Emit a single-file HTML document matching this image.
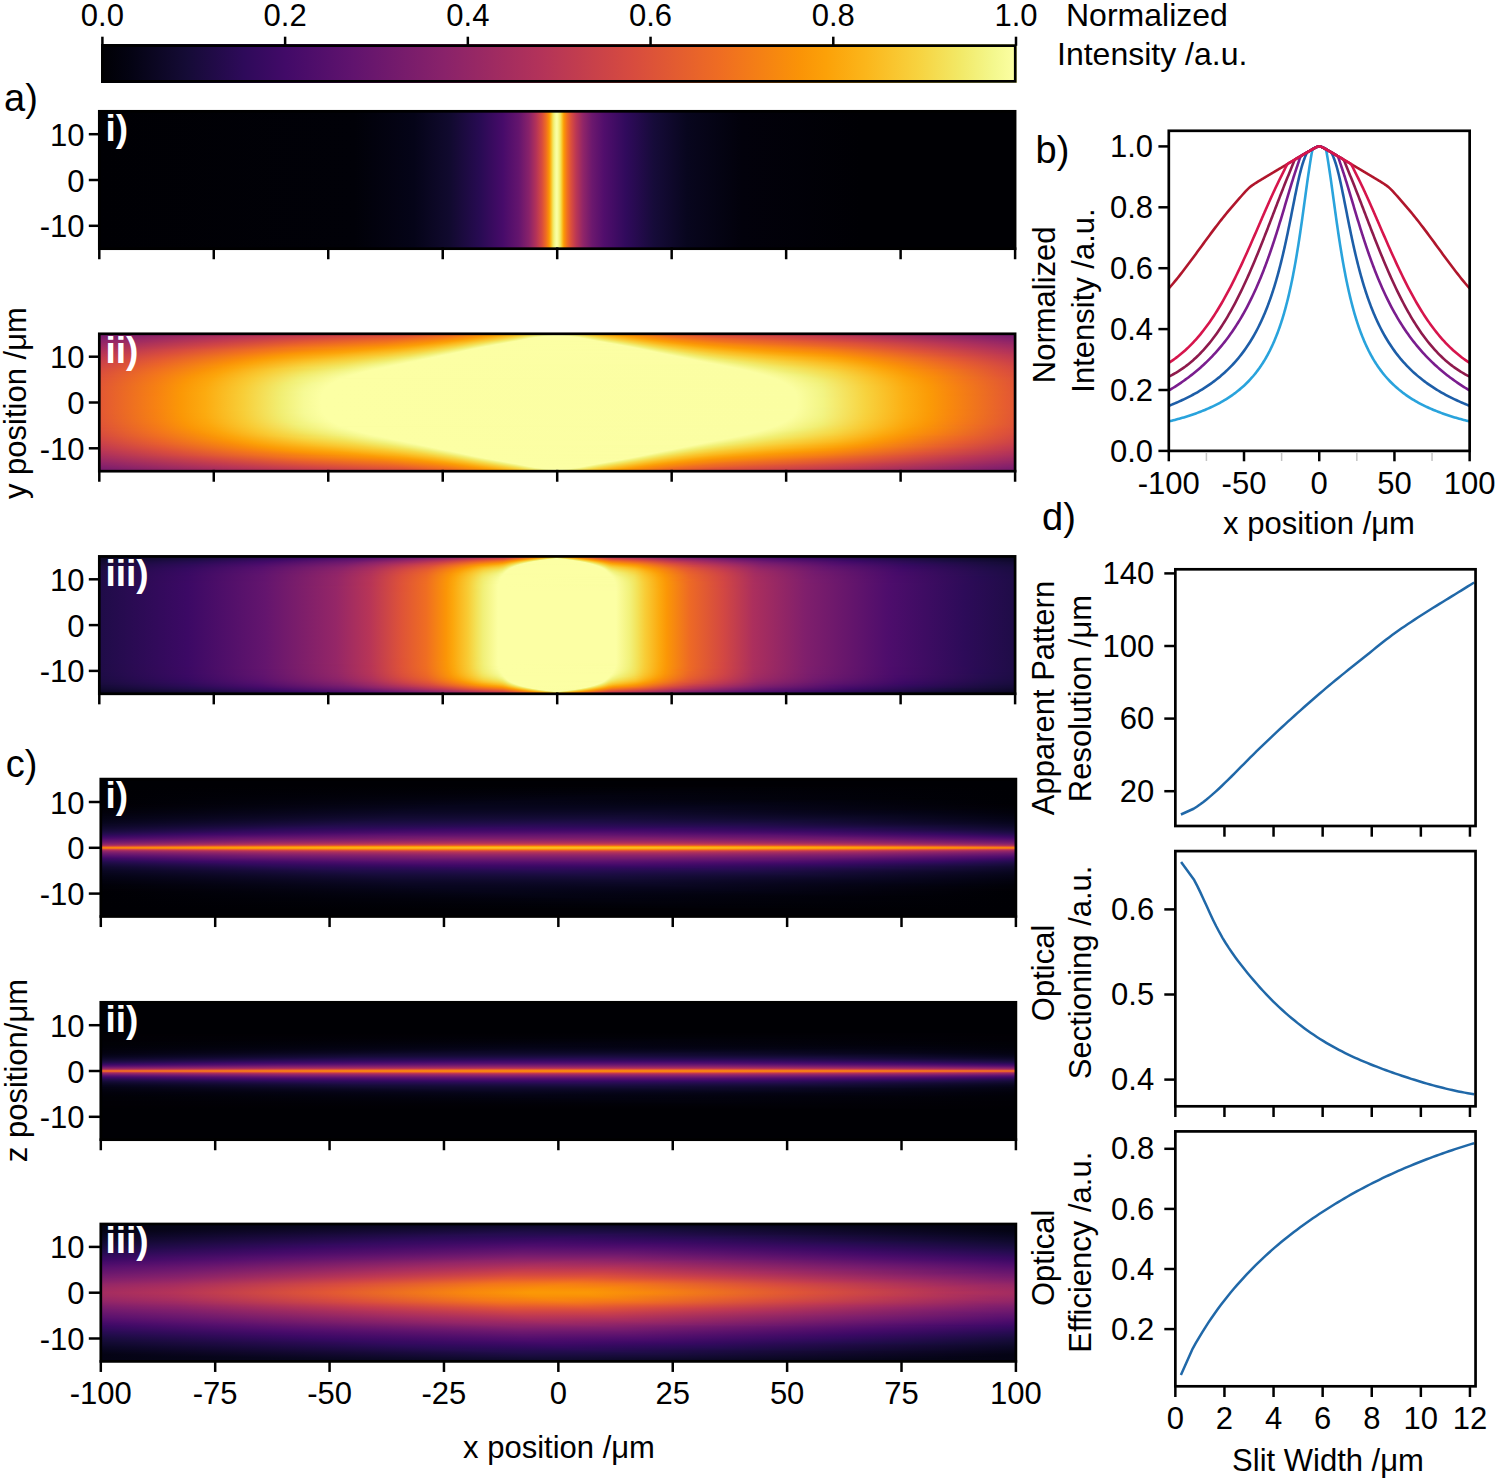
<!DOCTYPE html>
<html><head><meta charset="utf-8"><title>Figure</title><style>html,body{margin:0;padding:0;background:#fff;}body{width:1500px;height:1482px;position:relative;overflow:hidden;font-family:"Liberation Sans",sans-serif;}.hm{position:absolute;}</style></head><body>
<div class="hm" style="left:101px;top:44px;width:916px;height:39px;background:linear-gradient(90deg,#000004 0px,#040313 30px,#150b36 86px,#2e0a5a 143px,#420a68 185px,#60136e 251px,#89226a 343px,#b2325a 437px,#d74b3f 531px,#ef6d22 620px,#fa9307 698px,#fca108 725px,#fbb61b 765px,#f7d340 818px,#f2e967 859px,#f4f88e 893px,#fcffa4 915px)"></div>
<div class="hm" style="left:99px;top:111px;width:917px;height:138px;background:linear-gradient(90deg,#000004 0px,#010108 255px,#050418 315px,#110a2f 351px,#280b53 381px,#470b6a 404px,#65156e 420px,#89226a 430px,#b33259 437px,#d84c3e 443px,#ef6c22 447px,#fa9207 450px,#fca50a 451px,#fbbb20 452px,#f3e55e 454px,#f1f079 455px,#f4f88e 456px,#f9fd9e 457px,#fbfea2 458px,#f6fa95 459px,#f2ea6a 461px,#f5da4b 462px,#fac42b 463px,#fcad12 464px,#fb9806 465px,#f1701f 468px,#db4f3c 472px,#bb3754 477px,#912568 484px,#6c186e 493px,#510e6c 505px,#300a5c 527px,#160b39 555px,#08061e 588px,#02010b 643px,#000004 764px,#000004 916px)"></div>
<div class="hm" style="left:99px;top:333px;width:917px;height:1px;background:linear-gradient(90deg,#70196e 0px,#a72d60 148px,#bd3853 225px,#d64a40 316px,#ea6429 360px,#fa9307 402px,#fca50a 414px,#fbbd22 426px,#f4dd4f 443px,#f1ee71 458px,#f7d33f 479px,#fcad11 497px,#fb9b06 508px,#f78410 525px,#e65e2e 563px,#d24644 612px,#a92e5e 760px,#711a6e 910px,#6f196e 916px)"></div>
<div class="hm" style="left:99px;top:334px;width:917px;height:1px;background:linear-gradient(90deg,#731a6e 0px,#ab2f5e 144px,#c23b50 221px,#da4e3c 312px,#ed6925 357px,#fb9706 397px,#fca90e 409px,#fac127 422px,#f2e863 441px,#f5f890 457px,#f3f687 462px,#f4de52 480px,#fbbb20 496px,#fca208 511px,#fa8f08 524px,#eb6628 562px,#d84c3e 609px,#bf3952 710px,#85216b 869px,#731a6e 916px)"></div>
<div class="hm" style="left:99px;top:335px;width:917px;height:1px;background:linear-gradient(90deg,#771c6d 0px,#ae305c 140px,#c73e4c 218px,#de5338 309px,#f06e21 354px,#fb9706 389px,#fca80d 401px,#fac52c 418px,#f4e055 430px,#f4f78b 444px,#fcffa4 454px,#fbfea2 463px,#f2f17b 476px,#f7d13c 492px,#fbb91e 504px,#fca108 519px,#f98e09 533px,#ed6a25 567px,#dc503a 613px,#c43c4f 713px,#8a236a 867px,#771c6d 916px)"></div>
<div class="hm" style="left:99px;top:336px;width:917px;height:1px;background:linear-gradient(90deg,#7b1d6d 0px,#b2325a 136px,#cc4249 216px,#e25734 306px,#f2731d 350px,#fb9806 382px,#fca90d 394px,#f9c830 413px,#f5dd4f 423px,#f3f587 435px,#fcffa4 444px,#fcffa4 472px,#f3f484 481px,#f6d948 494px,#fac128 506px,#fca50a 524px,#fa9307 537px,#f06f20 570px,#e05536 615px,#ca404a 710px,#942667 855px,#7b1d6d 916px)"></div>
<div class="hm" style="left:99px;top:337px;width:917px;height:1px;background:linear-gradient(90deg,#7f1f6c 0px,#b63458 132px,#d14545 214px,#e65c2f 303px,#f47919 347px,#fb9806 375px,#fcab0f 388px,#f9cb34 408px,#f3e258 420px,#f4f78b 430px,#fcffa4 436px,#fcfea3 480px,#f1ee72 490px,#f5db4b 499px,#fbbe24 515px,#fca309 533px,#fa9108 546px,#f0701f 579px,#e25833 624px,#c23b50 751px,#8b2369 885px,#7f1e6c 916px)"></div>
<div class="hm" style="left:99px;top:338px;width:917px;height:1px;background:linear-gradient(90deg,#83206b 0px,#b93656 129px,#d54941 212px,#e9612b 299px,#f57c16 342px,#fb9a06 369px,#fcac11 382px,#f8cc36 402px,#f3e45c 415px,#f3f586 424px,#fcffa4 430px,#fcffa4 485px,#f1ee73 495px,#f5db4c 505px,#fac026 521px,#fca108 541px,#fa8f09 555px,#ef6d22 594px,#e15635 650px,#c73e4c 751px,#902468 884px,#83206c 916px)"></div>
<div class="hm" style="left:99px;top:339px;width:917px;height:1px;background:linear-gradient(90deg,#87216b 0px,#bd3853 126px,#d94d3d 210px,#ec6627 296px,#f68112 338px,#fb9a06 362px,#fcac11 375px,#f8cf3a 397px,#f2e864 411px,#f5f891 421px,#fcffa4 425px,#fcffa4 490px,#f1ef76 500px,#f5da4b 512px,#fbbc22 530px,#fca108 548px,#fa8f09 563px,#ef6d21 605px,#df5337 678px,#cb4149 754px,#932667 887px,#86216b 916px)"></div>
<div class="hm" style="left:99px;top:340px;width:917px;height:1px;background:linear-gradient(90deg,#8b236a 0px,#c13a51 123px,#dd5239 208px,#ee6c23 293px,#f8870e 335px,#fb9c06 356px,#fcaf13 370px,#f7d23e 392px,#f2ea69 406px,#f7fa96 417px,#fcfea4 420px,#fcffa4 495px,#f1ef76 506px,#f5d949 519px,#fbb91e 539px,#fca008 556px,#f98d0a 574px,#f06f20 615px,#df5437 697px,#ca404a 768px,#8f2468 904px,#8a226a 916px)"></div>
<div class="hm" style="left:99px;top:341px;width:917px;height:1px;background:linear-gradient(90deg,#8e2469 0px,#c43c4e 121px,#e15734 207px,#f1721e 291px,#f98d0a 333px,#fca008 352px,#fbb71c 369px,#f6d847 389px,#f1ef75 403px,#fbfea1 414px,#fcffa4 417px,#fbfea3 501px,#f1ef76 512px,#f6d948 526px,#fbb81d 546px,#fca108 563px,#fa8e09 581px,#f1721e 623px,#e25734 706px,#c73e4c 788px,#902468 912px,#8e2469 916px)"></div>
<div class="hm" style="left:99px;top:342px;width:917px;height:1px;background:linear-gradient(90deg,#922568 0px,#c83f4b 120px,#e55b30 205px,#f3771a 288px,#fa9307 330px,#fca40a 347px,#fbbd22 366px,#f5dc4d 385px,#f2f381 400px,#fcfea4 409px,#fcffa4 506px,#f1f076 518px,#f6d746 533px,#fbb91e 552px,#fca209 570px,#fa9008 589px,#f2741c 633px,#db4f3b 747px,#b0315b 853px,#922568 916px)"></div>
<div class="hm" style="left:99px;top:343px;width:917px;height:1px;background:linear-gradient(90deg,#962766 0px,#cc4248 119px,#e8602c 204px,#f57d15 286px,#fb9906 328px,#fcaa0f 345px,#fac52c 365px,#f4e156 382px,#f4f78c 397px,#fcffa4 404px,#fcfea4 512px,#f1f076 524px,#f6d746 539px,#fbbb20 557px,#fca209 578px,#fa9008 598px,#f2741d 651px,#de5338 749px,#b73557 847px,#952666 916px)"></div>
<div class="hm" style="left:99px;top:344px;width:917px;height:1px;background:linear-gradient(90deg,#992865 0px,#ce4347 114px,#eb6528 201px,#f78311 284px,#fb9c06 322px,#fcaf13 341px,#f9ca32 362px,#f3e45c 378px,#f5f88f 392px,#fcffa4 398px,#fbfea2 518px,#f1ef76 530px,#f6d746 545px,#fbbc22 563px,#fca309 586px,#fa9008 608px,#f0701f 677px,#e05536 755px,#ba3655 850px,#992865 916px)"></div>
<div class="hm" style="left:99px;top:345px;width:917px;height:1px;background:linear-gradient(90deg,#9d2964 0px,#d04545 110px,#ed6925 198px,#f8890c 282px,#fb9e07 315px,#fcb216 336px,#f8cd37 358px,#f3e55e 373px,#f5f991 387px,#fcffa4 393px,#fcffa4 523px,#f1ef75 536px,#f6d948 550px,#fac026 567px,#fca50b 592px,#fa9407 614px,#f1721e 690px,#e15635 762px,#b83557 861px,#9d2964 916px)"></div>
<div class="hm" style="left:99px;top:346px;width:917px;height:1px;background:linear-gradient(90deg,#a02b62 0px,#d34743 107px,#f06e21 196px,#fa8f09 280px,#fca208 310px,#fbb91e 335px,#f7d542 357px,#f2ea6a 371px,#f7fa97 383px,#fcffa4 387px,#fbfea3 529px,#f1ef76 541px,#f5da4a 555px,#fac228 573px,#fca70c 599px,#fb9606 623px,#f2741c 700px,#e05536 774px,#ba3655 864px,#a02a63 916px)"></div>
<div class="hm" style="left:99px;top:347px;width:917px;height:1px;background:linear-gradient(90deg,#a42c61 0px,#d64a40 105px,#f2731d 194px,#fb9606 280px,#fca70c 307px,#fac026 334px,#f5db4b 355px,#f1ee72 368px,#fafd9f 380px,#fcffa4 383px,#fcfea3 534px,#f1f077 546px,#f5db4c 560px,#fac127 581px,#fca70c 608px,#fb9606 635px,#f2751b 716px,#db4f3c 798px,#ba3655 871px,#a32c61 916px)"></div>
<div class="hm" style="left:99px;top:348px;width:917px;height:1px;background:linear-gradient(90deg,#a72d5f 0px,#d64a40 96px,#f3771a 190px,#fb9906 273px,#fcaa0e 301px,#fac32a 329px,#f5dc4e 350px,#f1ee73 363px,#fafd9f 375px,#fcffa4 378px,#fcfea4 539px,#f1f078 551px,#f4de51 564px,#fac42b 585px,#fcac10 612px,#fb9a06 640px,#f57d15 709px,#e25734 787px,#c13a51 865px,#a72d60 916px)"></div>
<div class="hm" style="left:99px;top:349px;width:917px;height:1px;background:linear-gradient(90deg,#aa2f5e 0px,#d64a40 86px,#f07020 167px,#f98d0a 234px,#fca008 274px,#fbb61a 307px,#f8cf3a 333px,#f2e762 352px,#f5f890 366px,#fcffa4 372px,#fbfea3 544px,#f1ef75 557px,#f4dd4f 571px,#fac42b 593px,#fcac10 622px,#fb9a06 654px,#f57d15 724px,#dc503a 811px,#b93556 887px,#aa2f5e 916px)"></div>
<div class="hm" style="left:99px;top:350px;width:917px;height:1px;background:linear-gradient(90deg,#ad305c 0px,#d64a40 79px,#f06f21 156px,#f98d0a 217px,#fca008 261px,#fbb71b 299px,#f8ce38 325px,#f3e45d 344px,#f4f78d 360px,#fcffa4 367px,#fbfea2 549px,#f1f077 562px,#f5db4c 579px,#fac229 602px,#fcaa0f 636px,#fb9906 669px,#f68013 729px,#dc503a 821px,#b1325b 909px,#ad305c 916px)"></div>
<div class="hm" style="left:99px;top:351px;width:917px;height:1px;background:linear-gradient(90deg,#b1315b 0px,#d74b3f 75px,#f1711f 152px,#fa9008 211px,#fca309 254px,#fbbc22 297px,#f7d340 323px,#f2e967 342px,#f7fa97 358px,#fcffa4 363px,#fcffa4 553px,#f1f079 567px,#f5db4d 585px,#fac42c 608px,#fcab10 646px,#fb9906 681px,#f8850f 729px,#e05536 817px,#b53458 906px,#b0315b 916px)"></div>
<div class="hm" style="left:99px;top:352px;width:917px;height:1px;background:linear-gradient(90deg,#b33359 0px,#d94d3d 73px,#f2751b 151px,#fa9307 203px,#fca40a 245px,#fac026 292px,#f6d543 318px,#f2ea69 337px,#f7fa97 353px,#fcffa4 358px,#fcfea4 558px,#f1f078 573px,#f5dc4e 591px,#f9c72e 614px,#fcab10 657px,#fb9a06 694px,#f8880d 734px,#e05536 824px,#b93656 905px,#b33359 916px)"></div>
<div class="hm" style="left:99px;top:353px;width:917px;height:1px;background:linear-gradient(90deg,#b63457 0px,#da4e3c 70px,#f47819 149px,#fb9506 196px,#fca70c 238px,#fac42a 288px,#f5d949 315px,#f1ec6e 333px,#f8fb9a 349px,#fcffa4 354px,#fbfea3 563px,#f1f077 579px,#f5dd4f 597px,#f9c830 621px,#fcab10 669px,#fb9a06 708px,#f8880d 742px,#e25834 826px,#bc3754 904px,#b63458 916px)"></div>
<div class="hm" style="left:99px;top:354px;width:917px;height:1px;background:linear-gradient(90deg,#b93656 0px,#dc503a 68px,#f57d15 149px,#fb9706 189px,#fcaa0f 232px,#fac62d 282px,#f5db4c 310px,#f1ee72 329px,#fafda0 346px,#fcffa4 350px,#fcfea3 568px,#f1ef76 585px,#f5dc4e 604px,#f9c72f 632px,#fcab0f 682px,#fb9706 726px,#f57c16 768px,#d94d3d 853px,#b93656 916px)"></div>
<div class="hm" style="left:99px;top:355px;width:917px;height:1px;background:linear-gradient(90deg,#bc3754 0px,#de5238 67px,#f78112 149px,#fb9906 184px,#fcb115 234px,#f8cd37 284px,#f3e157 310px,#f2f381 329px,#fcffa4 343px,#fcfea3 573px,#f1f077 590px,#f4de52 609px,#f9c932 638px,#fcad11 689px,#fb9706 734px,#f57c16 775px,#db4f3b 854px,#bb3754 916px)"></div>
<div class="hm" style="left:99px;top:356px;width:917px;height:1px;background:linear-gradient(90deg,#be3952 0px,#df5437 65px,#f8850f 148px,#fb9a06 178px,#fbb91e 239px,#f6d542 286px,#f2e763 310px,#f6f993 331px,#fcffa4 339px,#fbfea3 578px,#f1f077 596px,#f4df52 616px,#f9c830 650px,#fcae12 700px,#fb9706 741px,#f57c16 781px,#dd513a 856px,#be3853 916px)"></div>
<div class="hm" style="left:99px;top:357px;width:917px;height:1px;background:linear-gradient(90deg,#c13a51 0px,#e15635 64px,#f8880d 146px,#fb9c06 174px,#fbb61b 223px,#f7d13c 271px,#f3e55e 300px,#f3f688 321px,#fcffa4 334px,#fbfea3 583px,#f1f076 602px,#f4de52 624px,#fac52c 664px,#fca40a 730px,#fa9207 756px,#e9622b 831px,#c93f4b 900px,#c03a51 916px)"></div>
<div class="hm" style="left:99px;top:358px;width:917px;height:1px;background:linear-gradient(90deg,#c33b4f 0px,#e35833 63px,#f8890c 142px,#fb9d06 169px,#fbb81d 216px,#f7d13d 263px,#f2e661 295px,#f4f78d 318px,#fcffa4 329px,#fbfea2 588px,#f1f076 608px,#f4de52 632px,#fac52c 674px,#fca309 738px,#fa9008 764px,#e8602d 840px,#c9404b 903px,#c33b4f 916px)"></div>
<div class="hm" style="left:99px;top:359px;width:917px;height:1px;background:linear-gradient(90deg,#c53d4e 0px,#e45a31 62px,#f98a0b 138px,#fb9e07 164px,#fbbc21 213px,#f7d441 259px,#f2e967 292px,#f6fa94 316px,#fcffa4 324px,#fbfea2 593px,#f1f077 614px,#f4de51 641px,#fac52c 683px,#fca70c 738px,#fb9506 763px,#ea6429 838px,#cd4248 901px,#c53d4e 916px)"></div>
<div class="hm" style="left:99px;top:360px;width:917px;height:1px;background:linear-gradient(90deg,#c73e4c 0px,#e65d2f 62px,#f98d09 137px,#fca008 162px,#fac026 212px,#f6d746 256px,#f1ed6f 290px,#f8fc9b 314px,#fcffa4 320px,#fcfea4 597px,#f1f17a 619px,#f4de50 649px,#fac62d 691px,#fcab10 739px,#fb9806 764px,#f57e15 800px,#e25734 862px,#c73e4c 916px)"></div>
<div class="hm" style="left:99px;top:361px;width:917px;height:1px;background:linear-gradient(90deg,#c9404b 0px,#e75f2e 61px,#f98e09 133px,#fca108 157px,#fac32a 209px,#f5da49 252px,#f1ef75 287px,#fafda1 312px,#fcffa4 318px,#fcfea4 602px,#f1f079 626px,#f5dc4d 660px,#fac52d 702px,#fca80d 749px,#fb9606 772px,#e9612b 850px,#cc4248 910px,#c93f4b 916px)"></div>
<div class="hm" style="left:99px;top:362px;width:917px;height:1px;background:linear-gradient(90deg,#cb4149 0px,#e8602c 60px,#fa8f08 130px,#fca209 154px,#f9c72f 208px,#f5dc4e 249px,#f2f27c 285px,#fcffa4 310px,#fcfea3 607px,#f1f078 633px,#f5db4c 669px,#fbb61a 736px,#fb9d06 768px,#f8890c 794px,#e75e2e 859px,#cb4149 916px)"></div>
<div class="hm" style="left:99px;top:363px;width:917px;height:1px;background:linear-gradient(90deg,#cd4248 0px,#ea632a 60px,#fa9207 129px,#fca40a 152px,#f9cb34 207px,#f4df54 247px,#f3f586 285px,#fcffa4 305px,#fcfea4 612px,#f1f077 640px,#f5dc4d 675px,#fbba1f 736px,#fb9e07 771px,#f98b0b 796px,#e85f2d 860px,#cd4248 916px)"></div>
<div class="hm" style="left:99px;top:364px;width:917px;height:1px;background:linear-gradient(90deg,#cf4446 0px,#ea6429 59px,#fa9407 127px,#fca50b 149px,#f8cf39 206px,#f3e259 245px,#f4f88e 284px,#fcffa4 300px,#fbfea2 618px,#f1ef75 648px,#f5db4c 683px,#fbbd23 736px,#fc9f07 774px,#f98c0a 798px,#e9622b 860px,#ce4347 916px)"></div>
<div class="hm" style="left:99px;top:365px;width:917px;height:1px;background:linear-gradient(90deg,#d04545 0px,#ec6627 59px,#fb9606 126px,#fca80d 148px,#f7d23f 206px,#f2e65f 244px,#f5f992 281px,#fcffa4 295px,#fbfea2 623px,#f1ef75 654px,#f5dc4e 689px,#fac127 736px,#fca108 776px,#f98e09 800px,#ea632a 861px,#d04545 916px)"></div>
<div class="hm" style="left:99px;top:366px;width:917px;height:1px;background:linear-gradient(90deg,#d24644 0px,#ed6825 59px,#fb9606 122px,#fca80d 144px,#f6d643 205px,#f2e864 242px,#f6fa94 277px,#fcffa4 291px,#fbfea2 628px,#f1ef75 660px,#f5dd4f 695px,#fac32a 738px,#fca108 779px,#fa8f09 802px,#eb6429 862px,#d24644 916px)"></div>
<div class="hm" style="left:99px;top:367px;width:917px;height:1px;background:linear-gradient(90deg,#d34743 0px,#ed6a24 58px,#fa9407 117px,#fca60c 139px,#f6d948 204px,#f2eb6a 241px,#f7fb99 275px,#fcffa4 286px,#fbfea3 633px,#f1ef75 666px,#f4de51 700px,#fac42b 741px,#fca208 782px,#fa8f08 805px,#eb6528 864px,#d34743 916px)"></div>
<div class="hm" style="left:99px;top:368px;width:917px;height:1px;background:linear-gradient(90deg,#d54941 0px,#ee6c23 58px,#fa9407 113px,#fca60b 135px,#f8d03b 186px,#f1ee71 241px,#fafd9f 275px,#fcffa4 282px,#fbfea2 638px,#f1ef74 672px,#f4de52 706px,#fbbf25 751px,#fca008 787px,#f98d09 811px,#ea632a 869px,#d44842 916px)"></div>
<div class="hm" style="left:99px;top:369px;width:917px;height:1px;background:linear-gradient(90deg,#d64a40 0px,#ef6e21 58px,#fa9307 109px,#fca50b 131px,#f8cd37 178px,#f2e55f 218px,#f5f88f 258px,#fcffa4 276px,#fbfea2 643px,#f1ef75 677px,#f7d13d 732px,#fca70c 782px,#fb9606 803px,#f2741c 849px,#db4f3b 905px,#d54a41 916px)"></div>
<div class="hm" style="left:99px;top:370px;width:917px;height:1px;background:linear-gradient(90deg,#d74b3f 0px,#f06f20 58px,#fa9307 106px,#fca50b 128px,#f8cc35 173px,#f2e55f 212px,#f3f689 249px,#fcffa4 271px,#fbfea3 647px,#f1f076 681px,#f7d441 732px,#fcaa0e 782px,#fb9806 803px,#f67e14 839px,#df5337 899px,#d74b3f 916px)"></div>
<div class="hm" style="left:99px;top:371px;width:917px;height:1px;background:linear-gradient(90deg,#d84c3e 0px,#f1711f 58px,#fa9307 103px,#fca50a 125px,#f9ca33 168px,#f2e761 209px,#f4f88e 248px,#fcffa4 267px,#fbfea3 651px,#f1ef76 686px,#f6d745 732px,#fcac11 782px,#fb9a06 804px,#f78211 836px,#e05536 898px,#d84c3e 916px)"></div>
<div class="hm" style="left:99px;top:372px;width:917px;height:1px;background:linear-gradient(90deg,#d94d3d 0px,#f1731d 58px,#fa9407 101px,#fca50b 123px,#f9ca33 165px,#f2e865 207px,#f6f993 248px,#fcffa4 263px,#fbfea3 655px,#f1ef76 691px,#f6d948 733px,#fcae13 782px,#fb9b06 805px,#f7850f 835px,#e15635 898px,#d94d3e 916px)"></div>
<div class="hm" style="left:99px;top:373px;width:917px;height:1px;background:linear-gradient(90deg,#da4e3c 0px,#f2731d 57px,#fa9307 98px,#fca50a 120px,#f9c931 161px,#f2e967 205px,#f6fa96 246px,#fcffa4 260px,#fbfea3 659px,#f1ef76 696px,#f5da4a 734px,#fcb015 782px,#fb9c06 806px,#f8870d 834px,#e25734 898px,#da4e3d 916px)"></div>
<div class="hm" style="left:99px;top:374px;width:917px;height:1px;background:linear-gradient(90deg,#db4f3c 0px,#f2751c 57px,#fa9407 96px,#fca50a 118px,#f9c932 159px,#f2eb6b 204px,#f7fb98 244px,#fcffa4 256px,#fbfea2 663px,#f1f077 700px,#f5da4a 737px,#fcb115 784px,#fb9c06 808px,#f8880d 835px,#e35833 898px,#da4e3c 916px)"></div>
<div class="hm" style="left:99px;top:375px;width:917px;height:1px;background:linear-gradient(90deg,#dc503b 0px,#f3761b 57px,#fa9407 94px,#fca60b 117px,#f9ca33 158px,#f1ec6e 203px,#f8fc9b 243px,#fcffa4 253px,#fbfea3 666px,#f1f077 704px,#f5d949 740px,#fcb115 786px,#fb9c06 810px,#f8880d 837px,#e35932 898px,#db4f3b 916px)"></div>
<div class="hm" style="left:99px;top:376px;width:917px;height:1px;background:linear-gradient(90deg,#dc503a 0px,#f3771a 57px,#fb9506 93px,#fca60c 116px,#f9cb34 157px,#f1ed71 202px,#f9fd9e 242px,#fcffa4 251px,#fbfea3 669px,#f1f078 707px,#f6d847 744px,#fcb014 789px,#fb9c06 812px,#f8890c 838px,#e45a31 898px,#dc503a 916px)"></div>
<div class="hm" style="left:99px;top:377px;width:917px;height:1px;background:linear-gradient(90deg,#dd5139 0px,#f47819 57px,#fa9507 91px,#fca60b 114px,#f9cb34 155px,#f1ef74 201px,#fafda0 241px,#fcffa4 250px,#fbfea3 672px,#f1f078 711px,#f7d33f 752px,#fcad11 794px,#fb9b06 816px,#f8870e 842px,#e45a32 900px,#dd513a 916px)"></div>
<div class="hm" style="left:99px;top:378px;width:917px;height:1px;background:linear-gradient(90deg,#de5239 0px,#f47918 57px,#fb9506 90px,#fca70c 113px,#f9cb34 153px,#f1ef76 200px,#fbfea2 240px,#fbfea3 675px,#f1ef75 716px,#f9c82f 766px,#fca50a 805px,#fa9207 829px,#e8602d 892px,#dd5239 916px)"></div>
<div class="hm" style="left:99px;top:379px;width:917px;height:1px;background:linear-gradient(90deg,#de5238 0px,#f47a17 57px,#fb9606 89px,#fca70c 112px,#f9cb34 152px,#f1f078 199px,#fcffa4 241px,#fbfea2 678px,#f1ee73 720px,#f9c931 766px,#fca60b 805px,#fa9407 828px,#f06f20 872px,#de5238 916px)"></div>
<div class="hm" style="left:99px;top:380px;width:917px;height:1px;background:linear-gradient(90deg,#df5338 0px,#f57b16 57px,#fb9606 88px,#fca80c 111px,#f8cc35 151px,#f2f17a 198px,#fcffa4 239px,#fbfea3 680px,#f1ee72 723px,#f9ca33 766px,#fca70c 805px,#fb9506 828px,#f47819 862px,#de5338 916px)"></div>
<div class="hm" style="left:99px;top:381px;width:917px;height:1px;background:linear-gradient(90deg,#df5437 0px,#f57c16 57px,#fb9606 87px,#fca80d 110px,#f8cc35 150px,#f2f27c 198px,#fcffa4 237px,#fbfea3 682px,#f1ef74 723px,#f9cb35 766px,#fca80d 805px,#fb9606 828px,#f57d16 858px,#df5437 915px,#df5337 916px)"></div>
<div class="hm" style="left:99px;top:382px;width:917px;height:1px;background:linear-gradient(90deg,#df5437 0px,#f57d15 57px,#fb9606 86px,#fca80d 109px,#f9cb34 148px,#f1ee71 189px,#f6f993 216px,#fcffa4 235px,#fbfea3 684px,#f1f077 723px,#f8cc36 766px,#fca80d 806px,#fb9606 829px,#f57d15 858px,#e05436 915px,#df5437 916px)"></div>
<div class="hm" style="left:99px;top:383px;width:917px;height:1px;background:linear-gradient(90deg,#e05536 0px,#f57e15 57px,#fb9606 85px,#fca80d 108px,#f9cb34 147px,#f1ed70 187px,#f5f991 212px,#fcffa4 233px,#fbfea3 686px,#f2f17b 722px,#f8cd37 766px,#fca90e 806px,#fb9706 829px,#f68013 856px,#e15635 912px,#e05437 916px)"></div>
<div class="hm" style="left:99px;top:384px;width:917px;height:1px;background:linear-gradient(90deg,#e05536 0px,#f67e14 57px,#fb9706 85px,#fca90d 108px,#f8cc35 147px,#f1ee72 187px,#f6f993 212px,#fcffa4 232px,#fbfea2 688px,#f2f27d 722px,#f8ce39 766px,#fcaa0e 806px,#fb9806 829px,#f78112 855px,#e25734 911px,#e05536 916px)"></div>
<div class="hm" style="left:99px;top:385px;width:917px;height:1px;background:linear-gradient(90deg,#e05536 0px,#f67f14 57px,#fb9706 84px,#fca80d 107px,#f8cc35 146px,#f1ed71 185px,#f5f992 209px,#fcffa4 230px,#fbfea3 689px,#f2f27e 722px,#f8cf3a 766px,#fcaa0f 806px,#fb9906 829px,#f78311 854px,#e35833 910px,#e05536 916px)"></div>
<div class="hm" style="left:99px;top:386px;width:917px;height:1px;background:linear-gradient(90deg,#e15635 0px,#f67f13 57px,#fb9706 84px,#fca90e 107px,#f8cd36 146px,#f1ee72 185px,#f6f993 209px,#fcffa4 229px,#fbfea2 691px,#f2f27e 723px,#f8d03b 766px,#fcab10 806px,#fb9906 829px,#f78410 853px,#e45932 909px,#e05536 916px)"></div>
<div class="hm" style="left:99px;top:387px;width:917px;height:1px;background:linear-gradient(90deg,#e15635 0px,#f68013 57px,#fb9706 83px,#fca90e 106px,#f9cb34 144px,#f1ed70 183px,#f5f993 207px,#fcffa4 228px,#fbfea3 692px,#f2f380 723px,#f8d03b 766px,#fcac10 806px,#fb9906 830px,#f78410 854px,#e35932 910px,#e15635 916px)"></div>
<div class="hm" style="left:99px;top:388px;width:917px;height:1px;background:linear-gradient(90deg,#e15635 0px,#f68013 57px,#fb9706 83px,#fca90e 106px,#f8cc35 144px,#f1ed71 183px,#f5f993 206px,#fcffa4 227px,#fbfea3 693px,#f2f381 723px,#f8d03b 767px,#fcac11 806px,#fb9906 830px,#f78410 854px,#e35932 910px,#e15635 916px)"></div>
<div class="hm" style="left:99px;top:389px;width:917px;height:1px;background:linear-gradient(90deg,#e15635 0px,#f68013 57px,#fb9806 83px,#fcaa0e 106px,#f8cc36 144px,#f1ee72 183px,#f6f994 206px,#fcffa4 226px,#fbfea3 694px,#f2f482 723px,#f8d03b 767px,#fcac11 806px,#fb9a06 830px,#f8850f 853px,#e45a31 909px,#e15635 916px)"></div>
<div class="hm" style="left:99px;top:390px;width:917px;height:1px;background:linear-gradient(90deg,#e15734 0px,#f68112 57px,#fb9706 82px,#fca90e 105px,#f8cc35 143px,#f1ed6f 181px,#f6f993 205px,#fcffa4 225px,#fbfea2 695px,#f2f483 723px,#f7d13c 767px,#fcad11 806px,#fb9a06 830px,#f8860f 853px,#e45a31 909px,#e15635 916px)"></div>
<div class="hm" style="left:99px;top:391px;width:917px;height:1px;background:linear-gradient(90deg,#e25734 0px,#f68112 57px,#fb9706 82px,#fca90e 105px,#f8cc35 143px,#f1ed70 181px,#f6f993 204px,#fcffa4 225px,#fbfea2 696px,#f2f482 724px,#f7d13c 767px,#fcad12 806px,#fb9a06 830px,#f8860e 853px,#e45b31 909px,#e15635 916px)"></div>
<div class="hm" style="left:99px;top:392px;width:917px;height:1px;background:linear-gradient(90deg,#e25734 0px,#f68112 57px,#fb9806 82px,#fcab0f 106px,#f8cd37 144px,#f1ee73 182px,#f6fa95 205px,#fcffa4 224px,#fbfea3 696px,#f3f484 723px,#f7d441 764px,#fcaf13 804px,#fb9b06 829px,#f8880d 851px,#e65d2f 906px,#e15635 916px)"></div>
<div class="hm" style="left:99px;top:393px;width:917px;height:1px;background:linear-gradient(90deg,#e25734 0px,#f78112 57px,#fb9806 82px,#fcab0f 106px,#f8cd37 144px,#f1ee73 182px,#f6fa95 205px,#fcffa4 224px,#fbfea2 697px,#f2f483 724px,#f7d23d 767px,#fcae12 806px,#fb9b06 830px,#f8860e 853px,#e45b31 909px,#e15734 916px)"></div>
<div class="hm" style="left:99px;top:394px;width:917px;height:1px;background:linear-gradient(90deg,#e25734 0px,#f78112 57px,#fb9806 82px,#fcab0f 106px,#f8ce38 144px,#f1ee73 182px,#f6fa95 205px,#fcffa4 223px,#fbfea3 697px,#f2f484 724px,#f7d23d 767px,#fcae12 806px,#fb9b06 830px,#f8870d 852px,#e55c30 907px,#e15734 916px)"></div>
<div class="hm" style="left:99px;top:395px;width:917px;height:1px;background:linear-gradient(90deg,#e25734 0px,#f78112 57px,#fb9806 82px,#fcab10 106px,#f8ce38 144px,#f1ee74 182px,#f6fa96 205px,#fcffa4 223px,#fbfea3 697px,#f2f484 724px,#f7d33f 766px,#fcaf13 805px,#fb9b06 830px,#f8870d 852px,#e55c30 907px,#e25734 916px)"></div>
<div class="hm" style="left:99px;top:396px;width:917px;height:1px;background:linear-gradient(90deg,#e25734 0px,#f78212 57px,#fb9806 82px,#fcab10 106px,#f8ce38 144px,#f1ef74 182px,#f6fa96 205px,#fcffa4 223px,#fbfea2 698px,#f2f484 724px,#f7d33f 766px,#fcaf13 805px,#fb9b06 830px,#f8880d 852px,#e65c30 907px,#e25734 916px)"></div>
<div class="hm" style="left:99px;top:397px;width:917px;height:1px;background:linear-gradient(90deg,#e25734 0px,#f78212 57px,#fb9806 82px,#fcab10 106px,#f8ce38 144px,#f1ef74 182px,#f7fa96 205px,#fcffa4 223px,#fbfea2 698px,#f3f484 724px,#f7d441 765px,#fcaf13 805px,#fb9b06 830px,#f8880d 852px,#e65c30 907px,#e25734 916px)"></div>
<div class="hm" style="left:99px;top:398px;width:917px;height:2px;background:linear-gradient(90deg,#e25734 0px,#f78212 57px,#fb9806 82px,#fcab10 106px,#f8ce38 144px,#f1ef74 182px,#f7fa96 205px,#fcffa4 223px,#fbfea2 698px,#f3f584 724px,#f7d441 765px,#fcaf13 805px,#fb9b06 830px,#f8880d 852px,#e65c30 907px,#e25734 916px)"></div>
<div class="hm" style="left:99px;top:400px;width:917px;height:5px;background:linear-gradient(90deg,#e25734 0px,#f78212 57px,#fb9806 82px,#fcab10 106px,#f8ce38 144px,#f1ef74 182px,#f7fa96 205px,#fcffa4 222px,#fbfea2 698px,#f3f584 724px,#f7d441 765px,#fcaf13 805px,#fb9b06 830px,#f8880d 852px,#e65c30 907px,#e25734 916px)"></div>
<div class="hm" style="left:99px;top:405px;width:917px;height:2px;background:linear-gradient(90deg,#e25734 0px,#f78212 57px,#fb9806 82px,#fcab10 106px,#f8ce38 144px,#f1ef74 182px,#f7fa96 205px,#fcffa4 223px,#fbfea2 698px,#f3f584 724px,#f7d441 765px,#fcaf13 805px,#fb9b06 830px,#f8880d 852px,#e65c30 907px,#e25734 916px)"></div>
<div class="hm" style="left:99px;top:407px;width:917px;height:1px;background:linear-gradient(90deg,#e25734 0px,#f78212 57px,#fb9806 82px,#fcab10 106px,#f8ce38 144px,#f1ef74 182px,#f7fa96 205px,#fcffa4 223px,#fbfea2 698px,#f3f484 724px,#f7d441 765px,#fcaf13 805px,#fb9b06 830px,#f8880d 852px,#e65c30 907px,#e25734 916px)"></div>
<div class="hm" style="left:99px;top:408px;width:917px;height:1px;background:linear-gradient(90deg,#e25734 0px,#f78212 57px,#fb9806 82px,#fcab10 106px,#f8ce38 144px,#f1ef74 182px,#f6fa96 205px,#fcffa4 223px,#fbfea2 698px,#f2f484 724px,#f7d33f 766px,#fcaf13 805px,#fb9b06 830px,#f8880d 852px,#e65c30 907px,#e25734 916px)"></div>
<div class="hm" style="left:99px;top:409px;width:917px;height:1px;background:linear-gradient(90deg,#e25734 0px,#f78112 57px,#fb9806 82px,#fcab10 106px,#f8ce38 144px,#f1ee74 182px,#f6fa96 205px,#fcffa4 223px,#fbfea3 697px,#f2f484 724px,#f7d33f 766px,#fcaf13 805px,#fb9b06 830px,#f8870d 852px,#e55c30 907px,#e25734 916px)"></div>
<div class="hm" style="left:99px;top:410px;width:917px;height:1px;background:linear-gradient(90deg,#e25734 0px,#f78112 57px,#fb9806 82px,#fcab0f 106px,#f8ce38 144px,#f1ee73 182px,#f6fa95 205px,#fcffa4 223px,#fbfea3 697px,#f2f484 724px,#f7d23d 767px,#fcae12 806px,#fb9b06 830px,#f8870d 852px,#e55c30 907px,#e15734 916px)"></div>
<div class="hm" style="left:99px;top:411px;width:917px;height:1px;background:linear-gradient(90deg,#e25734 0px,#f78112 57px,#fb9806 82px,#fcab0f 106px,#f8cd37 144px,#f1ee73 182px,#f6fa95 205px,#fcffa4 224px,#fbfea2 697px,#f2f483 724px,#f7d23d 767px,#fcae12 806px,#fb9b06 830px,#f8860e 853px,#e45b31 909px,#e15734 916px)"></div>
<div class="hm" style="left:99px;top:412px;width:917px;height:1px;background:linear-gradient(90deg,#e25734 0px,#f68112 57px,#fb9806 82px,#fcab0f 106px,#f8cd37 144px,#f1ee73 182px,#f6fa95 205px,#fcffa4 224px,#fbfea3 696px,#f3f484 723px,#f7d441 764px,#fcaf13 804px,#fb9b06 829px,#f8880d 851px,#e65d2f 906px,#e15635 916px)"></div>
<div class="hm" style="left:99px;top:413px;width:917px;height:1px;background:linear-gradient(90deg,#e25734 0px,#f68112 57px,#fb9706 82px,#fca90e 105px,#f8cc35 143px,#f1ed70 181px,#f6f993 204px,#fcffa4 225px,#fbfea2 696px,#f2f482 724px,#f7d13c 767px,#fcad12 806px,#fb9a06 830px,#f8860e 853px,#e45b31 909px,#e15635 916px)"></div>
<div class="hm" style="left:99px;top:414px;width:917px;height:1px;background:linear-gradient(90deg,#e15734 0px,#f68112 57px,#fb9706 82px,#fca90e 105px,#f8cc35 143px,#f1ed6f 181px,#f6f993 205px,#fcffa4 225px,#fbfea2 695px,#f2f483 723px,#f7d13c 767px,#fcad11 806px,#fb9a06 830px,#f8860f 853px,#e45a31 909px,#e15635 916px)"></div>
<div class="hm" style="left:99px;top:415px;width:917px;height:1px;background:linear-gradient(90deg,#e15635 0px,#f68013 57px,#fb9806 83px,#fcaa0e 106px,#f8cc36 144px,#f1ee72 183px,#f6f994 206px,#fcffa4 226px,#fbfea3 694px,#f2f482 723px,#f8d03b 767px,#fcac11 806px,#fb9a06 830px,#f8850f 853px,#e45a31 909px,#e15635 916px)"></div>
<div class="hm" style="left:99px;top:416px;width:917px;height:1px;background:linear-gradient(90deg,#e15635 0px,#f68013 57px,#fb9706 83px,#fca90e 106px,#f8cc35 144px,#f1ed71 183px,#f5f993 206px,#fcffa4 227px,#fbfea3 693px,#f2f381 723px,#f8d03b 767px,#fcac11 806px,#fb9906 830px,#f78410 854px,#e35932 910px,#e15635 916px)"></div>
<div class="hm" style="left:99px;top:417px;width:917px;height:1px;background:linear-gradient(90deg,#e15635 0px,#f68013 57px,#fb9706 83px,#fca90e 106px,#f9cb34 144px,#f1ed70 183px,#f5f993 207px,#fcffa4 228px,#fbfea3 692px,#f2f380 723px,#f8d03b 766px,#fcac10 806px,#fb9906 830px,#f78410 854px,#e35932 910px,#e15635 916px)"></div>
<div class="hm" style="left:99px;top:418px;width:917px;height:1px;background:linear-gradient(90deg,#e15635 0px,#f67f13 57px,#fb9706 84px,#fca90e 107px,#f8cd36 146px,#f1ee72 185px,#f6f993 209px,#fcffa4 229px,#fbfea2 691px,#f2f27e 723px,#f8d03b 766px,#fcab10 806px,#fb9906 829px,#f78410 853px,#e45932 909px,#e05536 916px)"></div>
<div class="hm" style="left:99px;top:419px;width:917px;height:1px;background:linear-gradient(90deg,#e05536 0px,#f67f14 57px,#fb9706 84px,#fca80d 107px,#f8cc35 146px,#f1ed71 185px,#f5f992 209px,#fcffa4 230px,#fbfea3 689px,#f2f27e 722px,#f8cf3a 766px,#fcaa0f 806px,#fb9906 829px,#f78311 854px,#e35833 910px,#e05536 916px)"></div>
<div class="hm" style="left:99px;top:420px;width:917px;height:1px;background:linear-gradient(90deg,#e05536 0px,#f67e14 57px,#fb9706 85px,#fca90d 108px,#f8cc35 147px,#f1ee72 187px,#f6f993 212px,#fcffa4 232px,#fbfea2 688px,#f2f27d 722px,#f8ce39 766px,#fcaa0e 806px,#fb9806 829px,#f78112 855px,#e25734 911px,#e05536 916px)"></div>
<div class="hm" style="left:99px;top:421px;width:917px;height:1px;background:linear-gradient(90deg,#e05536 0px,#f57e15 57px,#fb9606 85px,#fca80d 108px,#f9cb34 147px,#f1ed70 187px,#f5f991 212px,#fcffa4 233px,#fbfea3 686px,#f2f17b 722px,#f8cd37 766px,#fca90e 806px,#fb9706 829px,#f68013 856px,#e15635 912px,#e05437 916px)"></div>
<div class="hm" style="left:99px;top:422px;width:917px;height:1px;background:linear-gradient(90deg,#df5437 0px,#f57d15 57px,#fb9606 86px,#fca80d 109px,#f9cb34 148px,#f1ee71 189px,#f6f993 216px,#fcffa4 235px,#fbfea3 684px,#f1f077 723px,#f8cc36 766px,#fca80d 806px,#fb9606 829px,#f57d15 858px,#e05436 915px,#df5437 916px)"></div>
<div class="hm" style="left:99px;top:423px;width:917px;height:1px;background:linear-gradient(90deg,#df5437 0px,#f57c16 57px,#fb9606 87px,#fca80d 110px,#f8cc35 150px,#f2f27c 198px,#fcffa4 237px,#fbfea3 682px,#f1ef74 723px,#f9cb35 766px,#fca80d 805px,#fb9606 828px,#f57d16 858px,#df5437 915px,#df5337 916px)"></div>
<div class="hm" style="left:99px;top:424px;width:917px;height:1px;background:linear-gradient(90deg,#df5338 0px,#f57b16 57px,#fb9606 88px,#fca80c 111px,#f8cc35 151px,#f2f17a 198px,#fcffa4 239px,#fbfea3 680px,#f1ee72 723px,#f9ca33 766px,#fca70c 805px,#fb9506 828px,#f47819 862px,#de5338 916px)"></div>
<div class="hm" style="left:99px;top:425px;width:917px;height:1px;background:linear-gradient(90deg,#de5238 0px,#f47a17 57px,#fb9606 89px,#fca70c 112px,#f9cb34 152px,#f1f078 199px,#fcffa4 241px,#fbfea2 678px,#f1ee73 720px,#f9c931 766px,#fca60b 805px,#fa9407 828px,#f06f20 872px,#de5238 916px)"></div>
<div class="hm" style="left:99px;top:426px;width:917px;height:1px;background:linear-gradient(90deg,#de5239 0px,#f47918 57px,#fb9506 90px,#fca70c 113px,#f9cb34 153px,#f1ef76 200px,#fbfea2 240px,#fbfea3 675px,#f1ef75 716px,#f9c82f 766px,#fca50a 805px,#fa9207 829px,#e8602d 892px,#dd5239 916px)"></div>
<div class="hm" style="left:99px;top:427px;width:917px;height:1px;background:linear-gradient(90deg,#dd5139 0px,#f47819 57px,#fa9507 91px,#fca60b 114px,#f9cb34 155px,#f1ef74 201px,#fafda0 241px,#fcffa4 250px,#fbfea3 672px,#f1f078 711px,#f7d33f 752px,#fcad11 794px,#fb9b06 816px,#f8870e 842px,#e45a32 900px,#dd513a 916px)"></div>
<div class="hm" style="left:99px;top:428px;width:917px;height:1px;background:linear-gradient(90deg,#dc503a 0px,#f3771a 57px,#fb9506 93px,#fca60c 116px,#f9cb34 157px,#f1ed71 202px,#f9fd9e 242px,#fcffa4 251px,#fbfea3 669px,#f1f078 707px,#f6d847 744px,#fcb014 789px,#fb9c06 812px,#f8890c 838px,#e45a31 898px,#dc503a 916px)"></div>
<div class="hm" style="left:99px;top:429px;width:917px;height:1px;background:linear-gradient(90deg,#dc503b 0px,#f3761b 57px,#fa9407 94px,#fca60b 117px,#f9ca33 158px,#f1ec6e 203px,#f8fc9b 243px,#fcffa4 253px,#fbfea3 666px,#f1f077 704px,#f5d949 740px,#fcb115 786px,#fb9c06 810px,#f8880d 837px,#e35932 898px,#db4f3b 916px)"></div>
<div class="hm" style="left:99px;top:430px;width:917px;height:1px;background:linear-gradient(90deg,#db4f3c 0px,#f2751c 57px,#fa9407 96px,#fca50a 118px,#f9c932 159px,#f2eb6b 204px,#f7fb98 244px,#fcffa4 256px,#fbfea2 663px,#f1f077 700px,#f5da4a 737px,#fcb115 784px,#fb9c06 808px,#f8880d 835px,#e35833 898px,#da4e3c 916px)"></div>
<div class="hm" style="left:99px;top:431px;width:917px;height:1px;background:linear-gradient(90deg,#da4e3c 0px,#f2731d 57px,#fa9307 98px,#fca50a 120px,#f9c931 161px,#f2e967 205px,#f6fa96 246px,#fcffa4 260px,#fbfea3 659px,#f1ef76 696px,#f5da4a 734px,#fcb015 782px,#fb9c06 806px,#f8870d 834px,#e25734 898px,#da4e3d 916px)"></div>
<div class="hm" style="left:99px;top:432px;width:917px;height:1px;background:linear-gradient(90deg,#d94d3d 0px,#f1731d 58px,#fa9407 101px,#fca50b 123px,#f9ca33 165px,#f2e865 207px,#f6f993 248px,#fcffa4 263px,#fbfea3 655px,#f1ef76 691px,#f6d948 733px,#fcae13 782px,#fb9b06 805px,#f7850f 835px,#e15635 898px,#d94d3e 916px)"></div>
<div class="hm" style="left:99px;top:433px;width:917px;height:1px;background:linear-gradient(90deg,#d84c3e 0px,#f1711f 58px,#fa9307 103px,#fca50a 125px,#f9ca33 168px,#f2e761 209px,#f4f88e 248px,#fcffa4 267px,#fbfea3 651px,#f1ef76 686px,#f6d745 732px,#fcac11 782px,#fb9a06 804px,#f78211 836px,#e05536 898px,#d84c3e 916px)"></div>
<div class="hm" style="left:99px;top:434px;width:917px;height:1px;background:linear-gradient(90deg,#d74b3f 0px,#f06f20 58px,#fa9307 106px,#fca50b 128px,#f8cc35 173px,#f2e55f 212px,#f3f689 249px,#fcffa4 271px,#fbfea3 647px,#f1f076 681px,#f7d441 732px,#fcaa0e 782px,#fb9806 803px,#f67e14 839px,#df5337 899px,#d74b3f 916px)"></div>
<div class="hm" style="left:99px;top:435px;width:917px;height:1px;background:linear-gradient(90deg,#d64a40 0px,#ef6e21 58px,#fa9307 109px,#fca50b 131px,#f8cd37 178px,#f2e55f 218px,#f5f88f 258px,#fcffa4 276px,#fbfea2 643px,#f1ef75 677px,#f7d13d 732px,#fca70c 782px,#fb9606 803px,#f2741c 849px,#db4f3b 905px,#d54a41 916px)"></div>
<div class="hm" style="left:99px;top:436px;width:917px;height:1px;background:linear-gradient(90deg,#d54941 0px,#ee6c23 58px,#fa9407 113px,#fca60b 135px,#f8d03b 186px,#f1ee71 241px,#fafd9f 275px,#fcffa4 282px,#fbfea2 638px,#f1ef74 672px,#f4de52 706px,#fbbf25 751px,#fca008 787px,#f98d09 811px,#ea632a 869px,#d44842 916px)"></div>
<div class="hm" style="left:99px;top:437px;width:917px;height:1px;background:linear-gradient(90deg,#d34743 0px,#ed6a24 58px,#fa9407 117px,#fca60c 139px,#f6d948 204px,#f2eb6a 241px,#f7fb99 275px,#fcffa4 286px,#fbfea3 633px,#f1ef75 666px,#f4de51 700px,#fac42b 741px,#fca208 782px,#fa8f08 805px,#eb6528 864px,#d34743 916px)"></div>
<div class="hm" style="left:99px;top:438px;width:917px;height:1px;background:linear-gradient(90deg,#d24644 0px,#ed6825 59px,#fb9606 122px,#fca80d 144px,#f6d643 205px,#f2e864 242px,#f6fa94 277px,#fcffa4 291px,#fbfea2 628px,#f1ef75 660px,#f5dd4f 695px,#fac32a 738px,#fca108 779px,#fa8f09 802px,#eb6429 862px,#d24644 916px)"></div>
<div class="hm" style="left:99px;top:439px;width:917px;height:1px;background:linear-gradient(90deg,#d04545 0px,#ec6627 59px,#fb9606 126px,#fca80d 148px,#f7d23f 206px,#f2e65f 244px,#f5f992 281px,#fcffa4 295px,#fbfea2 623px,#f1ef75 654px,#f5dc4e 689px,#fac127 736px,#fca108 776px,#f98e09 800px,#ea632a 861px,#d04545 916px)"></div>
<div class="hm" style="left:99px;top:440px;width:917px;height:1px;background:linear-gradient(90deg,#cf4446 0px,#ea6429 59px,#fa9407 127px,#fca50b 149px,#f8cf39 206px,#f3e259 245px,#f4f88e 284px,#fcffa4 300px,#fbfea2 618px,#f1ef75 648px,#f5db4c 683px,#fbbd23 736px,#fc9f07 774px,#f98c0a 798px,#e9622b 860px,#ce4347 916px)"></div>
<div class="hm" style="left:99px;top:441px;width:917px;height:1px;background:linear-gradient(90deg,#cd4248 0px,#ea632a 60px,#fa9207 129px,#fca40a 152px,#f9cb34 207px,#f4df54 247px,#f3f586 285px,#fcffa4 305px,#fcfea4 612px,#f1f077 640px,#f5dc4d 675px,#fbba1f 736px,#fb9e07 771px,#f98b0b 796px,#e85f2d 860px,#cd4248 916px)"></div>
<div class="hm" style="left:99px;top:442px;width:917px;height:1px;background:linear-gradient(90deg,#cb4149 0px,#e8602c 60px,#fa8f08 130px,#fca209 154px,#f9c72f 208px,#f5dc4e 249px,#f2f27c 285px,#fcffa4 310px,#fcfea3 607px,#f1f078 633px,#f5db4c 669px,#fbb61a 736px,#fb9d06 768px,#f8890c 794px,#e75e2e 859px,#cb4149 916px)"></div>
<div class="hm" style="left:99px;top:443px;width:917px;height:1px;background:linear-gradient(90deg,#c9404b 0px,#e75f2e 61px,#f98e09 133px,#fca108 157px,#fac32a 209px,#f5da49 252px,#f1ef75 287px,#fafda1 312px,#fcffa4 318px,#fcfea4 602px,#f1f079 626px,#f5dc4d 660px,#fac52d 702px,#fca80d 749px,#fb9606 772px,#e9612b 850px,#cc4248 910px,#c93f4b 916px)"></div>
<div class="hm" style="left:99px;top:444px;width:917px;height:1px;background:linear-gradient(90deg,#c73e4c 0px,#e65d2f 62px,#f98d09 137px,#fca008 162px,#fac026 212px,#f6d746 256px,#f1ed6f 290px,#f8fc9b 314px,#fcffa4 320px,#fcfea4 597px,#f1f17a 619px,#f4de50 649px,#fac62d 691px,#fcab10 739px,#fb9806 764px,#f57e15 800px,#e25734 862px,#c73e4c 916px)"></div>
<div class="hm" style="left:99px;top:445px;width:917px;height:1px;background:linear-gradient(90deg,#c53d4e 0px,#e45a31 62px,#f98a0b 138px,#fb9e07 164px,#fbbc21 213px,#f7d441 259px,#f2e967 292px,#f6fa94 316px,#fcffa4 324px,#fbfea2 593px,#f1f077 614px,#f4de51 641px,#fac52c 683px,#fca70c 738px,#fb9506 763px,#ea6429 838px,#cd4248 901px,#c53d4e 916px)"></div>
<div class="hm" style="left:99px;top:446px;width:917px;height:1px;background:linear-gradient(90deg,#c33b4f 0px,#e35833 63px,#f8890c 142px,#fb9d06 169px,#fbb81d 216px,#f7d13d 263px,#f2e661 295px,#f4f78d 318px,#fcffa4 329px,#fbfea2 588px,#f1f076 608px,#f4de52 632px,#fac52c 674px,#fca309 738px,#fa9008 764px,#e8602d 840px,#c9404b 903px,#c33b4f 916px)"></div>
<div class="hm" style="left:99px;top:447px;width:917px;height:1px;background:linear-gradient(90deg,#c13a51 0px,#e15635 64px,#f8880d 146px,#fb9c06 174px,#fbb61b 223px,#f7d13c 271px,#f3e55e 300px,#f3f688 321px,#fcffa4 334px,#fbfea3 583px,#f1f076 602px,#f4de52 624px,#fac52c 664px,#fca40a 730px,#fa9207 756px,#e9622b 831px,#c93f4b 900px,#c03a51 916px)"></div>
<div class="hm" style="left:99px;top:448px;width:917px;height:1px;background:linear-gradient(90deg,#be3952 0px,#df5437 65px,#f8850f 148px,#fb9a06 178px,#fbb91e 239px,#f6d542 286px,#f2e763 310px,#f6f993 331px,#fcffa4 339px,#fbfea3 578px,#f1f077 596px,#f4df52 616px,#f9c830 650px,#fcae12 700px,#fb9706 741px,#f57c16 781px,#dd513a 856px,#be3853 916px)"></div>
<div class="hm" style="left:99px;top:449px;width:917px;height:1px;background:linear-gradient(90deg,#bc3754 0px,#de5238 67px,#f78112 149px,#fb9906 184px,#fcb115 234px,#f8cd37 284px,#f3e157 310px,#f2f381 329px,#fcffa4 343px,#fcfea3 573px,#f1f077 590px,#f4de52 609px,#f9c932 638px,#fcad11 689px,#fb9706 734px,#f57c16 775px,#db4f3b 854px,#bb3754 916px)"></div>
<div class="hm" style="left:99px;top:450px;width:917px;height:1px;background:linear-gradient(90deg,#b93656 0px,#dc503a 68px,#f57d15 149px,#fb9706 189px,#fcaa0f 232px,#fac62d 282px,#f5db4c 310px,#f1ee72 329px,#fafda0 346px,#fcffa4 350px,#fcfea3 568px,#f1ef76 585px,#f5dc4e 604px,#f9c72f 632px,#fcab0f 682px,#fb9706 726px,#f57c16 768px,#d94d3d 853px,#b93656 916px)"></div>
<div class="hm" style="left:99px;top:451px;width:917px;height:1px;background:linear-gradient(90deg,#b63457 0px,#da4e3c 70px,#f47819 149px,#fb9506 196px,#fca70c 238px,#fac42a 288px,#f5d949 315px,#f1ec6e 333px,#f8fb9a 349px,#fcffa4 354px,#fbfea3 563px,#f1f077 579px,#f5dd4f 597px,#f9c830 621px,#fcab10 669px,#fb9a06 708px,#f8880d 742px,#e25834 826px,#bc3754 904px,#b63458 916px)"></div>
<div class="hm" style="left:99px;top:452px;width:917px;height:1px;background:linear-gradient(90deg,#b33359 0px,#d94d3d 73px,#f2751b 151px,#fa9307 203px,#fca40a 245px,#fac026 292px,#f6d543 318px,#f2ea69 337px,#f7fa97 353px,#fcffa4 358px,#fcfea4 558px,#f1f078 573px,#f5dc4e 591px,#f9c72e 614px,#fcab10 657px,#fb9a06 694px,#f8880d 734px,#e05536 824px,#b93656 905px,#b33359 916px)"></div>
<div class="hm" style="left:99px;top:453px;width:917px;height:1px;background:linear-gradient(90deg,#b1315b 0px,#d74b3f 75px,#f1711f 152px,#fa9008 211px,#fca309 254px,#fbbc22 297px,#f7d340 323px,#f2e967 342px,#f7fa97 358px,#fcffa4 363px,#fcffa4 553px,#f1f079 567px,#f5db4d 585px,#fac42c 608px,#fcab10 646px,#fb9906 681px,#f8850f 729px,#e05536 817px,#b53458 906px,#b0315b 916px)"></div>
<div class="hm" style="left:99px;top:454px;width:917px;height:1px;background:linear-gradient(90deg,#ad305c 0px,#d64a40 79px,#f06f21 156px,#f98d0a 217px,#fca008 261px,#fbb71b 299px,#f8ce38 325px,#f3e45d 344px,#f4f78d 360px,#fcffa4 367px,#fbfea2 549px,#f1f077 562px,#f5db4c 579px,#fac229 602px,#fcaa0f 636px,#fb9906 669px,#f68013 729px,#dc503a 821px,#b1325b 909px,#ad305c 916px)"></div>
<div class="hm" style="left:99px;top:455px;width:917px;height:1px;background:linear-gradient(90deg,#aa2f5e 0px,#d64a40 86px,#f07020 167px,#f98d0a 234px,#fca008 274px,#fbb61a 307px,#f8cf3a 333px,#f2e762 352px,#f5f890 366px,#fcffa4 372px,#fbfea3 544px,#f1ef75 557px,#f4dd4f 571px,#fac42b 593px,#fcac10 622px,#fb9a06 654px,#f57d15 724px,#dc503a 811px,#b93556 887px,#aa2f5e 916px)"></div>
<div class="hm" style="left:99px;top:456px;width:917px;height:1px;background:linear-gradient(90deg,#a72d5f 0px,#d64a40 96px,#f3771a 190px,#fb9906 273px,#fcaa0e 301px,#fac32a 329px,#f5dc4e 350px,#f1ee73 363px,#fafd9f 375px,#fcffa4 378px,#fcfea4 539px,#f1f078 551px,#f4de51 564px,#fac42b 585px,#fcac10 612px,#fb9a06 640px,#f57d15 709px,#e25734 787px,#c13a51 865px,#a72d60 916px)"></div>
<div class="hm" style="left:99px;top:457px;width:917px;height:1px;background:linear-gradient(90deg,#a42c61 0px,#d64a40 105px,#f2731d 194px,#fb9606 280px,#fca70c 307px,#fac026 334px,#f5db4b 355px,#f1ee72 368px,#fafd9f 380px,#fcffa4 383px,#fcfea3 534px,#f1f077 546px,#f5db4c 560px,#fac127 581px,#fca70c 608px,#fb9606 635px,#f2751b 716px,#db4f3c 798px,#ba3655 871px,#a32c61 916px)"></div>
<div class="hm" style="left:99px;top:458px;width:917px;height:1px;background:linear-gradient(90deg,#a02b62 0px,#d34743 107px,#f06e21 196px,#fa8f09 280px,#fca208 310px,#fbb91e 335px,#f7d542 357px,#f2ea6a 371px,#f7fa97 383px,#fcffa4 387px,#fbfea3 529px,#f1ef76 541px,#f5da4a 555px,#fac228 573px,#fca70c 599px,#fb9606 623px,#f2741c 700px,#e05536 774px,#ba3655 864px,#a02a63 916px)"></div>
<div class="hm" style="left:99px;top:459px;width:917px;height:1px;background:linear-gradient(90deg,#9d2964 0px,#d04545 110px,#ed6925 198px,#f8890c 282px,#fb9e07 315px,#fcb216 336px,#f8cd37 358px,#f3e55e 373px,#f5f991 387px,#fcffa4 393px,#fcffa4 523px,#f1ef75 536px,#f6d948 550px,#fac026 567px,#fca50b 592px,#fa9407 614px,#f1721e 690px,#e15635 762px,#b83557 861px,#9d2964 916px)"></div>
<div class="hm" style="left:99px;top:460px;width:917px;height:1px;background:linear-gradient(90deg,#992865 0px,#ce4347 114px,#eb6528 201px,#f78311 284px,#fb9c06 322px,#fcaf13 341px,#f9ca32 362px,#f3e45c 378px,#f5f88f 392px,#fcffa4 398px,#fbfea2 518px,#f1ef76 530px,#f6d746 545px,#fbbc22 563px,#fca309 586px,#fa9008 608px,#f0701f 677px,#e05536 755px,#ba3655 850px,#992865 916px)"></div>
<div class="hm" style="left:99px;top:461px;width:917px;height:1px;background:linear-gradient(90deg,#962766 0px,#cc4248 119px,#e8602c 204px,#f57d15 286px,#fb9906 328px,#fcaa0f 345px,#fac52c 365px,#f4e156 382px,#f4f78c 397px,#fcffa4 404px,#fcfea4 512px,#f1f076 524px,#f6d746 539px,#fbbb20 557px,#fca209 578px,#fa9008 598px,#f2741d 651px,#de5338 749px,#b73557 847px,#952666 916px)"></div>
<div class="hm" style="left:99px;top:462px;width:917px;height:1px;background:linear-gradient(90deg,#922568 0px,#c83f4b 120px,#e55b30 205px,#f3771a 288px,#fa9307 330px,#fca40a 347px,#fbbd22 366px,#f5dc4d 385px,#f2f381 400px,#fcfea4 409px,#fcffa4 506px,#f1f076 518px,#f6d746 533px,#fbb91e 552px,#fca209 570px,#fa9008 589px,#f2741c 633px,#db4f3b 747px,#b0315b 853px,#922568 916px)"></div>
<div class="hm" style="left:99px;top:463px;width:917px;height:1px;background:linear-gradient(90deg,#8e2469 0px,#c43c4e 121px,#e15734 207px,#f1721e 291px,#f98d0a 333px,#fca008 352px,#fbb71c 369px,#f6d847 389px,#f1ef75 403px,#fbfea1 414px,#fcffa4 417px,#fbfea3 501px,#f1ef76 512px,#f6d948 526px,#fbb81d 546px,#fca108 563px,#fa8e09 581px,#f1721e 623px,#e25734 706px,#c73e4c 788px,#902468 912px,#8e2469 916px)"></div>
<div class="hm" style="left:99px;top:464px;width:917px;height:1px;background:linear-gradient(90deg,#8b236a 0px,#c13a51 123px,#dd5239 208px,#ee6c23 293px,#f8870e 335px,#fb9c06 356px,#fcaf13 370px,#f7d23e 392px,#f2ea69 406px,#f7fa96 417px,#fcfea4 420px,#fcffa4 495px,#f1ef76 506px,#f5d949 519px,#fbb91e 539px,#fca008 556px,#f98d0a 574px,#f06f20 615px,#df5437 697px,#ca404a 768px,#8f2468 904px,#8a226a 916px)"></div>
<div class="hm" style="left:99px;top:465px;width:917px;height:1px;background:linear-gradient(90deg,#87216b 0px,#bd3853 126px,#d94d3d 210px,#ec6627 296px,#f68112 338px,#fb9a06 362px,#fcac11 375px,#f8cf3a 397px,#f2e864 411px,#f5f891 421px,#fcffa4 425px,#fcffa4 490px,#f1ef76 500px,#f5da4b 512px,#fbbc22 530px,#fca108 548px,#fa8f09 563px,#ef6d21 605px,#df5337 678px,#cb4149 754px,#932667 887px,#86216b 916px)"></div>
<div class="hm" style="left:99px;top:466px;width:917px;height:1px;background:linear-gradient(90deg,#83206b 0px,#b93656 129px,#d54941 212px,#e9612b 299px,#f57c16 342px,#fb9a06 369px,#fcac11 382px,#f8cc36 402px,#f3e45c 415px,#f3f586 424px,#fcffa4 430px,#fcffa4 485px,#f1ee73 495px,#f5db4c 505px,#fac026 521px,#fca108 541px,#fa8f09 555px,#ef6d22 594px,#e15635 650px,#c73e4c 751px,#902468 884px,#83206c 916px)"></div>
<div class="hm" style="left:99px;top:467px;width:917px;height:1px;background:linear-gradient(90deg,#7f1f6c 0px,#b63458 132px,#d14545 214px,#e65c2f 303px,#f47919 347px,#fb9806 375px,#fcab0f 388px,#f9cb34 408px,#f3e258 420px,#f4f78b 430px,#fcffa4 436px,#fcfea3 480px,#f1ee72 490px,#f5db4b 499px,#fbbe24 515px,#fca309 533px,#fa9108 546px,#f0701f 579px,#e25833 624px,#c23b50 751px,#8b2369 885px,#7f1e6c 916px)"></div>
<div class="hm" style="left:99px;top:468px;width:917px;height:1px;background:linear-gradient(90deg,#7b1d6d 0px,#b2325a 136px,#cc4249 216px,#e25734 306px,#f2731d 350px,#fb9806 382px,#fca90d 394px,#f9c830 413px,#f5dd4f 423px,#f3f587 435px,#fcffa4 444px,#fcffa4 472px,#f3f484 481px,#f6d948 494px,#fac128 506px,#fca50a 524px,#fa9307 537px,#f06f20 570px,#e05536 615px,#ca404a 710px,#942667 855px,#7b1d6d 916px)"></div>
<div class="hm" style="left:99px;top:469px;width:917px;height:1px;background:linear-gradient(90deg,#771c6d 0px,#ae305c 140px,#c73e4c 218px,#de5338 309px,#f06e21 354px,#fb9706 389px,#fca80d 401px,#fac52c 418px,#f4e055 430px,#f4f78b 444px,#fcffa4 454px,#fbfea2 463px,#f2f17b 476px,#f7d13c 492px,#fbb91e 504px,#fca108 519px,#f98e09 533px,#ed6a25 567px,#dc503a 613px,#c43c4f 713px,#8a236a 867px,#771c6d 916px)"></div>
<div class="hm" style="left:99px;top:470px;width:917px;height:1px;background:linear-gradient(90deg,#731a6e 0px,#ab2f5e 144px,#c23b50 221px,#da4e3c 312px,#ed6925 357px,#fb9706 397px,#fca90e 409px,#fac127 422px,#f2e863 441px,#f5f890 457px,#f3f687 462px,#f4de52 480px,#fbbb20 496px,#fca208 511px,#fa8f08 524px,#eb6628 562px,#d84c3e 609px,#bf3952 710px,#85216b 869px,#731a6e 916px)"></div>
<div class="hm" style="left:99px;top:471px;width:917px;height:1px;background:linear-gradient(90deg,#70196e 0px,#a72d60 148px,#bd3853 225px,#d64a40 316px,#ea6429 360px,#fa9307 402px,#fca50a 414px,#fbbd22 426px,#f4dd4f 443px,#f1ee71 458px,#f7d33f 479px,#fcad11 497px,#fb9b06 508px,#f78410 525px,#e65e2e 563px,#d24644 612px,#a92e5e 760px,#711a6e 910px,#6f196e 916px)"></div>
<div class="hm" style="left:99px;top:556px;width:917px;height:1px;background:linear-gradient(90deg,#08061e 0px,#130b34 111px,#2f0a5b 220px,#4a0c6b 277px,#731a6e 343px,#992865 389px,#a62d60 406px,#d04545 426px,#ee6a24 442px,#fa9307 454px,#fca108 458px,#f98d09 463px,#e55b30 479px,#c23b50 496px,#a12b62 513px,#8d2369 543px,#61146e 598px,#3d0965 660px,#1d0c44 759px,#0c0827 860px,#08061e 916px)"></div>
<div class="hm" style="left:99px;top:557px;width:917px;height:1px;background:linear-gradient(90deg,#0a0722 0px,#170b3a 105px,#360961 213px,#530f6d 273px,#821f6c 340px,#af315b 388px,#bc3754 405px,#dd5139 421px,#f57c16 436px,#fb9606 443px,#fca60c 447px,#fac62d 454px,#f7d441 457px,#f6d643 458px,#fcb51a 465px,#fca007 470px,#fa9008 474px,#e55c30 490px,#c73e4c 505px,#b73457 515px,#a42c61 541px,#731a6e 593px,#540f6d 642px,#360961 703px,#160b3a 811px,#0a0722 916px)"></div>
<div class="hm" style="left:99px;top:558px;width:917px;height:1px;background:linear-gradient(90deg,#0c0826 0px,#1a0c3f 100px,#3d0965 207px,#5c126e 270px,#7d1e6c 315px,#9d2964 350px,#c33b4f 387px,#d14545 405px,#ec6826 420px,#fb9606 433px,#fca60c 437px,#f9c62e 444px,#f3e35b 450px,#f5f88f 455px,#fcfea3 457px,#fcffa4 458px,#f3f689 461px,#f5dc4d 467px,#fbbf24 473px,#fca40a 479px,#fa9307 483px,#e8602c 498px,#ce4347 512px,#b73557 541px,#87216b 587px,#5d126e 644px,#3e0966 705px,#1d0c45 801px,#0d0829 896px,#0c0826 916px)"></div>
<div class="hm" style="left:99px;top:559px;width:917px;height:1px;background:linear-gradient(90deg,#0e0829 0px,#1d0c45 98px,#3e0965 190px,#63146e 265px,#8a226a 313px,#a82e5f 345px,#d44842 386px,#e15635 405px,#f68013 419px,#fb9706 425px,#fca80d 429px,#f9c931 436px,#f3e157 441px,#f4f78c 446px,#fbfea1 448px,#fcffa4 451px,#fcffa4 467px,#f2f17a 471px,#f5da49 476px,#fbb81d 483px,#fca108 488px,#fa9108 492px,#e9612b 506px,#dd5139 514px,#ca404a 540px,#992865 584px,#68166e 644px,#4a0c6b 697px,#2b0b57 774px,#140b36 862px,#0e0829 916px)"></div>
<div class="hm" style="left:99px;top:560px;width:917px;height:1px;background:linear-gradient(90deg,#10092d 0px,#210c4a 97px,#3f0a66 178px,#69176e 261px,#962766 312px,#b33359 342px,#dc503a 378px,#ec6726 404px,#fa9307 417px,#fca40a 421px,#fac52c 428px,#f3e35a 434px,#f3f585 438px,#fcffa4 441px,#fcffa4 474px,#f6fa94 476px,#f2ea68 480px,#f7d13d 485px,#fcaf13 492px,#fb9d07 496px,#f8890c 501px,#ec6627 512px,#d94d3d 540px,#ab2f5d 580px,#922568 610px,#63146e 664px,#3a0964 749px,#1b0c41 844px,#0f092d 916px)"></div>
<div class="hm" style="left:99px;top:561px;width:917px;height:1px;background:linear-gradient(90deg,#110a31 0px,#260c50 99px,#430a68 172px,#6f196e 257px,#a22b62 312px,#c03a51 342px,#e65c2f 376px,#f57b17 404px,#fb9806 412px,#fca90e 416px,#f9ca33 423px,#f3e45c 428px,#f3f688 432px,#f9fd9e 434px,#fcffa4 435px,#fcffa4 480px,#fbfea2 481px,#f1ef76 485px,#f6d745 490px,#fbb91e 496px,#fca209 501px,#fa9207 505px,#f47a18 512px,#e55b30 540px,#be3953 575px,#a22b62 604px,#811f6c 639px,#65156e 674px,#3c0965 759px,#1d0c44 849px,#110a30 916px)"></div>
<div class="hm" style="left:99px;top:562px;width:917px;height:1px;background:linear-gradient(90deg,#130b34 0px,#280b53 95px,#450a69 166px,#731a6e 252px,#922568 284px,#af315b 316px,#d04545 346px,#ef6d22 377px,#f98c0a 403px,#fb9d07 408px,#fcb418 413px,#f7d03c 419px,#f2ea68 424px,#f6fa96 428px,#fafda1 429px,#fcffa4 431px,#fcffa4 486px,#f1f078 490px,#f6d846 495px,#fbba1f 501px,#fc9f07 507px,#f98b0b 513px,#ee6c23 539px,#cd4248 572px,#ae305c 602px,#902568 633px,#721a6e 665px,#440a69 752px,#260c51 826px,#130b34 916px)"></div>
<div class="hm" style="left:99px;top:563px;width:917px;height:1px;background:linear-gradient(90deg,#150b36 0px,#2a0b56 93px,#480b6a 163px,#771c6d 249px,#942667 279px,#b43359 310px,#d04545 338px,#f06f20 370px,#f8890c 386px,#fc9e07 403px,#fcac11 407px,#f7d33f 415px,#f1ec6d 420px,#f8fc9b 424px,#fcffa4 425px,#fcffa4 490px,#fafd9f 491px,#f1ee71 495px,#f6d542 500px,#fcb317 507px,#fca209 511px,#fa9108 522px,#f57c16 538px,#da4e3d 569px,#bc3754 596px,#9d2964 629px,#7b1d6d 662px,#4d0c6c 742px,#2f0a5a 811px,#170c3b 898px,#150b36 916px)"></div>
<div class="hm" style="left:99px;top:564px;width:917px;height:1px;background:linear-gradient(90deg,#160b39 0px,#2d0b58 91px,#4b0c6b 161px,#7b1d6d 246px,#982766 276px,#bb3755 308px,#d44842 335px,#f07020 363px,#fb9506 383px,#fca60b 398px,#fbb61a 405px,#f8cd37 410px,#f2e660 415px,#f4f78d 419px,#fbfea3 421px,#fcffa4 494px,#f2f17a 498px,#f5d949 503px,#fbbb21 509px,#fcac10 514px,#fb9c06 526px,#f98d0a 537px,#e35932 567px,#c63e4d 593px,#a62d60 628px,#821f6c 661px,#540f6d 736px,#330a5f 807px,#1a0c40 892px,#160b39 916px)"></div>
<div class="hm" style="left:99px;top:565px;width:917px;height:1px;background:linear-gradient(90deg,#170c3b 0px,#2f0a5a 90px,#4e0d6c 160px,#7f1e6c 244px,#9c2964 275px,#c13a51 307px,#d94d3e 333px,#f2741d 359px,#fb9606 377px,#fca80d 388px,#fbbc21 402px,#f9c932 406px,#f3e259 411px,#f2f484 415px,#fcffa4 418px,#fcffa4 497px,#f6f994 499px,#f2e967 503px,#f8d03b 508px,#fabf25 512px,#fcad12 523px,#fb9a06 537px,#f57d15 551px,#dc513a 579px,#c53d4e 603px,#a92e5f 631px,#86216b 662px,#58106e 736px,#360960 808px,#1b0c42 893px,#170c3b 916px)"></div>
<div class="hm" style="left:99px;top:566px;width:917px;height:1px;background:linear-gradient(90deg,#190c3d 0px,#300a5c 89px,#510e6c 160px,#82206c 243px,#a02b62 274px,#c63d4d 306px,#dc503a 331px,#f3751b 355px,#fb9606 372px,#fca70c 379px,#f9c72f 401px,#f7d23f 405px,#f2e660 409px,#f4f78d 413px,#fbfea2 415px,#fcffa4 432px,#fcffa4 500px,#f2f17b 504px,#f4de50 508px,#f8cd36 512px,#fbbd22 521px,#fca50b 537px,#fb9506 544px,#ea6429 570px,#d24644 594px,#b53358 626px,#8c2369 660px,#5f136e 729px,#390963 805px,#1d0c45 890px,#180c3d 916px)"></div>
<div class="hm" style="left:99px;top:567px;width:917px;height:1px;background:linear-gradient(90deg,#1a0c3f 0px,#320a5d 88px,#540f6d 160px,#86216b 242px,#a52c60 274px,#ca404a 305px,#df5437 330px,#f57b17 354px,#fb9706 368px,#fca70c 375px,#fbbc21 385px,#f7d13c 400px,#f5da4b 404px,#f2e762 407px,#f5f890 411px,#fcffa4 413px,#fcffa4 502px,#fafd9f 503px,#f1ee72 507px,#f4e054 510px,#f7d340 514px,#fbbf25 528px,#fcad11 538px,#fb9c06 545px,#f8880d 555px,#e45a32 581px,#d04446 603px,#b63458 629px,#902468 661px,#61146e 730px,#3b0964 806px,#1e0c47 891px,#1a0c3f 916px)"></div>
<div class="hm" style="left:99px;top:568px;width:917px;height:1px;background:linear-gradient(90deg,#1b0c40 0px,#340a5f 88px,#560f6d 160px,#88226a 241px,#a82d5f 273px,#ce4347 305px,#e35833 330px,#f78211 354px,#fb9906 365px,#fcab0f 373px,#fac52c 385px,#f5da4b 400px,#f3e45c 404px,#f1f078 407px,#fcffa4 411px,#fcffa4 504px,#fafd9f 505px,#f1ed71 509px,#f3e258 512px,#f6d644 518px,#fbbb20 536px,#fca209 546px,#fa9207 554px,#e75f2e 581px,#d44942 602px,#bb3755 628px,#942667 660px,#65156e 727px,#3d0965 805px,#200c48 890px,#1a0c40 916px)"></div>
<div class="hm" style="left:99px;top:569px;width:917px;height:1px;background:linear-gradient(90deg,#1b0c42 0px,#350a60 88px,#58106e 161px,#8a226a 240px,#a92e5e 272px,#d14545 304px,#e55b31 329px,#f8860e 353px,#fb9906 362px,#fcab0f 370px,#f8cd37 385px,#f4e156 399px,#f1ec6d 404px,#f6fa96 408px,#fafda0 409px,#fcffa4 411px,#fcffa4 506px,#f1f179 510px,#f2e763 513px,#f5db4c 520px,#fac329 536px,#fca70c 547px,#fb9606 555px,#ea632a 581px,#d84c3e 601px,#c03951 627px,#992865 658px,#6a176e 722px,#400a67 802px,#210c4a 888px,#1b0c41 916px)"></div>
<div class="hm" style="left:99px;top:570px;width:917px;height:1px;background:linear-gradient(90deg,#1c0c43 0px,#360961 88px,#5a116e 162px,#8c2369 240px,#ac2f5d 272px,#d34842 304px,#e75f2e 329px,#f98b0b 353px,#fb9d06 361px,#fcb318 371px,#f7d33f 384px,#f2e660 398px,#f1ef75 403px,#f8fb99 407px,#fcfea4 408px,#fcffa4 507px,#f1f078 512px,#f3e55e 518px,#f9c932 536px,#fcad12 547px,#fb9c06 555px,#f8880d 564px,#e65c2f 588px,#c53d4e 625px,#9c2964 657px,#6e186e 719px,#420a68 801px,#220c4c 887px,#1c0c43 916px)"></div>
<div class="hm" style="left:99px;top:571px;width:917px;height:1px;background:linear-gradient(90deg,#1d0c44 0px,#370962 88px,#5c126e 162px,#8e2469 239px,#af315c 272px,#d54941 303px,#e8602c 328px,#f98d09 352px,#fc9f07 360px,#fbbb20 372px,#f6d847 384px,#f1eb6c 398px,#f2f482 403px,#fcffa4 407px,#fcffa4 508px,#f6fa96 510px,#f2f37f 513px,#f2e863 520px,#f8cf3a 536px,#fcb317 547px,#fb9e07 556px,#f98c0a 564px,#e85f2d 588px,#c83e4c 625px,#a02a63 656px,#711a6e 717px,#440a69 799px,#240c4e 885px,#1c0c43 916px)"></div>
<div class="hm" style="left:99px;top:572px;width:917px;height:1px;background:linear-gradient(90deg,#1d0c44 0px,#380962 88px,#5d126e 163px,#8f2468 239px,#b0315b 272px,#d74b3f 303px,#ea632a 328px,#fa9108 352px,#fca309 360px,#fac229 373px,#f4dd4f 384px,#f1ee73 397px,#f4f78d 403px,#fcffa4 406px,#fcffa4 509px,#f2f380 515px,#f3e35a 527px,#f7d440 536px,#fbb91e 546px,#fca007 557px,#f98d09 565px,#e8612c 589px,#cb4149 624px,#a12b62 656px,#741a6e 715px,#460b69 798px,#240c4f 884px,#1d0c44 916px)"></div>
<div class="hm" style="left:99px;top:573px;width:917px;height:1px;background:linear-gradient(90deg,#1d0c45 0px,#390963 88px,#5e136e 163px,#902468 238px,#b2325a 272px,#d84c3e 303px,#eb6528 328px,#fa9407 352px,#fca50a 359px,#fac62d 373px,#f4e156 384px,#f2f37f 398px,#f9fc9c 404px,#fcfea4 405px,#fcffa4 510px,#f3f584 516px,#f3e45c 529px,#f6d542 537px,#fbbb20 547px,#fca108 558px,#f98e09 566px,#e9612b 590px,#cd4248 624px,#a32c61 656px,#751b6e 714px,#470b6a 797px,#250c4f 884px,#1d0c45 916px)"></div>
<div class="hm" style="left:99px;top:574px;width:917px;height:1px;background:linear-gradient(90deg,#1e0c45 0px,#390963 88px,#5f136e 163px,#912568 238px,#b33359 272px,#da4e3d 303px,#ec6727 328px,#fb9706 352px,#fca70c 359px,#f9c931 373px,#f3e45c 384px,#f3f586 398px,#fbfea3 404px,#fcffa4 511px,#f2f484 518px,#f4dd50 535px,#fac229 545px,#fca40a 558px,#fa9307 565px,#eb6529 589px,#ce4347 624px,#a42c61 656px,#761b6d 714px,#470b6a 797px,#250c50 884px,#1e0c45 916px)"></div>
<div class="hm" style="left:99px;top:575px;width:917px;height:1px;background:linear-gradient(90deg,#1e0c46 0px,#3a0963 89px,#61146e 165px,#932567 239px,#b43358 272px,#da4e3c 302px,#ec6727 327px,#fb9606 351px,#fca70c 358px,#f9c931 372px,#f2e761 384px,#f5f890 399px,#fcffa4 404px,#fcffa4 512px,#f2f484 520px,#f4e055 535px,#fac52c 545px,#fca309 559px,#fa9307 566px,#eb6529 590px,#cf4446 624px,#a62d60 655px,#791c6d 711px,#4a0b6b 794px,#270c52 881px,#1e0c46 916px)"></div>
<div class="hm" style="left:99px;top:576px;width:917px;height:1px;background:linear-gradient(90deg,#1e0c46 0px,#3b0964 89px,#61146e 165px,#932567 238px,#b53458 272px,#db4f3b 302px,#ed6826 327px,#fb9606 350px,#fca70c 357px,#f9cb34 372px,#f2e966 384px,#f6fa95 399px,#fcffa4 403px,#fcfea3 513px,#f2f17b 524px,#f3e259 535px,#f9c72f 545px,#fca50b 559px,#fa9407 566px,#eb6628 590px,#d04545 624px,#a72d5f 655px,#7a1d6d 710px,#4b0c6b 793px,#270b52 880px,#1e0c46 916px)"></div>
<div class="hm" style="left:99px;top:577px;width:917px;height:1px;background:linear-gradient(90deg,#1e0c47 0px,#3b0964 89px,#62146e 165px,#932667 238px,#b63458 272px,#db503b 302px,#ed6925 327px,#fb9706 350px,#fca80d 357px,#f8cd37 372px,#f2ea6a 384px,#f6fa95 398px,#fcffa4 402px,#fbfea2 514px,#f1f179 526px,#f3e45c 535px,#f9cb34 544px,#fca70c 559px,#fb9606 566px,#ec6727 590px,#d14545 624px,#a82e5f 655px,#7b1d6d 710px,#4b0c6b 793px,#270b53 880px,#1e0c46 916px)"></div>
<div class="hm" style="left:99px;top:578px;width:917px;height:1px;background:linear-gradient(90deg,#1f0c47 0px,#3b0964 89px,#62146e 165px,#942667 238px,#b73457 272px,#dc503a 302px,#ee6a24 327px,#fb9606 349px,#fca70c 356px,#f8cc35 371px,#f1ec6d 384px,#f7fb98 398px,#fcffa4 402px,#fcffa4 514px,#f1f17a 527px,#f2e55f 535px,#f8cd36 544px,#fca80d 559px,#fb9706 566px,#ec6826 590px,#d14644 624px,#a82e5f 655px,#7b1d6d 710px,#4b0c6b 793px,#280b53 880px,#1e0c47 916px)"></div>
<div class="hm" style="left:99px;top:579px;width:917px;height:1px;background:linear-gradient(90deg,#1f0c47 0px,#3b0964 89px,#62146e 165px,#932667 237px,#b63458 271px,#dc513a 302px,#ee6b24 327px,#fb9706 349px,#fca80d 356px,#f8cd37 371px,#f1eb6c 383px,#f7fb97 397px,#fcffa4 401px,#fbfea3 515px,#f1f179 528px,#f3e45c 536px,#f8ce38 544px,#fca90e 559px,#fb9806 566px,#f1721e 584px,#e45a32 603px,#cd4248 628px,#a72d60 657px,#7a1d6d 713px,#4a0c6b 796px,#270b52 883px,#1f0c47 916px)"></div>
<div class="hm" style="left:99px;top:580px;width:917px;height:1px;background:linear-gradient(90deg,#1f0c47 0px,#3b0964 89px,#63146e 166px,#952667 238px,#b83557 272px,#dd5139 302px,#ee6b23 327px,#fb9806 349px,#fca90e 356px,#f8ce38 371px,#f1ec6e 383px,#f8fb99 397px,#fcffa4 401px,#fcffa4 515px,#f1f079 529px,#f3e55e 536px,#f8cf39 544px,#fcaa0f 559px,#fb9906 566px,#f57c16 579px,#e75f2d 598px,#d14545 625px,#a92e5e 655px,#7d1e6d 709px,#4c0c6b 792px,#290b55 876px,#1f0c47 916px)"></div>
<div class="hm" style="left:99px;top:581px;width:917px;height:1px;background:linear-gradient(90deg,#1f0c47 0px,#3c0964 89px,#63156e 166px,#952667 238px,#b83557 272px,#dd5139 302px,#ee6c23 327px,#fb9606 348px,#fca70c 355px,#f8cc35 370px,#f3e258 378px,#f1ef76 385px,#fbfea1 399px,#fcffa4 404px,#fbfea3 516px,#f1f077 530px,#f3e35a 537px,#f8cd37 545px,#fca80d 560px,#fb9706 567px,#ed6925 590px,#d24743 624px,#a92e5e 655px,#7d1e6d 709px,#4c0c6b 792px,#2a0b55 875px,#1f0c47 916px)"></div>
<div class="hm" style="left:99px;top:582px;width:917px;height:1px;background:linear-gradient(90deg,#1f0c47 0px,#3c0964 89px,#64156e 166px,#952667 238px,#b83556 272px,#dd5239 302px,#ef6c23 327px,#fb9606 348px,#fca80d 355px,#f8cd36 370px,#f3e259 378px,#f1f077 385px,#fcffa4 400px,#fcfea4 516px,#f1f079 530px,#f3e45b 537px,#f8ce38 545px,#fca90d 560px,#fb9706 567px,#ed6a24 590px,#d34743 624px,#aa2e5e 655px,#7d1e6d 709px,#4c0c6b 792px,#2a0b55 875px,#1f0c47 916px)"></div>
<div class="hm" style="left:99px;top:583px;width:917px;height:1px;background:linear-gradient(90deg,#1f0c47 0px,#3c0965 89px,#64156e 166px,#952667 238px,#b83556 272px,#de5239 302px,#ef6c22 327px,#fb9706 348px,#fca80d 355px,#f8cd37 370px,#f3e35a 378px,#f1f078 385px,#fcffa4 400px,#fcffa4 516px,#f1f17a 530px,#f3e45c 537px,#f8ce38 545px,#fca90e 560px,#fb9806 567px,#ee6a24 590px,#d34743 624px,#ab2f5e 654px,#7f1e6c 707px,#4e0d6c 790px,#2c0b57 869px,#1f0c47 916px)"></div>
<div class="hm" style="left:99px;top:584px;width:917px;height:1px;background:linear-gradient(90deg,#1f0c47 0px,#3c0965 89px,#64156e 166px,#952667 238px,#b83556 272px,#de5239 302px,#ef6d22 327px,#fb9706 348px,#fca80d 355px,#f8cd37 370px,#f3e35b 378px,#f1f179 385px,#fcffa4 399px,#fbfea2 517px,#f1f077 531px,#f3e257 538px,#f8cc35 546px,#fca70c 561px,#fb9506 568px,#ed6925 591px,#d34743 624px,#ab2f5d 654px,#801f6c 706px,#4e0d6c 789px,#2d0b58 866px,#1f0c47 916px)"></div>
<div class="hm" style="left:99px;top:585px;width:917px;height:1px;background:linear-gradient(90deg,#1f0c47 0px,#3c0965 89px,#64156e 166px,#952666 238px,#b93556 272px,#de5238 302px,#ef6d22 327px,#fb9706 348px,#fca90d 355px,#f8ce38 370px,#f3e45b 378px,#f2f17a 385px,#fcffa4 399px,#fbfea3 517px,#f1f078 531px,#f3e258 538px,#f8cc36 546px,#fca70c 561px,#fb9606 568px,#ed6925 591px,#d34743 624px,#ab2f5d 654px,#801f6c 706px,#4e0d6c 789px,#2d0b58 866px,#1f0c47 916px)"></div>
<div class="hm" style="left:99px;top:586px;width:917px;height:1px;background:linear-gradient(90deg,#1f0c48 0px,#3c0965 89px,#64156e 166px,#962766 238px,#b93556 272px,#de5238 302px,#ef6d22 327px,#fb9706 348px,#fca90e 355px,#f8ce38 370px,#f3e45c 378px,#f2f17a 385px,#fcffa4 399px,#fbfea3 517px,#f1f079 531px,#f3e258 538px,#f8cc36 546px,#fca70c 561px,#fb9606 568px,#ed6925 591px,#d34743 624px,#ab2f5d 654px,#801f6c 706px,#4e0d6c 789px,#2d0b58 866px,#1f0c47 916px)"></div>
<div class="hm" style="left:99px;top:587px;width:917px;height:1px;background:linear-gradient(90deg,#1f0c48 0px,#3c0965 89px,#64156e 166px,#962766 238px,#b93656 272px,#de5238 302px,#ef6d22 327px,#fb9706 348px,#fca90e 355px,#f8ce38 370px,#f3e45c 378px,#f2f17b 385px,#fcffa4 399px,#fcfea4 517px,#f1f079 531px,#f3e259 538px,#f8cc36 546px,#fca70c 561px,#fb9606 568px,#ed6925 591px,#d34743 624px,#ab2f5d 654px,#801f6c 706px,#4e0d6c 789px,#2d0b58 866px,#1f0c47 916px)"></div>
<div class="hm" style="left:99px;top:588px;width:917px;height:1px;background:linear-gradient(90deg,#1f0c48 0px,#3c0965 89px,#64156e 166px,#952667 237px,#b73557 271px,#de5238 302px,#ef6d22 327px,#fb9806 348px,#fca90e 355px,#f8ce38 370px,#f3e45c 378px,#f2f17b 385px,#fcffa4 399px,#fcfea4 517px,#f1f179 531px,#f3e259 538px,#f8cd36 546px,#fca80d 561px,#fb9606 568px,#ed6925 591px,#d34843 624px,#ab2f5d 654px,#801f6c 706px,#4e0d6c 789px,#2d0b58 866px,#1f0c47 916px)"></div>
<div class="hm" style="left:99px;top:589px;width:917px;height:1px;background:linear-gradient(90deg,#1f0c48 0px,#3c0965 89px,#64156e 166px,#952667 237px,#b73557 271px,#de5238 302px,#ef6d22 327px,#fb9506 347px,#fca70c 354px,#f8cc35 369px,#f3e157 377px,#f1f078 384px,#fcffa4 399px,#fcfea4 517px,#f1f179 531px,#f3e259 538px,#f8cd36 546px,#fca80d 561px,#fb9606 568px,#ed6925 591px,#d34842 624px,#ac2f5d 654px,#801f6c 706px,#4e0d6c 789px,#2d0b58 866px,#1f0c47 916px)"></div>
<div class="hm" style="left:99px;top:590px;width:917px;height:1px;background:linear-gradient(90deg,#1f0c48 0px,#3c0965 89px,#64156e 166px,#952667 237px,#b83557 271px,#de5238 302px,#ef6d22 327px,#fb9506 347px,#fca70c 354px,#f8cc35 369px,#f3e157 377px,#f1f078 384px,#fcffa4 399px,#fcfea4 517px,#f1f17a 531px,#f3e359 538px,#f8cd37 546px,#fca80d 561px,#fb9606 568px,#ed6925 591px,#d34842 624px,#ac2f5d 654px,#801f6c 706px,#4e0d6c 789px,#2d0b59 866px,#1f0c47 916px)"></div>
<div class="hm" style="left:99px;top:591px;width:917px;height:1px;background:linear-gradient(90deg,#1f0c48 0px,#3c0965 89px,#64156e 166px,#952667 237px,#b83557 271px,#de5238 302px,#ef6d22 327px,#fb9506 347px,#fca70c 354px,#f8cc35 369px,#f3e157 377px,#f1f078 384px,#fcffa4 399px,#fcffa4 517px,#f2f17a 531px,#f3e359 538px,#f8cd37 546px,#fca80d 561px,#fb9606 568px,#ed6925 591px,#d34842 624px,#ac2f5d 654px,#801f6c 706px,#4e0d6c 789px,#2d0b59 866px,#1f0c47 916px)"></div>
<div class="hm" style="left:99px;top:592px;width:917px;height:1px;background:linear-gradient(90deg,#1f0c48 0px,#3c0965 89px,#64156e 166px,#952667 237px,#b83557 271px,#de5338 302px,#ef6d22 327px,#fb9506 347px,#fca70c 354px,#f8cc35 369px,#f3e157 377px,#f1f079 384px,#fcffa4 399px,#fcffa4 517px,#f2f17a 531px,#f3e359 538px,#f8cd37 546px,#fca80d 561px,#fb9606 568px,#ed6925 591px,#d34842 624px,#ac2f5d 654px,#801f6c 706px,#4e0d6c 789px,#2d0b59 866px,#1f0c47 916px)"></div>
<div class="hm" style="left:99px;top:593px;width:917px;height:6px;background:linear-gradient(90deg,#1f0c48 0px,#3c0965 89px,#64156e 166px,#952667 237px,#b83557 271px,#de5338 302px,#ef6d22 327px,#fb9506 347px,#fca70c 354px,#f8cc35 369px,#f3e257 377px,#f1f079 384px,#fcffa4 399px,#fcffa4 517px,#f2f17a 531px,#f3e35a 538px,#f8cd37 546px,#fca80d 561px,#fb9606 568px,#ed6925 591px,#d34842 624px,#ac2f5d 654px,#801f6c 706px,#4e0d6c 789px,#2d0b59 866px,#1f0c47 916px)"></div>
<div class="hm" style="left:99px;top:599px;width:917px;height:52px;background:linear-gradient(90deg,#1f0c48 0px,#3c0965 89px,#64156e 166px,#952667 237px,#b83557 271px,#de5338 302px,#ef6d22 327px,#fb9506 347px,#fca70c 354px,#f8cc35 369px,#f3e258 377px,#f1f079 384px,#fcffa4 399px,#fcffa4 517px,#f2f17a 531px,#f3e35a 538px,#f8cd37 546px,#fca80d 561px,#fb9606 568px,#ed6925 591px,#d34842 624px,#ac2f5d 654px,#801f6c 706px,#4e0d6c 789px,#2d0b59 865px,#1f0c47 916px)"></div>
<div class="hm" style="left:99px;top:651px;width:917px;height:6px;background:linear-gradient(90deg,#1f0c48 0px,#3c0965 89px,#64156e 166px,#952667 237px,#b83557 271px,#de5338 302px,#ef6d22 327px,#fb9506 347px,#fca70c 354px,#f8cc35 369px,#f3e257 377px,#f1f079 384px,#fcffa4 399px,#fcffa4 517px,#f2f17a 531px,#f3e35a 538px,#f8cd37 546px,#fca80d 561px,#fb9606 568px,#ed6925 591px,#d34842 624px,#ac2f5d 654px,#801f6c 706px,#4e0d6c 789px,#2d0b59 866px,#1f0c47 916px)"></div>
<div class="hm" style="left:99px;top:657px;width:917px;height:1px;background:linear-gradient(90deg,#1f0c48 0px,#3c0965 89px,#64156e 166px,#952667 237px,#b83557 271px,#de5338 302px,#ef6d22 327px,#fb9506 347px,#fca70c 354px,#f8cc35 369px,#f3e157 377px,#f1f079 384px,#fcffa4 399px,#fcffa4 517px,#f2f17a 531px,#f3e359 538px,#f8cd37 546px,#fca80d 561px,#fb9606 568px,#ed6925 591px,#d34842 624px,#ac2f5d 654px,#801f6c 706px,#4e0d6c 789px,#2d0b59 866px,#1f0c47 916px)"></div>
<div class="hm" style="left:99px;top:658px;width:917px;height:1px;background:linear-gradient(90deg,#1f0c48 0px,#3c0965 89px,#64156e 166px,#952667 237px,#b83557 271px,#de5238 302px,#ef6d22 327px,#fb9506 347px,#fca70c 354px,#f8cc35 369px,#f3e157 377px,#f1f078 384px,#fcffa4 399px,#fcffa4 517px,#f2f17a 531px,#f3e359 538px,#f8cd37 546px,#fca80d 561px,#fb9606 568px,#ed6925 591px,#d34842 624px,#ac2f5d 654px,#801f6c 706px,#4e0d6c 789px,#2d0b59 866px,#1f0c47 916px)"></div>
<div class="hm" style="left:99px;top:659px;width:917px;height:1px;background:linear-gradient(90deg,#1f0c48 0px,#3c0965 89px,#64156e 166px,#952667 237px,#b83557 271px,#de5238 302px,#ef6d22 327px,#fb9506 347px,#fca70c 354px,#f8cc35 369px,#f3e157 377px,#f1f078 384px,#fcffa4 399px,#fcffa4 517px,#f1f17a 531px,#f3e359 538px,#f8cd37 546px,#fca80d 561px,#fb9606 568px,#ed6925 591px,#d34842 624px,#ac2f5d 654px,#801f6c 706px,#4e0d6c 789px,#2d0b59 866px,#1f0c47 916px)"></div>
<div class="hm" style="left:99px;top:660px;width:917px;height:1px;background:linear-gradient(90deg,#1f0c48 0px,#3c0965 89px,#64156e 166px,#952667 237px,#b73557 271px,#de5238 302px,#ef6d22 327px,#fb9506 347px,#fca70c 354px,#f8cc35 369px,#f3e157 377px,#f1f078 384px,#fcffa4 399px,#fcfea4 517px,#f1f17a 531px,#f3e259 538px,#f8cd36 546px,#fca80d 561px,#fb9606 568px,#ed6925 591px,#d34842 624px,#ac2f5d 654px,#801f6c 706px,#4e0d6c 789px,#2d0b58 866px,#1f0c47 916px)"></div>
<div class="hm" style="left:99px;top:661px;width:917px;height:1px;background:linear-gradient(90deg,#1f0c48 0px,#3c0965 89px,#64156e 166px,#952667 237px,#b73557 271px,#de5238 302px,#ef6d22 327px,#fb9806 348px,#fca90e 355px,#f8ce38 370px,#f3e45c 378px,#f2f17b 385px,#fcffa4 399px,#fcfea4 517px,#f1f179 531px,#f3e259 538px,#f8cd36 546px,#fca80d 561px,#fb9606 568px,#ed6925 591px,#d34843 624px,#ab2f5d 654px,#801f6c 706px,#4e0d6c 789px,#2d0b58 866px,#1f0c47 916px)"></div>
<div class="hm" style="left:99px;top:662px;width:917px;height:1px;background:linear-gradient(90deg,#1f0c48 0px,#3c0965 89px,#64156e 166px,#952667 237px,#b73557 271px,#de5238 302px,#ef6d22 327px,#fb9806 348px,#fca90e 355px,#f8ce38 370px,#f3e45c 378px,#f2f17b 385px,#fcffa4 399px,#fcfea4 517px,#f1f179 531px,#f3e259 538px,#f8cd36 546px,#fca70c 561px,#fb9606 568px,#ed6925 591px,#d34743 624px,#ab2f5d 654px,#801f6c 706px,#4e0d6c 789px,#2d0b58 866px,#1f0c47 916px)"></div>
<div class="hm" style="left:99px;top:663px;width:917px;height:1px;background:linear-gradient(90deg,#1f0c48 0px,#3c0965 89px,#64156e 166px,#962766 238px,#b93556 272px,#de5238 302px,#ef6d22 327px,#fb9706 348px,#fca90e 355px,#f8ce38 370px,#f3e45c 378px,#f2f17b 385px,#fcffa4 399px,#fcfea3 517px,#f1f079 531px,#f3e258 538px,#f8cc36 546px,#fca70c 561px,#fb9606 568px,#ed6925 591px,#d34743 624px,#ab2f5d 654px,#801f6c 706px,#4e0d6c 789px,#2d0b58 866px,#1f0c47 916px)"></div>
<div class="hm" style="left:99px;top:664px;width:917px;height:1px;background:linear-gradient(90deg,#1f0c47 0px,#3c0965 89px,#64156e 166px,#952666 238px,#b93556 272px,#de5238 302px,#ef6d22 327px,#fb9706 348px,#fca90d 355px,#f8ce38 370px,#f3e45b 378px,#f2f17a 385px,#fcffa4 399px,#fbfea3 517px,#f1f078 531px,#f3e258 538px,#f8cc36 546px,#fca70c 561px,#fb9606 568px,#ed6925 591px,#d34743 624px,#ab2f5d 654px,#801f6c 706px,#4e0d6c 789px,#2d0b58 866px,#1f0c47 916px)"></div>
<div class="hm" style="left:99px;top:665px;width:917px;height:1px;background:linear-gradient(90deg,#1f0c47 0px,#3c0965 89px,#64156e 166px,#952666 238px,#b83556 272px,#de5238 302px,#ef6d22 327px,#fb9706 348px,#fca80d 355px,#f8cd37 370px,#f3e35b 378px,#f1f179 385px,#fcffa4 399px,#fbfea2 517px,#f1f078 531px,#f3e258 538px,#f8cc35 546px,#fca70c 561px,#fb9606 568px,#ed6925 591px,#d34743 624px,#ab2f5d 654px,#801f6c 706px,#4e0d6c 789px,#2d0b58 866px,#1f0c47 916px)"></div>
<div class="hm" style="left:99px;top:666px;width:917px;height:1px;background:linear-gradient(90deg,#1f0c47 0px,#3c0965 89px,#64156e 166px,#952667 238px,#b83556 272px,#de5239 302px,#ef6c22 327px,#fb9706 348px,#fca80d 355px,#f8cd37 370px,#f3e35a 378px,#f1f079 385px,#fcffa4 400px,#fcffa4 516px,#f2f17a 530px,#f3e45c 537px,#f8ce38 545px,#fca90e 560px,#fb9806 567px,#ee6a24 590px,#d34743 624px,#ab2f5e 654px,#7f1f6c 706px,#4e0d6c 789px,#2d0b58 866px,#1f0c47 916px)"></div>
<div class="hm" style="left:99px;top:667px;width:917px;height:1px;background:linear-gradient(90deg,#1f0c47 0px,#3c0964 89px,#64156e 166px,#952667 238px,#b83556 272px,#dd5239 302px,#ef6c22 327px,#fb9606 348px,#fca80d 355px,#f8cd36 370px,#f3e359 378px,#f1f078 385px,#fcffa4 400px,#fcfea4 516px,#f1f079 530px,#f3e45b 537px,#f8ce38 545px,#fca90e 560px,#fb9706 567px,#ed6a24 590px,#d34743 624px,#aa2e5e 655px,#7d1e6d 709px,#4c0c6b 792px,#2a0b55 875px,#1f0c47 916px)"></div>
<div class="hm" style="left:99px;top:668px;width:917px;height:1px;background:linear-gradient(90deg,#1f0c47 0px,#3c0964 89px,#64156e 166px,#952667 238px,#b83556 272px,#dd5139 302px,#ee6c23 327px,#fb9606 348px,#fca70c 355px,#f8cc36 370px,#f3e258 378px,#f1f076 385px,#fbfea2 399px,#fcffa4 407px,#fbfea3 516px,#f1f078 530px,#f3e35a 537px,#f8cd37 545px,#fca80d 560px,#fb9706 567px,#ed6925 590px,#d24743 624px,#aa2e5e 655px,#7d1e6d 709px,#4c0c6b 792px,#2a0b55 875px,#1f0c47 916px)"></div>
<div class="hm" style="left:99px;top:669px;width:917px;height:1px;background:linear-gradient(90deg,#1f0c47 0px,#3c0964 89px,#63146e 166px,#952667 238px,#b83557 272px,#dd5139 302px,#ee6b23 327px,#fb9806 349px,#fca90e 356px,#f8ce38 371px,#f1ec6e 383px,#f8fb9a 397px,#fcffa4 401px,#fcffa4 515px,#f1f179 529px,#f3e55e 536px,#f8cf39 544px,#fcaa0f 559px,#fb9906 566px,#f57c16 579px,#e75f2d 598px,#d14545 625px,#a92e5e 655px,#7d1e6d 709px,#4c0c6b 792px,#290b55 876px,#1f0c47 916px)"></div>
<div class="hm" style="left:99px;top:670px;width:917px;height:1px;background:linear-gradient(90deg,#1f0c47 0px,#3b0964 89px,#63146e 165px,#932667 237px,#b63458 271px,#dd513a 302px,#ee6b24 327px,#fb9706 349px,#fca80d 356px,#f8cd37 371px,#f1eb6c 383px,#f7fb98 397px,#fcffa4 401px,#fcfea4 515px,#f2f17a 528px,#f3e45c 536px,#f8ce38 544px,#fca90e 559px,#fb9806 566px,#f3761b 582px,#e55c30 601px,#cf4446 626px,#a82e5f 656px,#7b1d6d 711px,#4b0c6b 794px,#270b53 881px,#1f0c47 916px)"></div>
<div class="hm" style="left:99px;top:671px;width:917px;height:1px;background:linear-gradient(90deg,#1f0c47 0px,#3b0964 89px,#62146e 165px,#942667 238px,#b73557 272px,#dc503a 302px,#ee6a24 327px,#fb9606 349px,#fca70c 356px,#f8cc35 371px,#f1ec6d 384px,#f7fb99 398px,#fcffa4 402px,#fcffa4 514px,#f2f17a 527px,#f2e55f 535px,#f8cd37 544px,#fca80d 559px,#fb9706 566px,#ec6826 590px,#d14644 624px,#a82e5f 655px,#7c1e6d 709px,#4c0c6b 792px,#280b54 878px,#1f0c47 916px)"></div>
<div class="hm" style="left:99px;top:672px;width:917px;height:1px;background:linear-gradient(90deg,#1e0c47 0px,#3b0964 89px,#62146e 165px,#932667 238px,#b63457 272px,#dc503b 302px,#ed6925 327px,#fb9706 350px,#fca90d 357px,#f8cd37 372px,#f2eb6a 384px,#f6fa96 398px,#fcffa4 402px,#fbfea3 514px,#f2f17a 526px,#f3e45c 535px,#f8cc35 544px,#fca70c 559px,#fb9606 566px,#ec6727 590px,#d14545 624px,#a82e5f 655px,#7b1d6d 710px,#4b0c6b 793px,#270b53 880px,#1e0c46 916px)"></div>
<div class="hm" style="left:99px;top:673px;width:917px;height:1px;background:linear-gradient(90deg,#1e0c46 0px,#3b0964 89px,#62146e 165px,#932667 238px,#b63458 272px,#db4f3b 302px,#ed6825 327px,#fb9606 350px,#fca70c 357px,#f9cb35 372px,#f2e967 384px,#f6fa96 399px,#fcffa4 403px,#fcfea4 513px,#f2f27c 524px,#f3e259 535px,#f9c72f 545px,#fca60b 559px,#fb9507 566px,#ec6627 590px,#d04545 624px,#a72d5f 655px,#7b1d6d 710px,#4b0c6b 793px,#270b52 880px,#1e0c46 916px)"></div>
<div class="hm" style="left:99px;top:674px;width:917px;height:1px;background:linear-gradient(90deg,#1e0c46 0px,#3a0964 89px,#61146e 165px,#922568 238px,#b53358 272px,#da4e3c 302px,#ec6726 327px,#fb9706 351px,#fca80d 358px,#f9c932 372px,#f2e762 384px,#f5f991 399px,#fcffa4 404px,#fcffa4 512px,#f2f27e 522px,#f4e055 535px,#fac52d 545px,#fca40a 559px,#fa9307 566px,#eb6528 590px,#cf4446 624px,#a62d60 655px,#791c6d 711px,#4a0c6b 794px,#270c52 881px,#1e0c46 916px)"></div>
<div class="hm" style="left:99px;top:675px;width:917px;height:1px;background:linear-gradient(90deg,#1e0c46 0px,#390963 88px,#60136e 164px,#912568 238px,#b43359 272px,#da4e3c 303px,#ec6726 328px,#fb9706 352px,#fca80d 359px,#f9ca32 373px,#f3e55d 384px,#f4f78b 399px,#fcfea4 404px,#fcffa4 511px,#f2f482 519px,#f4de51 535px,#fac32a 545px,#fca40a 558px,#fa9307 565px,#eb6528 589px,#ce4347 624px,#a42c61 656px,#771c6d 713px,#480b6a 796px,#260c50 883px,#1e0c45 916px)"></div>
<div class="hm" style="left:99px;top:676px;width:917px;height:1px;background:linear-gradient(90deg,#1d0c45 0px,#390963 88px,#5e136e 163px,#902568 238px,#b2325a 272px,#d94d3d 303px,#eb6528 328px,#fb9506 352px,#fca50b 359px,#f9c62e 373px,#f3e257 384px,#f2f381 398px,#f9fd9e 404px,#fcffa4 405px,#fcffa4 510px,#f2f482 517px,#f3e259 531px,#fbbb20 547px,#fc9f07 559px,#f98c0a 567px,#e9622b 590px,#cd4248 624px,#a32c61 656px,#761b6e 714px,#470b6a 797px,#250c50 884px,#1d0c45 916px)"></div>
<div class="hm" style="left:99px;top:677px;width:917px;height:1px;background:linear-gradient(90deg,#1d0c44 0px,#380962 88px,#5e126e 163px,#902468 239px,#b1325b 272px,#d74b3f 303px,#ea632a 328px,#fa9207 352px,#fca40a 360px,#fac32a 373px,#f4de51 384px,#f1ef74 397px,#f5f88f 403px,#fcffa4 406px,#fcffa4 509px,#fbfea1 510px,#f3f586 514px,#f2e763 524px,#f7d542 536px,#fbba1f 546px,#fca108 557px,#f98e09 565px,#e9612c 589px,#cb4149 624px,#a22b62 656px,#741b6e 715px,#460b69 798px,#240c4f 885px,#1d0c44 916px)"></div>
<div class="hm" style="left:99px;top:678px;width:917px;height:1px;background:linear-gradient(90deg,#1d0c44 0px,#370962 88px,#5c126e 162px,#8e2469 239px,#af315c 272px,#d54941 303px,#e8612c 328px,#f98e09 352px,#fca008 360px,#fbbc21 372px,#f5d949 384px,#f1ec6e 398px,#f3f585 403px,#fcffa4 407px,#fcffa4 508px,#fbfea1 509px,#f2f381 513px,#f2e865 520px,#f8d03b 536px,#fcb318 547px,#fb9d06 557px,#f98a0b 565px,#e75f2e 589px,#c83f4c 625px,#a02a63 656px,#721a6e 716px,#440a69 799px,#240c4e 885px,#1d0c44 916px)"></div>
<div class="hm" style="left:99px;top:679px;width:917px;height:1px;background:linear-gradient(90deg,#1c0c43 0px,#360961 88px,#5b116e 162px,#8d2369 240px,#ad305d 272px,#d34743 303px,#e75e2e 328px,#f98a0c 352px,#fb9c06 360px,#fcb014 369px,#f7d441 384px,#f2e762 398px,#f1f078 403px,#f9fc9c 407px,#fcffa4 408px,#fcffa4 507px,#fafda0 508px,#f2f17b 512px,#f2e660 518px,#f9cb34 536px,#fcae13 547px,#fb9a06 556px,#f8860e 565px,#e55c30 589px,#c63d4d 625px,#9d2964 657px,#6e196e 719px,#420a68 801px,#220c4c 887px,#1c0c43 916px)"></div>
<div class="hm" style="left:99px;top:680px;width:917px;height:1px;background:linear-gradient(90deg,#1b0c42 0px,#350960 88px,#59106e 161px,#8b236a 240px,#aa2f5e 272px,#d14644 304px,#e55c30 329px,#f8870e 353px,#fb9b06 362px,#fcaf13 371px,#f8cf39 385px,#f3e259 399px,#f1ed70 404px,#f7fb99 408px,#fcfea3 409px,#fcffa4 506px,#f3f587 509px,#f1eb6c 512px,#f4e054 518px,#fac42b 536px,#fca90d 547px,#fb9706 555px,#f57b17 568px,#e15635 591px,#c33b4f 625px,#9a2865 657px,#6c186e 720px,#410a67 801px,#220c4b 887px,#1b0c42 916px)"></div>
<div class="hm" style="left:99px;top:681px;width:917px;height:1px;background:linear-gradient(90deg,#1b0c41 0px,#340a5f 88px,#56106d 160px,#88226a 240px,#a82e5f 273px,#ce4347 304px,#e25833 329px,#f78112 353px,#fb9806 364px,#fcaa0e 372px,#f9c72f 385px,#f5dc4e 400px,#f2e660 404px,#f2f17c 407px,#f9fd9e 410px,#fcffa4 411px,#fbfea2 505px,#f1ef75 509px,#f3e45c 512px,#f6d846 518px,#fbbd22 536px,#fca40a 546px,#fa9307 554px,#e8602d 581px,#d54941 602px,#bc3754 628px,#952667 660px,#66156e 727px,#3e0966 805px,#200c48 891px,#1b0c40 916px)"></div>
<div class="hm" style="left:99px;top:682px;width:917px;height:1px;background:linear-gradient(90deg,#1a0c3f 0px,#320a5e 88px,#540f6d 160px,#86216b 242px,#a42c61 273px,#cb4149 305px,#e05536 330px,#f57d15 354px,#fb9706 367px,#fca90d 375px,#fbbe24 385px,#f7d33f 400px,#f5dc4e 404px,#f2e967 407px,#f6fa95 411px,#fafda0 412px,#fcffa4 414px,#fcfea3 503px,#f1f076 507px,#f3e258 510px,#f6d847 513px,#f9c72f 523px,#fcb116 537px,#fb9e07 545px,#f98c0b 554px,#e45b31 581px,#d14644 602px,#b73457 629px,#902568 661px,#62146e 730px,#3b0964 807px,#1e0c47 892px,#1a0c3f 916px)"></div>
<div class="hm" style="left:99px;top:683px;width:917px;height:1px;background:linear-gradient(90deg,#190c3e 0px,#310a5c 89px,#520e6d 160px,#83206b 243px,#a12b62 274px,#c73e4c 306px,#dd5139 331px,#f3771a 355px,#fb9606 371px,#fca60c 378px,#fbba20 391px,#f8cc35 402px,#f5d949 406px,#f1ed70 410px,#f9fc9d 414px,#fcffa4 415px,#fcffa4 500px,#fafda1 501px,#f1ef75 505px,#f5db4c 509px,#f8cd36 513px,#fbba1f 525px,#fca70c 537px,#fb9706 544px,#f3761b 561px,#dc503a 585px,#c43c4f 613px,#922568 655px,#66166e 717px,#3e0966 797px,#200c48 881px,#190c3d 916px)"></div>
<div class="hm" style="left:99px;top:684px;width:917px;height:1px;background:linear-gradient(90deg,#180c3c 0px,#2f0a5a 89px,#4e0d6c 159px,#801f6c 244px,#9e2a64 275px,#c23b50 307px,#d94d3e 332px,#f1721e 357px,#fb9606 376px,#fcaa0e 387px,#fbbf25 402px,#f8cc35 406px,#f2e55f 411px,#f4f78b 415px,#fafda0 417px,#fcffa4 419px,#fcffa4 498px,#f1f078 502px,#f6d847 507px,#fac62d 511px,#fbb71b 518px,#fb9c06 537px,#f8870e 547px,#e25734 575px,#ca404a 598px,#ae305c 628px,#88226a 661px,#5a116e 733px,#370961 807px,#1c0c43 892px,#180c3c 916px)"></div>
<div class="hm" style="left:99px;top:685px;width:917px;height:1px;background:linear-gradient(90deg,#160b39 0px,#2d0b59 91px,#4c0c6b 161px,#7c1e6d 246px,#992865 276px,#bc3754 308px,#d54941 334px,#f06f20 361px,#fb9606 382px,#fca80d 397px,#fcb51a 404px,#f9cb35 409px,#f2e967 415px,#f6fa94 419px,#fafd9f 420px,#fcffa4 421px,#fcfea3 495px,#f1f077 499px,#f6d847 504px,#fbbf24 509px,#fcaf13 514px,#fb9e07 527px,#f98d0a 538px,#e45b31 567px,#c83f4c 593px,#a72d5f 628px,#83206c 661px,#550f6d 735px,#340a5f 807px,#1a0c40 892px,#160b39 916px)"></div>
<div class="hm" style="left:99px;top:686px;width:917px;height:1px;background:linear-gradient(90deg,#150b37 0px,#2b0b56 92px,#490b6a 162px,#781c6d 248px,#952667 278px,#b53458 309px,#d04545 337px,#f06e21 368px,#f98c0a 386px,#fca007 402px,#fcb014 407px,#f7d23e 414px,#f2eb6b 419px,#f7fb98 423px,#fbfea3 424px,#fcffa4 491px,#f3f586 494px,#f4de51 499px,#fac027 505px,#fca90e 510px,#fb9b06 516px,#f8870e 534px,#e25734 563px,#c33b4f 590px,#9f2a63 629px,#7d1e6d 661px,#4f0d6c 739px,#300a5c 809px,#180c3d 895px,#150b37 916px)"></div>
<div class="hm" style="left:99px;top:687px;width:917px;height:1px;background:linear-gradient(90deg,#130b34 0px,#280b54 95px,#460b69 166px,#741b6e 252px,#942667 284px,#b1325a 316px,#d24644 346px,#f0701f 377px,#fa9008 403px,#fca108 408px,#fac128 415px,#f4df54 421px,#f3f68a 426px,#fafda0 428px,#fcffa4 430px,#fcffa4 487px,#f1f077 491px,#f6d746 496px,#fbba1f 502px,#fc9f07 508px,#f98d0a 514px,#f1711f 538px,#d24743 569px,#b2325a 599px,#942667 631px,#751b6e 663px,#460b69 749px,#290b54 819px,#140b35 913px,#130b34 916px)"></div>
<div class="hm" style="left:99px;top:688px;width:917px;height:1px;background:linear-gradient(90deg,#120a31 0px,#260c51 98px,#430a68 171px,#70196e 256px,#a42c61 312px,#c23b50 342px,#e85f2d 376px,#f67f14 404px,#fb9906 411px,#fcaa0e 415px,#f9cb34 422px,#f3e45d 427px,#f3f689 431px,#fafd9f 433px,#fcffa4 434px,#fbfea3 482px,#f1f077 486px,#f6d746 491px,#fbb91e 497px,#fca309 502px,#fa9207 506px,#f57c16 513px,#e75e2e 540px,#c13a51 575px,#a42c61 604px,#83206b 638px,#68166e 671px,#3e0966 757px,#1d0c44 849px,#120a31 916px)"></div>
<div class="hm" style="left:99px;top:689px;width:917px;height:1px;background:linear-gradient(90deg,#10092e 0px,#220c4b 97px,#400a67 176px,#6a176e 260px,#992865 312px,#b63458 342px,#de5239 377px,#ee6b23 404px,#fa9507 416px,#fca60b 420px,#f9c72e 427px,#f4e054 432px,#f3f689 437px,#f9fd9e 439px,#fcffa4 440px,#fbfea2 476px,#f1f077 480px,#f6d846 485px,#fcb51a 492px,#fc9f07 497px,#f98a0b 502px,#ee6a24 512px,#dc503a 540px,#b0315b 578px,#962766 607px,#65156e 664px,#3c0964 749px,#1b0c42 844px,#10092e 916px)"></div>
<div class="hm" style="left:99px;top:690px;width:917px;height:1px;background:linear-gradient(90deg,#0e092a 0px,#1e0c46 97px,#3e0966 187px,#65156e 265px,#8d2369 313px,#aa2e5e 344px,#d74b3f 386px,#e35833 404px,#f67e14 417px,#fb9506 423px,#fca60b 427px,#f9c72e 434px,#f4df53 439px,#f3f687 444px,#fcffa4 447px,#fcffa4 468px,#fafda1 469px,#f1ef75 473px,#f6d746 478px,#fbb61a 485px,#fc9f07 490px,#fa8f09 494px,#e65d2f 509px,#dd5139 519px,#ce4347 540px,#9d2964 583px,#68166e 646px,#480b6a 705px,#290b55 782px,#140b35 870px,#0e092a 916px)"></div>
<div class="hm" style="left:99px;top:691px;width:917px;height:1px;background:linear-gradient(90deg,#0c0826 0px,#1a0c40 100px,#3d0965 203px,#5e126e 269px,#801f6c 314px,#9e2a63 348px,#c73e4d 387px,#d44842 405px,#ef6d22 420px,#fb9506 431px,#fca60b 435px,#fac52d 442px,#f3e259 448px,#f4f88e 453px,#fbfea2 455px,#fcffa4 460px,#f2f27c 464px,#f5db4b 469px,#fbb91e 476px,#fc9f07 482px,#fa8e09 486px,#e8602d 500px,#d24644 512px,#bc3854 540px,#8c2369 585px,#57106e 656px,#350a60 733px,#170b3a 834px,#0c0826 916px)"></div>
<div class="hm" style="left:99px;top:692px;width:917px;height:1px;background:linear-gradient(90deg,#0a0723 0px,#170c3b 104px,#380962 212px,#560f6d 273px,#751b6e 320px,#a32c61 370px,#b43359 390px,#c23b50 406px,#e35833 422px,#f98b0b 438px,#fc9f07 443px,#fbb91e 449px,#f5d949 456px,#f4e055 458px,#fac42b 464px,#fca40a 471px,#fa9407 475px,#e75f2e 491px,#c9404b 506px,#ba3655 516px,#a82e5f 541px,#781c6d 591px,#560f6d 642px,#380962 702px,#170c3b 810px,#0a0723 913px,#0a0722 916px)"></div>
<div class="hm" style="left:99px;top:693px;width:917px;height:1px;background:linear-gradient(90deg,#08061e 0px,#140b35 109px,#300a5c 217px,#4b0c6b 275px,#761b6e 342px,#9e2a63 389px,#ab2f5d 406px,#d34842 425px,#f06f20 441px,#fb9506 452px,#fca50b 456px,#fcab10 458px,#fb9b06 462px,#f78410 468px,#e25734 483px,#c13a51 499px,#a52d60 514px,#922568 542px,#65156e 597px,#3f0a66 661px,#1e0c45 761px,#0d0827 861px,#08061e 916px)"></div>
<div class="hm" style="left:100px;top:779px;width:916px;height:6px;background:linear-gradient(90deg,#000004 0px,#000004 915px)"></div>
<div class="hm" style="left:100px;top:785px;width:916px;height:1px;background:linear-gradient(90deg,#000004 0px,#010004 669px,#000004 915px)"></div>
<div class="hm" style="left:100px;top:786px;width:916px;height:1px;background:linear-gradient(90deg,#000004 0px,#010005 643px,#000004 915px)"></div>
<div class="hm" style="left:100px;top:787px;width:916px;height:1px;background:linear-gradient(90deg,#000004 0px,#010106 623px,#000004 915px)"></div>
<div class="hm" style="left:100px;top:788px;width:916px;height:1px;background:linear-gradient(90deg,#000004 0px,#010107 604px,#000004 915px)"></div>
<div class="hm" style="left:100px;top:789px;width:916px;height:1px;background:linear-gradient(90deg,#000004 0px,#010108 587px,#000004 915px)"></div>
<div class="hm" style="left:100px;top:790px;width:916px;height:1px;background:linear-gradient(90deg,#000004 0px,#010109 574px,#000004 915px)"></div>
<div class="hm" style="left:100px;top:791px;width:916px;height:1px;background:linear-gradient(90deg,#000004 0px,#02010a 559px,#000004 915px)"></div>
<div class="hm" style="left:100px;top:792px;width:916px;height:1px;background:linear-gradient(90deg,#000004 0px,#02010b 546px,#000004 915px)"></div>
<div class="hm" style="left:100px;top:793px;width:916px;height:1px;background:linear-gradient(90deg,#000004 0px,#02020c 533px,#000004 915px)"></div>
<div class="hm" style="left:100px;top:794px;width:916px;height:1px;background:linear-gradient(90deg,#000004 0px,#02020d 520px,#000004 915px)"></div>
<div class="hm" style="left:100px;top:795px;width:916px;height:1px;background:linear-gradient(90deg,#000004 0px,#03020f 506px,#000004 915px)"></div>
<div class="hm" style="left:100px;top:796px;width:916px;height:1px;background:linear-gradient(90deg,#000004 0px,#030210 493px,#000004 915px)"></div>
<div class="hm" style="left:100px;top:797px;width:916px;height:1px;background:linear-gradient(90deg,#000004 0px,#030311 479px,#000004 915px)"></div>
<div class="hm" style="left:100px;top:798px;width:916px;height:1px;background:linear-gradient(90deg,#000004 0px,#040312 464px,#010106 807px,#000004 915px)"></div>
<div class="hm" style="left:100px;top:799px;width:916px;height:1px;background:linear-gradient(90deg,#000004 0px,#040313 449px,#010109 768px,#000004 915px)"></div>
<div class="hm" style="left:100px;top:800px;width:916px;height:1px;background:linear-gradient(90deg,#000004 0px,#040315 433px,#02020c 741px,#000004 915px)"></div>
<div class="hm" style="left:100px;top:801px;width:916px;height:1px;background:linear-gradient(90deg,#000004 0px,#050416 416px,#03020e 715px,#000004 915px)"></div>
<div class="hm" style="left:100px;top:802px;width:916px;height:1px;background:linear-gradient(90deg,#000004 0px,#050417 399px,#030311 691px,#000004 915px)"></div>
<div class="hm" style="left:100px;top:803px;width:916px;height:1px;background:linear-gradient(90deg,#000004 0px,#050418 387px,#040313 673px,#000004 915px)"></div>
<div class="hm" style="left:100px;top:804px;width:916px;height:1px;background:linear-gradient(90deg,#010004 0px,#060519 374px,#040415 656px,#010004 915px)"></div>
<div class="hm" style="left:100px;top:805px;width:916px;height:1px;background:linear-gradient(90deg,#010005 0px,#06051b 361px,#050418 639px,#010005 915px)"></div>
<div class="hm" style="left:100px;top:806px;width:916px;height:1px;background:linear-gradient(90deg,#010005 0px,#07051c 350px,#06051a 624px,#010006 915px)"></div>
<div class="hm" style="left:100px;top:807px;width:916px;height:1px;background:linear-gradient(90deg,#010106 0px,#07051d 338px,#07051c 609px,#010106 915px)"></div>
<div class="hm" style="left:100px;top:808px;width:916px;height:1px;background:linear-gradient(90deg,#010107 0px,#08061e 329px,#08061e 596px,#010107 915px)"></div>
<div class="hm" style="left:100px;top:809px;width:916px;height:1px;background:linear-gradient(90deg,#010108 0px,#090620 318px,#090620 580px,#02010b 881px,#010108 915px)"></div>
<div class="hm" style="left:100px;top:810px;width:916px;height:1px;background:linear-gradient(90deg,#010109 0px,#090721 311px,#0a0723 567px,#03020f 856px,#010109 915px)"></div>
<div class="hm" style="left:100px;top:811px;width:916px;height:1px;background:linear-gradient(90deg,#02010a 0px,#0a0723 305px,#0b0725 556px,#030312 840px,#02010a 915px)"></div>
<div class="hm" style="left:100px;top:812px;width:916px;height:1px;background:linear-gradient(90deg,#02010b 0px,#0b0725 302px,#0d0828 548px,#040314 830px,#02010b 915px)"></div>
<div class="hm" style="left:100px;top:813px;width:916px;height:1px;background:linear-gradient(90deg,#02020c 0px,#0c0827 300px,#0e092a 541px,#050417 818px,#02020c 915px)"></div>
<div class="hm" style="left:100px;top:814px;width:916px;height:1px;background:linear-gradient(90deg,#02020e 0px,#0e082a 300px,#0f092d 537px,#06051a 806px,#02020e 915px)"></div>
<div class="hm" style="left:100px;top:815px;width:916px;height:1px;background:linear-gradient(90deg,#03020f 0px,#0f092c 299px,#110a30 532px,#08061e 790px,#03020f 915px)"></div>
<div class="hm" style="left:100px;top:816px;width:916px;height:1px;background:linear-gradient(90deg,#030311 0px,#100a2f 296px,#130a33 525px,#0a0722 773px,#030311 915px)"></div>
<div class="hm" style="left:100px;top:817px;width:916px;height:1px;background:linear-gradient(90deg,#040312 0px,#120a31 292px,#140b36 517px,#0c0826 755px,#040313 915px)"></div>
<div class="hm" style="left:100px;top:818px;width:916px;height:1px;background:linear-gradient(90deg,#040314 0px,#130b34 287px,#160b39 509px,#0e092a 740px,#040314 915px)"></div>
<div class="hm" style="left:100px;top:819px;width:916px;height:1px;background:linear-gradient(90deg,#050416 0px,#150b37 281px,#180c3d 498px,#100a2f 724px,#050416 915px)"></div>
<div class="hm" style="left:100px;top:820px;width:916px;height:1px;background:linear-gradient(90deg,#050418 0px,#160b39 274px,#1b0c41 487px,#130b34 706px,#050418 915px)"></div>
<div class="hm" style="left:100px;top:821px;width:916px;height:1px;background:linear-gradient(90deg,#06051a 0px,#180c3d 268px,#1d0c45 477px,#160b39 689px,#06051a 915px)"></div>
<div class="hm" style="left:100px;top:822px;width:916px;height:1px;background:linear-gradient(90deg,#07051c 0px,#1a0c40 261px,#200c49 467px,#190c3e 673px,#07051d 915px)"></div>
<div class="hm" style="left:100px;top:823px;width:916px;height:1px;background:linear-gradient(90deg,#08061f 0px,#1d0c44 255px,#230c4d 458px,#1d0c44 661px,#08061f 915px)"></div>
<div class="hm" style="left:100px;top:824px;width:916px;height:1px;background:linear-gradient(90deg,#0a0722 0px,#1f0c47 247px,#270b52 448px,#200c49 651px,#0d0827 884px,#0a0722 915px)"></div>
<div class="hm" style="left:100px;top:825px;width:916px;height:1px;background:linear-gradient(90deg,#0b0725 0px,#210c4b 236px,#2a0b56 435px,#240c4e 641px,#120a32 847px,#0b0725 915px)"></div>
<div class="hm" style="left:100px;top:826px;width:916px;height:1px;background:linear-gradient(90deg,#0d0828 0px,#240c4e 223px,#2e0a5a 422px,#280b54 635px,#170b3b 820px,#0d0828 915px)"></div>
<div class="hm" style="left:100px;top:827px;width:916px;height:1px;background:linear-gradient(90deg,#0f092c 0px,#260c51 206px,#330a5e 403px,#2e0a5a 615px,#1d0c45 789px,#0f092c 915px)"></div>
<div class="hm" style="left:100px;top:828px;width:916px;height:1px;background:linear-gradient(90deg,#110a2f 0px,#280b54 188px,#370962 376px,#350a60 582px,#250c4f 760px,#110a30 915px)"></div>
<div class="hm" style="left:100px;top:829px;width:916px;height:1px;background:linear-gradient(90deg,#130b34 0px,#2b0b57 171px,#3c0964 349px,#3c0965 553px,#2c0b58 736px,#150b37 901px,#130b34 915px)"></div>
<div class="hm" style="left:100px;top:830px;width:916px;height:1px;background:linear-gradient(90deg,#160b39 0px,#2e0a5a 156px,#400a67 330px,#430a68 534px,#320a5d 732px,#1b0c41 883px,#160b39 915px)"></div>
<div class="hm" style="left:100px;top:831px;width:916px;height:1px;background:linear-gradient(90deg,#190c3e 0px,#320a5d 144px,#460b69 322px,#4a0b6b 523px,#390963 721px,#240c4e 853px,#190c3f 915px)"></div>
<div class="hm" style="left:100px;top:832px;width:916px;height:1px;background:linear-gradient(90deg,#1d0c45 0px,#350960 127px,#4c0c6b 314px,#510e6c 511px,#410a67 710px,#2c0b58 840px,#1d0c45 915px)"></div>
<div class="hm" style="left:100px;top:833px;width:916px;height:1px;background:linear-gradient(90deg,#220c4b 0px,#390963 108px,#530e6d 302px,#59106e 498px,#4b0c6b 690px,#330a5e 838px,#220c4b 915px)"></div>
<div class="hm" style="left:100px;top:834px;width:916px;height:1px;background:linear-gradient(90deg,#270b53 0px,#3e0966 98px,#59106e 281px,#61136e 478px,#550f6d 671px,#390963 841px,#280b53 915px)"></div>
<div class="hm" style="left:100px;top:835px;width:916px;height:1px;background:linear-gradient(90deg,#2e0a5a 0px,#470b6a 104px,#60136e 277px,#68166e 477px,#5d126e 674px,#400a67 845px,#2f0a5a 915px)"></div>
<div class="hm" style="left:100px;top:836px;width:916px;height:1px;background:linear-gradient(90deg,#360961 0px,#530e6d 120px,#6a176e 299px,#6f196e 503px,#61146e 701px,#450a69 861px,#370961 915px)"></div>
<div class="hm" style="left:100px;top:837px;width:916px;height:1px;background:linear-gradient(90deg,#3f0a66 0px,#5f136e 143px,#741b6e 337px,#761b6e 541px,#65156e 739px,#460b6a 890px,#3f0a66 915px)"></div>
<div class="hm" style="left:100px;top:838px;width:916px;height:1px;background:linear-gradient(90deg,#490b6a 0px,#69166e 148px,#7d1e6c 345px,#7f1e6c 547px,#6c186e 745px,#4d0c6c 902px,#490b6a 915px)"></div>
<div class="hm" style="left:100px;top:839px;width:916px;height:1px;background:linear-gradient(90deg,#530f6d 0px,#751b6e 169px,#88226a 365px,#87216b 566px,#731a6e 761px,#530f6d 915px)"></div>
<div class="hm" style="left:100px;top:840px;width:916px;height:1px;background:linear-gradient(90deg,#5d126e 0px,#801f6c 178px,#922567 374px,#912568 574px,#7c1d6d 768px,#5d126e 915px)"></div>
<div class="hm" style="left:100px;top:841px;width:916px;height:1px;background:linear-gradient(90deg,#68166e 0px,#8b236a 176px,#9e2a63 370px,#9d2964 568px,#88226a 761px,#68166e 915px)"></div>
<div class="hm" style="left:100px;top:842px;width:916px;height:1px;background:linear-gradient(90deg,#741b6e 0px,#992865 180px,#ab2f5e 371px,#aa2e5e 569px,#952666 757px,#741b6e 915px)"></div>
<div class="hm" style="left:100px;top:843px;width:916px;height:1px;background:linear-gradient(90deg,#82206c 0px,#a72d60 172px,#ba3655 361px,#ba3655 555px,#a62d60 744px,#82206c 915px)"></div>
<div class="hm" style="left:100px;top:844px;width:916px;height:1px;background:linear-gradient(90deg,#942667 0px,#bc3754 179px,#d04546 354px,#d14545 543px,#bf3952 719px,#992865 898px,#942667 915px)"></div>
<div class="hm" style="left:100px;top:845px;width:916px;height:1px;background:linear-gradient(90deg,#ae305c 0px,#d24644 132px,#e65e2e 294px,#ec6726 463px,#e55c30 635px,#d04545 792px,#ae305c 915px)"></div>
<div class="hm" style="left:100px;top:846px;width:916px;height:1px;background:linear-gradient(90deg,#dc503a 0px,#f1711e 107px,#fa9008 248px,#fca007 409px,#fb9c06 573px,#f98a0c 703px,#eb6529 852px,#dc503a 915px)"></div>
<div class="hm" style="left:100px;top:847px;width:916px;height:1px;background:linear-gradient(90deg,#f67f14 0px,#fb9706 101px,#fcab10 210px,#fbbd22 390px,#fbbb21 555px,#fca60b 736px,#fa9307 831px,#f67f14 915px)"></div>
<div class="hm" style="left:100px;top:848px;width:916px;height:1px;background:linear-gradient(90deg,#f1711e 0px,#fa9307 137px,#fca60b 247px,#fcb419 421px,#fcaf13 593px,#fb9706 759px,#f68013 862px,#f1711e 915px)"></div>
<div class="hm" style="left:100px;top:849px;width:916px;height:1px;background:linear-gradient(90deg,#c73e4c 0px,#e75e2e 130px,#f67f13 293px,#f98b0b 446px,#f78211 599px,#eb6528 759px,#d14545 885px,#c83e4c 915px)"></div>
<div class="hm" style="left:100px;top:850px;width:916px;height:1px;background:linear-gradient(90deg,#a22b62 0px,#ca404a 162px,#de5338 327px,#e25734 510px,#d44842 693px,#b63457 843px,#a22b62 915px)"></div>
<div class="hm" style="left:100px;top:851px;width:916px;height:1px;background:linear-gradient(90deg,#8c2369 0px,#b33359 180px,#c63e4d 367px,#c63d4d 555px,#b2325a 742px,#8d2369 915px)"></div>
<div class="hm" style="left:100px;top:852px;width:916px;height:1px;background:linear-gradient(90deg,#7c1e6d 0px,#a12b62 174px,#b43359 366px,#b33359 561px,#9f2a63 752px,#7d1e6d 915px)"></div>
<div class="hm" style="left:100px;top:853px;width:916px;height:1px;background:linear-gradient(90deg,#6f196e 0px,#932667 179px,#a62d60 370px,#a42c61 568px,#902468 759px,#6f196e 915px)"></div>
<div class="hm" style="left:100px;top:854px;width:916px;height:1px;background:linear-gradient(90deg,#64156e 0px,#87216b 176px,#992865 371px,#982766 570px,#83206b 764px,#64156e 915px)"></div>
<div class="hm" style="left:100px;top:855px;width:916px;height:1px;background:linear-gradient(90deg,#59116e 0px,#7c1d6d 176px,#8e2469 372px,#8d2369 573px,#781c6d 767px,#59116e 915px)"></div>
<div class="hm" style="left:100px;top:856px;width:916px;height:1px;background:linear-gradient(90deg,#4f0d6c 0px,#70196e 161px,#84206b 358px,#84206b 559px,#70196e 756px,#4f0d6c 915px)"></div>
<div class="hm" style="left:100px;top:857px;width:916px;height:1px;background:linear-gradient(90deg,#450a69 0px,#65156e 143px,#7a1d6d 339px,#7b1d6d 542px,#69176e 741px,#4b0c6b 895px,#450a69 915px)"></div>
<div class="hm" style="left:100px;top:858px;width:916px;height:1px;background:linear-gradient(90deg,#3b0964 0px,#5a116e 132px,#70196e 321px,#741a6e 525px,#63146e 723px,#460b69 877px,#3c0964 915px)"></div>
<div class="hm" style="left:100px;top:859px;width:916px;height:1px;background:linear-gradient(90deg,#330a5e 0px,#4e0d6c 114px,#66156e 289px,#6c186e 492px,#60136e 690px,#430a68 854px,#330a5f 915px)"></div>
<div class="hm" style="left:100px;top:860px;width:916px;height:1px;background:linear-gradient(90deg,#2c0b57 0px,#430a68 99px,#5d126e 275px,#65156e 473px,#5a116e 669px,#3d0965 845px,#2c0b57 915px)"></div>
<div class="hm" style="left:100px;top:861px;width:916px;height:1px;background:linear-gradient(90deg,#250c50 0px,#3b0964 100px,#56106d 289px,#5d126e 485px,#510e6c 677px,#370961 839px,#250c50 915px)"></div>
<div class="hm" style="left:100px;top:862px;width:916px;height:1px;background:linear-gradient(90deg,#200c49 0px,#380962 116px,#500e6c 309px,#550f6d 505px,#470b6a 699px,#300a5c 837px,#200c49 915px)"></div>
<div class="hm" style="left:100px;top:863px;width:916px;height:1px;background:linear-gradient(90deg,#1c0c42 0px,#340a5f 134px,#4a0c6b 317px,#4e0d6c 515px,#3e0966 716px,#290b54 843px,#1c0c42 915px)"></div>
<div class="hm" style="left:100px;top:864px;width:916px;height:1px;background:linear-gradient(90deg,#180c3c 0px,#300a5c 149px,#440a68 325px,#470b6a 529px,#360961 725px,#200c49 864px,#180c3c 915px)"></div>
<div class="hm" style="left:100px;top:865px;width:916px;height:1px;background:linear-gradient(90deg,#150b37 0px,#2d0b58 162px,#3e0966 337px,#400a67 541px,#300a5b 733px,#190c3e 888px,#150b37 915px)"></div>
<div class="hm" style="left:100px;top:866px;width:916px;height:1px;background:linear-gradient(90deg,#120a32 0px,#2a0b55 177px,#3a0963 358px,#390963 563px,#290b55 742px,#120a32 915px)"></div>
<div class="hm" style="left:100px;top:867px;width:916px;height:1px;background:linear-gradient(90deg,#10092e 0px,#270b53 195px,#350960 387px,#320a5e 595px,#210c4b 773px,#10092e 915px)"></div>
<div class="hm" style="left:100px;top:868px;width:916px;height:1px;background:linear-gradient(90deg,#0e092a 0px,#250c50 213px,#310a5d 411px,#2b0b57 627px,#1b0c40 803px,#0e092a 915px)"></div>
<div class="hm" style="left:100px;top:869px;width:916px;height:1px;background:linear-gradient(90deg,#0c0827 0px,#230c4d 229px,#2d0b58 427px,#270c52 637px,#150b37 829px,#0c0827 915px)"></div>
<div class="hm" style="left:100px;top:870px;width:916px;height:1px;background:linear-gradient(90deg,#0a0723 0px,#200c49 241px,#290b54 441px,#230c4c 645px,#10092d 863px,#0b0724 915px)"></div>
<div class="hm" style="left:100px;top:871px;width:916px;height:1px;background:linear-gradient(90deg,#090620 0px,#1e0c46 251px,#250c50 453px,#1f0c47 655px,#0b0724 898px,#090621 915px)"></div>
<div class="hm" style="left:100px;top:872px;width:916px;height:1px;background:linear-gradient(90deg,#08061e 0px,#1c0c42 258px,#220c4c 462px,#1b0c41 666px,#08061e 915px)"></div>
<div class="hm" style="left:100px;top:873px;width:916px;height:1px;background:linear-gradient(90deg,#07051b 0px,#190c3f 264px,#1f0c47 471px,#180c3c 679px,#07051c 915px)"></div>
<div class="hm" style="left:100px;top:874px;width:916px;height:1px;background:linear-gradient(90deg,#060519 0px,#170c3b 270px,#1c0c43 481px,#150b37 696px,#060519 915px)"></div>
<div class="hm" style="left:100px;top:875px;width:916px;height:1px;background:linear-gradient(90deg,#050417 0px,#160b38 277px,#1a0c3f 492px,#120a31 714px,#050417 915px)"></div>
<div class="hm" style="left:100px;top:876px;width:916px;height:1px;background:linear-gradient(90deg,#040415 0px,#140b35 284px,#170c3b 503px,#0f092d 731px,#050415 915px)"></div>
<div class="hm" style="left:100px;top:877px;width:916px;height:1px;background:linear-gradient(90deg,#040313 0px,#130a33 289px,#150b38 512px,#0d0828 745px,#040314 915px)"></div>
<div class="hm" style="left:100px;top:878px;width:916px;height:1px;background:linear-gradient(90deg,#030312 0px,#110a30 294px,#140b35 520px,#0b0724 762px,#030312 915px)"></div>
<div class="hm" style="left:100px;top:879px;width:916px;height:1px;background:linear-gradient(90deg,#030210 0px,#10092d 297px,#120a31 527px,#090620 778px,#030210 915px)"></div>
<div class="hm" style="left:100px;top:880px;width:916px;height:1px;background:linear-gradient(90deg,#03020f 0px,#0e092b 299px,#100a2e 533px,#07051c 796px,#03020f 915px)"></div>
<div class="hm" style="left:100px;top:881px;width:916px;height:1px;background:linear-gradient(90deg,#02020d 0px,#0d0829 300px,#0f092c 539px,#060419 812px,#02020d 915px)"></div>
<div class="hm" style="left:100px;top:882px;width:916px;height:1px;background:linear-gradient(90deg,#02020c 0px,#0c0826 301px,#0d0829 544px,#050416 823px,#02020c 915px)"></div>
<div class="hm" style="left:100px;top:883px;width:916px;height:1px;background:linear-gradient(90deg,#02010b 0px,#0b0724 303px,#0c0827 551px,#040313 834px,#02010b 915px)"></div>
<div class="hm" style="left:100px;top:884px;width:916px;height:1px;background:linear-gradient(90deg,#010109 0px,#0a0722 308px,#0b0724 561px,#030210 847px,#010109 915px)"></div>
<div class="hm" style="left:100px;top:885px;width:916px;height:1px;background:linear-gradient(90deg,#010108 0px,#090621 314px,#0a0722 573px,#02020d 866px,#010108 915px)"></div>
<div class="hm" style="left:100px;top:886px;width:916px;height:1px;background:linear-gradient(90deg,#010107 0px,#08061f 322px,#090620 586px,#010109 897px,#010107 915px)"></div>
<div class="hm" style="left:100px;top:887px;width:916px;height:1px;background:linear-gradient(90deg,#010107 0px,#08061e 332px,#08051d 601px,#010107 915px)"></div>
<div class="hm" style="left:100px;top:888px;width:916px;height:1px;background:linear-gradient(90deg,#010106 0px,#07051d 343px,#07051b 615px,#010106 915px)"></div>
<div class="hm" style="left:100px;top:889px;width:916px;height:1px;background:linear-gradient(90deg,#010005 0px,#07051b 355px,#060419 631px,#010005 915px)"></div>
<div class="hm" style="left:100px;top:890px;width:916px;height:1px;background:linear-gradient(90deg,#010005 0px,#06051a 366px,#050417 645px,#010005 915px)"></div>
<div class="hm" style="left:100px;top:891px;width:916px;height:1px;background:linear-gradient(90deg,#000004 0px,#060419 379px,#040314 663px,#000004 915px)"></div>
<div class="hm" style="left:100px;top:892px;width:916px;height:1px;background:linear-gradient(90deg,#000004 0px,#050418 392px,#040312 681px,#000004 915px)"></div>
<div class="hm" style="left:100px;top:893px;width:916px;height:1px;background:linear-gradient(90deg,#000004 0px,#050416 405px,#030210 699px,#000004 915px)"></div>
<div class="hm" style="left:100px;top:894px;width:916px;height:1px;background:linear-gradient(90deg,#000004 0px,#040415 423px,#02020d 725px,#000004 915px)"></div>
<div class="hm" style="left:100px;top:895px;width:916px;height:1px;background:linear-gradient(90deg,#000004 0px,#040314 439px,#02010b 751px,#000004 915px)"></div>
<div class="hm" style="left:100px;top:896px;width:916px;height:1px;background:linear-gradient(90deg,#000004 0px,#040313 455px,#010108 781px,#000004 915px)"></div>
<div class="hm" style="left:100px;top:897px;width:916px;height:1px;background:linear-gradient(90deg,#000004 0px,#030312 470px,#000004 915px)"></div>
<div class="hm" style="left:100px;top:898px;width:916px;height:1px;background:linear-gradient(90deg,#000004 0px,#030210 484px,#000004 915px)"></div>
<div class="hm" style="left:100px;top:899px;width:916px;height:1px;background:linear-gradient(90deg,#000004 0px,#03020f 498px,#000004 915px)"></div>
<div class="hm" style="left:100px;top:900px;width:916px;height:1px;background:linear-gradient(90deg,#000004 0px,#02020e 512px,#000004 915px)"></div>
<div class="hm" style="left:100px;top:901px;width:916px;height:1px;background:linear-gradient(90deg,#000004 0px,#02020d 525px,#000004 915px)"></div>
<div class="hm" style="left:100px;top:902px;width:916px;height:1px;background:linear-gradient(90deg,#000004 0px,#02020c 539px,#000004 915px)"></div>
<div class="hm" style="left:100px;top:903px;width:916px;height:1px;background:linear-gradient(90deg,#000004 0px,#02010b 552px,#000004 915px)"></div>
<div class="hm" style="left:100px;top:904px;width:916px;height:1px;background:linear-gradient(90deg,#000004 0px,#01010a 565px,#000004 915px)"></div>
<div class="hm" style="left:100px;top:905px;width:916px;height:1px;background:linear-gradient(90deg,#000004 0px,#010109 579px,#000004 915px)"></div>
<div class="hm" style="left:100px;top:906px;width:916px;height:1px;background:linear-gradient(90deg,#000004 0px,#010108 594px,#000004 915px)"></div>
<div class="hm" style="left:100px;top:907px;width:916px;height:1px;background:linear-gradient(90deg,#000004 0px,#010107 611px,#000004 915px)"></div>
<div class="hm" style="left:100px;top:908px;width:916px;height:1px;background:linear-gradient(90deg,#000004 0px,#010006 630px,#000004 915px)"></div>
<div class="hm" style="left:100px;top:909px;width:916px;height:1px;background:linear-gradient(90deg,#000004 0px,#010005 651px,#000004 915px)"></div>
<div class="hm" style="left:100px;top:910px;width:916px;height:1px;background:linear-gradient(90deg,#000004 0px,#000004 682px,#000004 915px)"></div>
<div class="hm" style="left:100px;top:911px;width:916px;height:6px;background:linear-gradient(90deg,#000004 0px,#000004 915px)"></div>
<div class="hm" style="left:100px;top:1002px;width:916px;height:30px;background:linear-gradient(90deg,#000004 0px,#000004 915px)"></div>
<div class="hm" style="left:100px;top:1032px;width:916px;height:1px;background:linear-gradient(90deg,#000004 0px,#000004 900px,#000004 915px)"></div>
<div class="hm" style="left:100px;top:1033px;width:916px;height:1px;background:linear-gradient(90deg,#000004 0px,#010005 844px,#000004 915px)"></div>
<div class="hm" style="left:100px;top:1034px;width:916px;height:1px;background:linear-gradient(90deg,#010004 0px,#010006 788px,#010004 915px)"></div>
<div class="hm" style="left:100px;top:1035px;width:916px;height:1px;background:linear-gradient(90deg,#010004 0px,#010106 720px,#010004 915px)"></div>
<div class="hm" style="left:100px;top:1036px;width:916px;height:1px;background:linear-gradient(90deg,#010005 0px,#010107 672px,#010005 915px)"></div>
<div class="hm" style="left:100px;top:1037px;width:916px;height:1px;background:linear-gradient(90deg,#010005 0px,#010108 639px,#010005 915px)"></div>
<div class="hm" style="left:100px;top:1038px;width:916px;height:1px;background:linear-gradient(90deg,#010005 0px,#010109 612px,#010005 915px)"></div>
<div class="hm" style="left:100px;top:1039px;width:916px;height:1px;background:linear-gradient(90deg,#010005 0px,#02010b 587px,#010005 915px)"></div>
<div class="hm" style="left:100px;top:1040px;width:916px;height:1px;background:linear-gradient(90deg,#010005 0px,#02020c 564px,#010005 915px)"></div>
<div class="hm" style="left:100px;top:1041px;width:916px;height:1px;background:linear-gradient(90deg,#010006 0px,#02020d 540px,#010006 915px)"></div>
<div class="hm" style="left:100px;top:1042px;width:916px;height:1px;background:linear-gradient(90deg,#010106 0px,#03020f 514px,#010106 915px)"></div>
<div class="hm" style="left:100px;top:1043px;width:916px;height:1px;background:linear-gradient(90deg,#010106 0px,#030210 487px,#010106 915px)"></div>
<div class="hm" style="left:100px;top:1044px;width:916px;height:1px;background:linear-gradient(90deg,#010106 0px,#030312 462px,#010107 915px)"></div>
<div class="hm" style="left:100px;top:1045px;width:916px;height:1px;background:linear-gradient(90deg,#010107 0px,#040313 439px,#02010a 837px,#010107 915px)"></div>
<div class="hm" style="left:100px;top:1046px;width:916px;height:1px;background:linear-gradient(90deg,#010108 0px,#040315 417px,#02020d 804px,#010108 915px)"></div>
<div class="hm" style="left:100px;top:1047px;width:916px;height:1px;background:linear-gradient(90deg,#010109 0px,#050417 416px,#03020f 803px,#010109 915px)"></div>
<div class="hm" style="left:100px;top:1048px;width:916px;height:1px;background:linear-gradient(90deg,#02010a 0px,#06051a 428px,#030210 798px,#02010a 915px)"></div>
<div class="hm" style="left:100px;top:1049px;width:916px;height:1px;background:linear-gradient(90deg,#02010b 0px,#08051d 420px,#050415 731px,#02010b 915px)"></div>
<div class="hm" style="left:100px;top:1050px;width:916px;height:1px;background:linear-gradient(90deg,#02020d 0px,#090621 404px,#06051b 686px,#02020d 915px)"></div>
<div class="hm" style="left:100px;top:1051px;width:916px;height:1px;background:linear-gradient(90deg,#03020f 0px,#0b0725 382px,#090620 651px,#03020f 915px)"></div>
<div class="hm" style="left:100px;top:1052px;width:916px;height:1px;background:linear-gradient(90deg,#030210 0px,#0d0828 355px,#0c0826 617px,#030210 915px)"></div>
<div class="hm" style="left:100px;top:1053px;width:916px;height:1px;background:linear-gradient(90deg,#040312 0px,#0f092c 320px,#0f092d 578px,#050418 857px,#040312 915px)"></div>
<div class="hm" style="left:100px;top:1054px;width:916px;height:1px;background:linear-gradient(90deg,#040315 0px,#110a2f 285px,#130a33 539px,#0a0723 792px,#040315 915px)"></div>
<div class="hm" style="left:100px;top:1055px;width:916px;height:1px;background:linear-gradient(90deg,#060419 0px,#130b33 260px,#160b3a 504px,#0f092b 759px,#060419 915px)"></div>
<div class="hm" style="left:100px;top:1056px;width:916px;height:1px;background:linear-gradient(90deg,#07051d 0px,#160b39 255px,#1b0c41 489px,#130b34 729px,#07051d 915px)"></div>
<div class="hm" style="left:100px;top:1057px;width:916px;height:1px;background:linear-gradient(90deg,#0a0722 0px,#1b0c41 262px,#200c48 489px,#180c3c 716px,#0a0722 915px)"></div>
<div class="hm" style="left:100px;top:1058px;width:916px;height:1px;background:linear-gradient(90deg,#0d0828 0px,#200c49 251px,#260c51 475px,#1e0c46 696px,#0d0828 915px)"></div>
<div class="hm" style="left:100px;top:1059px;width:916px;height:1px;background:linear-gradient(90deg,#100a2f 0px,#240c4f 222px,#2d0b59 448px,#260c50 677px,#130b34 888px,#110a2f 915px)"></div>
<div class="hm" style="left:100px;top:1060px;width:916px;height:1px;background:linear-gradient(90deg,#150b37 0px,#290b55 189px,#360961 407px,#300a5c 639px,#1f0c47 829px,#150b37 915px)"></div>
<div class="hm" style="left:100px;top:1061px;width:916px;height:1px;background:linear-gradient(90deg,#1b0c41 0px,#300a5c 167px,#400a67 390px,#3c0965 617px,#2a0b56 799px,#1b0c41 915px)"></div>
<div class="hm" style="left:100px;top:1062px;width:916px;height:1px;background:linear-gradient(90deg,#220c4c 0px,#380962 139px,#4a0c6b 352px,#4a0c6b 580px,#360961 791px,#220c4c 915px)"></div>
<div class="hm" style="left:100px;top:1063px;width:916px;height:1px;background:linear-gradient(90deg,#2d0b58 0px,#430a68 127px,#56106d 341px,#57106d 565px,#440a69 781px,#2e0a59 911px,#2d0b59 915px)"></div>
<div class="hm" style="left:100px;top:1064px;width:916px;height:1px;background:linear-gradient(90deg,#3a0964 0px,#57106e 176px,#67166e 390px,#64156e 607px,#4c0c6b 821px,#3b0964 915px)"></div>
<div class="hm" style="left:100px;top:1065px;width:916px;height:1px;background:linear-gradient(90deg,#4a0c6b 0px,#6b176e 193px,#791c6d 403px,#741b6e 619px,#5d126e 819px,#4a0c6b 915px)"></div>
<div class="hm" style="left:100px;top:1066px;width:916px;height:1px;background:linear-gradient(90deg,#5e126e 0px,#7d1e6d 178px,#8c2369 390px,#88226a 611px,#721a6e 811px,#5e126e 915px)"></div>
<div class="hm" style="left:100px;top:1067px;width:916px;height:1px;background:linear-gradient(90deg,#751b6e 0px,#932667 189px,#a22b62 405px,#9d2964 625px,#85216b 832px,#751b6e 915px)"></div>
<div class="hm" style="left:100px;top:1068px;width:916px;height:1px;background:linear-gradient(90deg,#8f2468 0px,#af315b 193px,#be3853 403px,#b93656 619px,#a12b62 824px,#8f2468 915px)"></div>
<div class="hm" style="left:100px;top:1069px;width:916px;height:1px;background:linear-gradient(90deg,#b73557 0px,#d84c3e 185px,#e55c30 392px,#e35833 597px,#d04545 784px,#b73557 915px)"></div>
<div class="hm" style="left:100px;top:1070px;width:916px;height:2px;background:linear-gradient(90deg,#e9622b 0px,#f67e14 252px,#f8850f 491px,#f47819 732px,#e9622b 915px)"></div>
<div class="hm" style="left:100px;top:1072px;width:916px;height:1px;background:linear-gradient(90deg,#b73557 0px,#d84c3e 185px,#e55c30 392px,#e35833 597px,#d04545 784px,#b73557 915px)"></div>
<div class="hm" style="left:100px;top:1073px;width:916px;height:1px;background:linear-gradient(90deg,#8f2468 0px,#af315b 193px,#be3853 403px,#b93656 619px,#a12b62 824px,#8f2468 915px)"></div>
<div class="hm" style="left:100px;top:1074px;width:916px;height:1px;background:linear-gradient(90deg,#751b6e 0px,#932667 189px,#a22b62 405px,#9d2964 625px,#85216b 832px,#751b6e 915px)"></div>
<div class="hm" style="left:100px;top:1075px;width:916px;height:1px;background:linear-gradient(90deg,#5e126e 0px,#7d1e6d 178px,#8c2369 390px,#88226a 611px,#721a6e 811px,#5e126e 915px)"></div>
<div class="hm" style="left:100px;top:1076px;width:916px;height:1px;background:linear-gradient(90deg,#4a0c6b 0px,#6b176e 193px,#791c6d 403px,#741b6e 619px,#5d126e 819px,#4a0c6b 915px)"></div>
<div class="hm" style="left:100px;top:1077px;width:916px;height:1px;background:linear-gradient(90deg,#3a0964 0px,#57106e 176px,#67166e 390px,#64156e 607px,#4c0c6b 821px,#3b0964 915px)"></div>
<div class="hm" style="left:100px;top:1078px;width:916px;height:1px;background:linear-gradient(90deg,#2d0b58 0px,#430a68 127px,#56106d 341px,#57106d 565px,#440a69 781px,#2e0a59 911px,#2d0b59 915px)"></div>
<div class="hm" style="left:100px;top:1079px;width:916px;height:1px;background:linear-gradient(90deg,#220c4c 0px,#380962 139px,#4a0c6b 352px,#4a0c6b 580px,#360961 791px,#220c4c 915px)"></div>
<div class="hm" style="left:100px;top:1080px;width:916px;height:1px;background:linear-gradient(90deg,#1b0c41 0px,#300a5c 167px,#400a67 390px,#3c0965 617px,#2a0b56 799px,#1b0c41 915px)"></div>
<div class="hm" style="left:100px;top:1081px;width:916px;height:1px;background:linear-gradient(90deg,#150b37 0px,#290b55 189px,#360961 407px,#300a5c 639px,#1f0c47 829px,#150b37 915px)"></div>
<div class="hm" style="left:100px;top:1082px;width:916px;height:1px;background:linear-gradient(90deg,#100a2f 0px,#240c4f 222px,#2d0b59 448px,#260c50 677px,#130b34 888px,#110a2f 915px)"></div>
<div class="hm" style="left:100px;top:1083px;width:916px;height:1px;background:linear-gradient(90deg,#0d0828 0px,#200c49 251px,#260c51 475px,#1e0c46 696px,#0d0828 915px)"></div>
<div class="hm" style="left:100px;top:1084px;width:916px;height:1px;background:linear-gradient(90deg,#0a0722 0px,#1b0c41 262px,#200c48 489px,#180c3c 716px,#0a0722 915px)"></div>
<div class="hm" style="left:100px;top:1085px;width:916px;height:1px;background:linear-gradient(90deg,#07051d 0px,#160b39 255px,#1b0c41 489px,#130b34 729px,#07051d 915px)"></div>
<div class="hm" style="left:100px;top:1086px;width:916px;height:1px;background:linear-gradient(90deg,#060419 0px,#130b33 260px,#160b3a 504px,#0f092b 759px,#060419 915px)"></div>
<div class="hm" style="left:100px;top:1087px;width:916px;height:1px;background:linear-gradient(90deg,#040315 0px,#110a2f 285px,#130a33 539px,#0a0723 792px,#040315 915px)"></div>
<div class="hm" style="left:100px;top:1088px;width:916px;height:1px;background:linear-gradient(90deg,#040312 0px,#0f092c 320px,#0f092d 578px,#050418 857px,#040312 915px)"></div>
<div class="hm" style="left:100px;top:1089px;width:916px;height:1px;background:linear-gradient(90deg,#030210 0px,#0d0828 355px,#0c0826 617px,#030210 915px)"></div>
<div class="hm" style="left:100px;top:1090px;width:916px;height:1px;background:linear-gradient(90deg,#03020f 0px,#0b0725 382px,#090620 651px,#03020f 915px)"></div>
<div class="hm" style="left:100px;top:1091px;width:916px;height:1px;background:linear-gradient(90deg,#02020d 0px,#090621 404px,#06051b 686px,#02020d 915px)"></div>
<div class="hm" style="left:100px;top:1092px;width:916px;height:1px;background:linear-gradient(90deg,#02010b 0px,#08051d 420px,#050415 731px,#02010b 915px)"></div>
<div class="hm" style="left:100px;top:1093px;width:916px;height:1px;background:linear-gradient(90deg,#02010a 0px,#06051a 428px,#030210 798px,#02010a 915px)"></div>
<div class="hm" style="left:100px;top:1094px;width:916px;height:1px;background:linear-gradient(90deg,#010109 0px,#050417 416px,#03020f 803px,#010109 915px)"></div>
<div class="hm" style="left:100px;top:1095px;width:916px;height:1px;background:linear-gradient(90deg,#010108 0px,#040315 417px,#02020d 804px,#010108 915px)"></div>
<div class="hm" style="left:100px;top:1096px;width:916px;height:1px;background:linear-gradient(90deg,#010107 0px,#040313 439px,#02010a 837px,#010107 915px)"></div>
<div class="hm" style="left:100px;top:1097px;width:916px;height:1px;background:linear-gradient(90deg,#010106 0px,#030312 462px,#010107 915px)"></div>
<div class="hm" style="left:100px;top:1098px;width:916px;height:1px;background:linear-gradient(90deg,#010106 0px,#030210 487px,#010106 915px)"></div>
<div class="hm" style="left:100px;top:1099px;width:916px;height:1px;background:linear-gradient(90deg,#010106 0px,#03020f 514px,#010106 915px)"></div>
<div class="hm" style="left:100px;top:1100px;width:916px;height:1px;background:linear-gradient(90deg,#010006 0px,#02020d 540px,#010006 915px)"></div>
<div class="hm" style="left:100px;top:1101px;width:916px;height:1px;background:linear-gradient(90deg,#010005 0px,#02020c 564px,#010005 915px)"></div>
<div class="hm" style="left:100px;top:1102px;width:916px;height:1px;background:linear-gradient(90deg,#010005 0px,#02010b 587px,#010005 915px)"></div>
<div class="hm" style="left:100px;top:1103px;width:916px;height:1px;background:linear-gradient(90deg,#010005 0px,#010109 612px,#010005 915px)"></div>
<div class="hm" style="left:100px;top:1104px;width:916px;height:1px;background:linear-gradient(90deg,#010005 0px,#010108 639px,#010005 915px)"></div>
<div class="hm" style="left:100px;top:1105px;width:916px;height:1px;background:linear-gradient(90deg,#010005 0px,#010107 672px,#010005 915px)"></div>
<div class="hm" style="left:100px;top:1106px;width:916px;height:1px;background:linear-gradient(90deg,#010004 0px,#010106 720px,#010004 915px)"></div>
<div class="hm" style="left:100px;top:1107px;width:916px;height:1px;background:linear-gradient(90deg,#010004 0px,#010006 788px,#010004 915px)"></div>
<div class="hm" style="left:100px;top:1108px;width:916px;height:1px;background:linear-gradient(90deg,#000004 0px,#010005 844px,#000004 915px)"></div>
<div class="hm" style="left:100px;top:1109px;width:916px;height:1px;background:linear-gradient(90deg,#000004 0px,#000004 900px,#000004 915px)"></div>
<div class="hm" style="left:100px;top:1110px;width:916px;height:30px;background:linear-gradient(90deg,#000004 0px,#000004 915px)"></div>
<div class="hm" style="left:100px;top:1224px;width:916px;height:1px;background:linear-gradient(90deg,#040314 0px,#0a0722 305px,#0e092a 479px,#050417 815px,#040314 915px)"></div>
<div class="hm" style="left:100px;top:1225px;width:916px;height:1px;background:linear-gradient(90deg,#040314 0px,#090620 243px,#100a2e 458px,#090620 674px,#040314 915px)"></div>
<div class="hm" style="left:100px;top:1226px;width:916px;height:1px;background:linear-gradient(90deg,#040314 0px,#08061e 195px,#120a32 445px,#0d0829 613px,#050417 821px,#040314 915px)"></div>
<div class="hm" style="left:100px;top:1227px;width:916px;height:1px;background:linear-gradient(90deg,#040314 0px,#07051d 156px,#140b36 437px,#100a2f 586px,#050416 851px,#040314 915px)"></div>
<div class="hm" style="left:100px;top:1228px;width:916px;height:1px;background:linear-gradient(90deg,#040314 0px,#07051b 122px,#170b3a 431px,#130b34 572px,#040415 875px,#040314 915px)"></div>
<div class="hm" style="left:100px;top:1229px;width:916px;height:1px;background:linear-gradient(90deg,#040314 0px,#07051c 105px,#190c3e 428px,#160b39 564px,#040315 898px,#040314 915px)"></div>
<div class="hm" style="left:100px;top:1230px;width:916px;height:1px;background:linear-gradient(90deg,#040314 0px,#1c0c42 430px,#180c3d 563px,#040314 915px)"></div>
<div class="hm" style="left:100px;top:1231px;width:916px;height:1px;background:linear-gradient(90deg,#050415 0px,#1e0c46 423px,#1b0c42 553px,#050415 915px)"></div>
<div class="hm" style="left:100px;top:1232px;width:916px;height:1px;background:linear-gradient(90deg,#050418 0px,#210c4a 420px,#1e0c46 547px,#050418 915px)"></div>
<div class="hm" style="left:100px;top:1233px;width:916px;height:1px;background:linear-gradient(90deg,#06051a 0px,#230c4d 404px,#220c4c 530px,#06051a 915px)"></div>
<div class="hm" style="left:100px;top:1234px;width:916px;height:1px;background:linear-gradient(90deg,#07051c 0px,#250c4f 379px,#270c52 506px,#0f092b 799px,#07051c 915px)"></div>
<div class="hm" style="left:100px;top:1235px;width:916px;height:1px;background:linear-gradient(90deg,#08061f 0px,#260c51 358px,#2a0b56 489px,#1b0c41 678px,#08061f 915px)"></div>
<div class="hm" style="left:100px;top:1236px;width:916px;height:1px;background:linear-gradient(90deg,#090621 0px,#270b52 340px,#2e0a5a 473px,#220c4b 632px,#090621 915px)"></div>
<div class="hm" style="left:100px;top:1237px;width:916px;height:1px;background:linear-gradient(90deg,#0b0724 0px,#290b54 326px,#310a5d 465px,#260c51 616px,#0b0724 915px)"></div>
<div class="hm" style="left:100px;top:1238px;width:916px;height:1px;background:linear-gradient(90deg,#0c0826 0px,#2a0b56 314px,#350a60 460px,#290b55 610px,#0c0826 915px)"></div>
<div class="hm" style="left:100px;top:1239px;width:916px;height:1px;background:linear-gradient(90deg,#0d0829 0px,#2c0b58 305px,#380962 459px,#2c0b58 614px,#0d0829 915px)"></div>
<div class="hm" style="left:100px;top:1240px;width:916px;height:1px;background:linear-gradient(90deg,#0f092b 0px,#2f0a5a 300px,#3c0964 455px,#310a5c 600px,#140b35 848px,#0f092c 915px)"></div>
<div class="hm" style="left:100px;top:1241px;width:916px;height:1px;background:linear-gradient(90deg,#100a2e 0px,#320a5e 304px,#3f0a66 455px,#340a5f 596px,#1a0c40 803px,#100a2e 915px)"></div>
<div class="hm" style="left:100px;top:1242px;width:916px;height:1px;background:linear-gradient(90deg,#120a31 0px,#340a5f 293px,#430a68 450px,#390963 582px,#210c4b 765px,#120a31 915px)"></div>
<div class="hm" style="left:100px;top:1243px;width:916px;height:1px;background:linear-gradient(90deg,#130b34 0px,#330a5f 261px,#460b69 441px,#3f0966 566px,#270b52 743px,#130b34 915px)"></div>
<div class="hm" style="left:100px;top:1244px;width:916px;height:1px;background:linear-gradient(90deg,#150b37 0px,#330a5f 239px,#4a0c6b 433px,#440a68 555px,#2b0b57 733px,#150b37 915px)"></div>
<div class="hm" style="left:100px;top:1245px;width:916px;height:1px;background:linear-gradient(90deg,#160b3a 0px,#350a60 225px,#4d0c6c 425px,#490b6a 544px,#2f0a5b 728px,#160b3a 915px)"></div>
<div class="hm" style="left:100px;top:1246px;width:916px;height:1px;background:linear-gradient(90deg,#180c3d 0px,#360961 216px,#510e6c 423px,#4d0c6c 539px,#320a5d 729px,#180c3d 915px)"></div>
<div class="hm" style="left:100px;top:1247px;width:916px;height:1px;background:linear-gradient(90deg,#1a0c40 0px,#390963 213px,#550f6d 427px,#500e6c 542px,#340a5f 736px,#1a0c40 915px)"></div>
<div class="hm" style="left:100px;top:1248px;width:916px;height:1px;background:linear-gradient(90deg,#1c0c43 0px,#3c0964 207px,#59116e 426px,#550f6d 539px,#370961 740px,#1c0c43 915px)"></div>
<div class="hm" style="left:100px;top:1249px;width:916px;height:1px;background:linear-gradient(90deg,#1f0c47 0px,#3e0965 198px,#5d126e 424px,#59116e 535px,#390963 744px,#1f0c47 915px)"></div>
<div class="hm" style="left:100px;top:1250px;width:916px;height:1px;background:linear-gradient(90deg,#210c4a 0px,#400a67 191px,#61146e 423px,#5d126e 532px,#3b0964 749px,#210c4a 915px)"></div>
<div class="hm" style="left:100px;top:1251px;width:916px;height:1px;background:linear-gradient(90deg,#230c4d 0px,#420a68 186px,#65156e 422px,#62146e 529px,#3e0966 755px,#230c4e 915px)"></div>
<div class="hm" style="left:100px;top:1252px;width:916px;height:1px;background:linear-gradient(90deg,#260c51 0px,#450a69 182px,#69176e 421px,#66166e 526px,#400a67 760px,#260c51 915px)"></div>
<div class="hm" style="left:100px;top:1253px;width:916px;height:1px;background:linear-gradient(90deg,#290b54 0px,#480b6a 181px,#6e186e 421px,#6b176e 525px,#430a68 765px,#290b54 915px)"></div>
<div class="hm" style="left:100px;top:1254px;width:916px;height:1px;background:linear-gradient(90deg,#2c0b57 0px,#4c0c6b 182px,#721a6e 420px,#70196e 522px,#450a69 770px,#2c0b57 915px)"></div>
<div class="hm" style="left:100px;top:1255px;width:916px;height:1px;background:linear-gradient(90deg,#2f0a5a 0px,#500d6c 184px,#771c6d 420px,#751b6e 520px,#480b6a 774px,#2f0a5a 915px)"></div>
<div class="hm" style="left:100px;top:1256px;width:916px;height:1px;background:linear-gradient(90deg,#320a5d 0px,#530f6d 183px,#7c1d6d 419px,#7a1d6d 517px,#4b0c6b 776px,#320a5d 915px)"></div>
<div class="hm" style="left:100px;top:1257px;width:916px;height:1px;background:linear-gradient(90deg,#350a60 0px,#57106e 185px,#811f6c 419px,#7f1f6c 515px,#4e0d6c 778px,#350a60 915px)"></div>
<div class="hm" style="left:100px;top:1258px;width:916px;height:1px;background:linear-gradient(90deg,#380962 0px,#56106d 159px,#86216b 416px,#85216b 511px,#520e6d 777px,#380962 915px)"></div>
<div class="hm" style="left:100px;top:1259px;width:916px;height:1px;background:linear-gradient(90deg,#3b0964 0px,#560f6d 140px,#8b2369 414px,#8b236a 507px,#560f6d 776px,#3b0964 915px)"></div>
<div class="hm" style="left:100px;top:1260px;width:916px;height:1px;background:linear-gradient(90deg,#3e0966 0px,#58106e 132px,#8e2469 389px,#922567 482px,#7f1f6c 602px,#4e0d6c 830px,#3f0966 915px)"></div>
<div class="hm" style="left:100px;top:1261px;width:916px;height:1px;background:linear-gradient(90deg,#420a68 0px,#5b116e 127px,#912568 377px,#982865 470px,#8b236a 569px,#57106d 808px,#420a68 915px)"></div>
<div class="hm" style="left:100px;top:1262px;width:916px;height:1px;background:linear-gradient(90deg,#460b69 0px,#5e126e 121px,#942667 364px,#9e2a63 457px,#942667 550px,#5e126e 794px,#460b69 915px)"></div>
<div class="hm" style="left:100px;top:1263px;width:916px;height:1px;background:linear-gradient(90deg,#490b6b 0px,#60136e 115px,#972766 353px,#a32c61 448px,#9b2964 539px,#64156e 785px,#4a0c6b 911px,#490b6b 915px)"></div>
<div class="hm" style="left:100px;top:1264px;width:916px;height:1px;background:linear-gradient(90deg,#4d0c6c 0px,#63146e 110px,#992865 344px,#a82e5f 441px,#a12b62 532px,#6a176e 777px,#4e0d6c 909px,#4d0d6c 915px)"></div>
<div class="hm" style="left:100px;top:1265px;width:916px;height:1px;background:linear-gradient(90deg,#510e6c 0px,#65156e 104px,#9c2964 334px,#ac305d 435px,#a82e5f 524px,#70196e 770px,#520e6d 906px,#510e6c 915px)"></div>
<div class="hm" style="left:100px;top:1266px;width:916px;height:1px;background:linear-gradient(90deg,#540f6d 0px,#68166e 99px,#9e2a63 325px,#b1325a 431px,#ad305c 519px,#751b6e 764px,#560f6d 903px,#540f6d 915px)"></div>
<div class="hm" style="left:100px;top:1267px;width:916px;height:1px;background:linear-gradient(90deg,#58106e 0px,#6b176e 96px,#a12b62 317px,#b63458 428px,#b33359 515px,#791d6d 761px,#59116e 901px,#58106e 915px)"></div>
<div class="hm" style="left:100px;top:1268px;width:916px;height:1px;background:linear-gradient(90deg,#5b116e 0px,#6d186e 92px,#a42c61 309px,#ba3655 426px,#b83556 512px,#7e1e6c 758px,#5d126e 899px,#5b116e 915px)"></div>
<div class="hm" style="left:100px;top:1269px;width:916px;height:1px;background:linear-gradient(90deg,#5e126e 0px,#70196e 90px,#a62d60 302px,#bf3952 424px,#bd3853 510px,#82206c 757px,#60136e 898px,#5e136e 915px)"></div>
<div class="hm" style="left:100px;top:1270px;width:916px;height:1px;background:linear-gradient(90deg,#61146e 0px,#731a6e 88px,#a92e5e 296px,#c33c4f 422px,#c23b50 508px,#8c2369 734px,#64156e 896px,#61146e 915px)"></div>
<div class="hm" style="left:100px;top:1271px;width:916px;height:1px;background:linear-gradient(90deg,#65156e 0px,#761b6e 86px,#ac305d 290px,#c83e4c 419px,#c73e4d 505px,#9e2a63 682px,#69176e 882px,#65156e 915px)"></div>
<div class="hm" style="left:100px;top:1272px;width:916px;height:1px;background:linear-gradient(90deg,#68166e 0px,#791d6d 85px,#b0315b 286px,#cc4249 418px,#cb4149 504px,#a72d60 665px,#70196e 863px,#68166e 915px)"></div>
<div class="hm" style="left:100px;top:1273px;width:916px;height:1px;background:linear-gradient(90deg,#6b176e 0px,#7c1e6d 83px,#b33359 281px,#d04545 416px,#d04545 503px,#ae305c 652px,#771c6d 849px,#6b176e 915px)"></div>
<div class="hm" style="left:100px;top:1274px;width:916px;height:1px;background:linear-gradient(90deg,#6f196e 0px,#801f6c 82px,#b63457 277px,#d44842 414px,#d44842 502px,#b53458 642px,#7f1e6c 837px,#6f196e 915px)"></div>
<div class="hm" style="left:100px;top:1275px;width:916px;height:1px;background:linear-gradient(90deg,#721a6e 0px,#83206b 81px,#ba3655 274px,#d84c3e 412px,#d94d3e 500px,#bd3853 629px,#87216b 823px,#731a6e 905px,#721a6e 915px)"></div>
<div class="hm" style="left:100px;top:1276px;width:916px;height:1px;background:linear-gradient(90deg,#761b6e 0px,#86216b 80px,#bd3853 271px,#dc503a 411px,#dd5139 495px,#c63d4d 611px,#8f2469 808px,#781c6d 898px,#761b6e 915px)"></div>
<div class="hm" style="left:100px;top:1277px;width:916px;height:1px;background:linear-gradient(90deg,#791c6d 0px,#8a226a 79px,#c13a51 269px,#e05536 409px,#e15635 490px,#ce4347 597px,#962766 798px,#7c1d6d 895px,#791c6d 915px)"></div>
<div class="hm" style="left:100px;top:1278px;width:916px;height:1px;background:linear-gradient(90deg,#7d1e6d 0px,#8d2469 78px,#c53d4e 266px,#e35932 407px,#e55c30 486px,#d44842 588px,#9d2964 787px,#801f6c 893px,#7d1e6d 915px)"></div>
<div class="hm" style="left:100px;top:1279px;width:916px;height:1px;background:linear-gradient(90deg,#801f6c 0px,#912568 77px,#c93f4b 264px,#e75e2e 405px,#e9622b 482px,#da4e3c 582px,#a92e5f 763px,#84206b 891px,#801f6c 915px)"></div>
<div class="hm" style="left:100px;top:1280px;width:916px;height:1px;background:linear-gradient(90deg,#84206b 0px,#952667 76px,#ce4347 264px,#ea6429 403px,#ed6826 479px,#e25734 566px,#b73457 733px,#88226a 890px,#84206b 915px)"></div>
<div class="hm" style="left:100px;top:1281px;width:916px;height:1px;background:linear-gradient(90deg,#88226a 0px,#992865 76px,#d34743 267px,#ee6a24 403px,#f06f20 477px,#e75f2d 557px,#bf3952 719px,#8e2469 881px,#88226a 915px)"></div>
<div class="hm" style="left:100px;top:1282px;width:916px;height:1px;background:linear-gradient(90deg,#8c2369 0px,#9d2964 75px,#d54941 259px,#f06f20 399px,#f3751b 473px,#ec6726 546px,#c83e4c 706px,#932667 875px,#8c2369 915px)"></div>
<div class="hm" style="left:100px;top:1283px;width:916px;height:1px;background:linear-gradient(90deg,#902568 0px,#a12b62 75px,#d74b3f 252px,#f2741c 395px,#f57c16 469px,#f06f20 539px,#d04545 690px,#982865 869px,#902568 915px)"></div>
<div class="hm" style="left:100px;top:1284px;width:916px;height:1px;background:linear-gradient(90deg,#942667 0px,#a42c61 74px,#d94d3e 247px,#f37819 391px,#f68112 464px,#f2751c 534px,#d54a40 681px,#9e2a63 860px,#942667 915px)"></div>
<div class="hm" style="left:100px;top:1285px;width:916px;height:1px;background:linear-gradient(90deg,#972766 0px,#a72d5f 74px,#da4e3c 243px,#f47a17 387px,#f8850f 458px,#f47a17 529px,#da4e3c 673px,#a72d5f 842px,#972766 915px)"></div>
<div class="hm" style="left:100px;top:1286px;width:916px;height:1px;background:linear-gradient(90deg,#992865 0px,#a92e5e 73px,#db4f3b 239px,#f57c16 382px,#f8890c 449px,#f68013 521px,#df5437 660px,#b2325a 817px,#9c2964 894px,#992865 915px)"></div>
<div class="hm" style="left:100px;top:1287px;width:916px;height:1px;background:linear-gradient(90deg,#9c2964 0px,#ac2f5d 73px,#dd513a 236px,#f67f14 378px,#f98c0a 443px,#f8860e 512px,#e55b31 644px,#bb3754 796px,#9f2a63 891px,#9c2964 915px)"></div>
<div class="hm" style="left:100px;top:1288px;width:916px;height:1px;background:linear-gradient(90deg,#9e2a63 0px,#ae305c 73px,#de5239 233px,#f68112 374px,#fa8f08 438px,#f98c0a 503px,#e9622b 630px,#c33b4f 779px,#a12b62 890px,#9e2a63 915px)"></div>
<div class="hm" style="left:100px;top:1289px;width:916px;height:1px;background:linear-gradient(90deg,#a02a63 0px,#b0315b 73px,#df5337 231px,#f78311 371px,#fa9207 435px,#fa9008 496px,#f2751b 582px,#d44842 728px,#a52c60 881px,#a02a63 915px)"></div>
<div class="hm" style="left:100px;top:1290px;width:916px;height:1px;background:linear-gradient(90deg,#a12b62 0px,#b1325a 73px,#e05436 229px,#f7850f 369px,#fb9506 433px,#fa9307 492px,#f68013 560px,#dc503a 702px,#ab2f5d 861px,#a12b62 915px)"></div>
<div class="hm" style="left:100px;top:1291px;width:916px;height:1px;background:linear-gradient(90deg,#a32b61 0px,#b3325a 73px,#e15635 228px,#f8860e 367px,#fb9706 430px,#fb9606 488px,#f8850f 551px,#e05536 691px,#b1325a 847px,#a32b61 915px)"></div>
<div class="hm" style="left:100px;top:1292px;width:916px;height:1px;background:linear-gradient(90deg,#a42c61 0px,#b43359 73px,#e15635 227px,#f8870e 366px,#fb9806 428px,#fb9806 485px,#f8880d 547px,#e25734 685px,#b63458 837px,#a52c61 906px,#a42c61 915px)"></div>
<div class="hm" style="left:100px;top:1293px;width:916px;height:1px;background:linear-gradient(90deg,#a32c61 0px,#b33359 73px,#e15635 227px,#f8860e 366px,#fb9706 428px,#fb9706 486px,#f8870e 549px,#e15635 688px,#b33359 842px,#a32c61 914px,#a32c61 915px)"></div>
<div class="hm" style="left:100px;top:1294px;width:916px;height:1px;background:linear-gradient(90deg,#a22b62 0px,#b2325a 73px,#e05536 228px,#f7850f 367px,#fb9506 431px,#fb9506 489px,#f78310 553px,#df5337 693px,#af315c 851px,#a22b62 915px)"></div>
<div class="hm" style="left:100px;top:1295px;width:916px;height:1px;background:linear-gradient(90deg,#a02b62 0px,#b0315b 73px,#df5437 230px,#f78310 370px,#fa9307 434px,#fa9207 494px,#f47b17 570px,#d84c3e 714px,#a82e5f 871px,#a02b62 915px)"></div>
<div class="hm" style="left:100px;top:1296px;width:916px;height:1px;background:linear-gradient(90deg,#9f2a63 0px,#af315c 73px,#de5338 232px,#f78212 373px,#fa9108 437px,#f98e09 500px,#eb6529 625px,#c53d4e 774px,#a22b62 890px,#9f2a63 915px)"></div>
<div class="hm" style="left:100px;top:1297px;width:916px;height:1px;background:linear-gradient(90deg,#9c2964 0px,#ad305d 73px,#dd5139 235px,#f67f13 376px,#f98d09 440px,#f8890c 507px,#e75f2e 636px,#bf3952 786px,#a02a63 890px,#9d2964 915px)"></div>
<div class="hm" style="left:100px;top:1298px;width:916px;height:1px;background:linear-gradient(90deg,#9a2865 0px,#aa2f5e 73px,#dc503b 237px,#f57d15 380px,#f98a0b 446px,#f78310 516px,#e25834 651px,#b73557 805px,#9d2964 892px,#9a2865 915px)"></div>
<div class="hm" style="left:100px;top:1299px;width:916px;height:1px;background:linear-gradient(90deg,#982766 0px,#a82e5f 74px,#da4e3c 241px,#f57b17 384px,#f8870e 453px,#f57d15 525px,#dc513a 667px,#ad305d 829px,#9a2865 899px,#982766 915px)"></div>
<div class="hm" style="left:100px;top:1300px;width:916px;height:1px;background:linear-gradient(90deg,#952667 0px,#a62d60 74px,#d94d3d 245px,#f47919 389px,#f78311 462px,#f3771a 532px,#d74b3f 678px,#a12b62 855px,#952667 915px)"></div>
<div class="hm" style="left:100px;top:1301px;width:916px;height:1px;background:linear-gradient(90deg,#922568 0px,#a22b62 74px,#d84c3e 250px,#f3751b 393px,#f57e15 467px,#f1711e 536px,#d34743 685px,#9a2865 867px,#922568 915px)"></div>
<div class="hm" style="left:100px;top:1302px;width:916px;height:1px;background:linear-gradient(90deg,#8e2469 0px,#9f2a63 75px,#d64a40 256px,#f1711e 397px,#f47819 471px,#ee6b24 542px,#cc4149 697px,#962766 871px,#8e2469 915px)"></div>
<div class="hm" style="left:100px;top:1303px;width:916px;height:1px;background:linear-gradient(90deg,#8a226a 0px,#9b2965 76px,#d44842 264px,#ef6c22 402px,#f1711e 476px,#e9622b 553px,#c23b50 715px,#902468 879px,#8a226a 915px)"></div>
<div class="hm" style="left:100px;top:1304px;width:916px;height:1px;background:linear-gradient(90deg,#86216b 0px,#972766 76px,#d04446 265px,#ec6627 403px,#ee6b24 478px,#e45a31 562px,#bb3655 726px,#8a226a 886px,#86216b 915px)"></div>
<div class="hm" style="left:100px;top:1305px;width:916px;height:1px;background:linear-gradient(90deg,#821f6c 0px,#932567 77px,#cb414a 264px,#e8612c 404px,#eb6429 481px,#dd5139 577px,#ae305c 751px,#85216b 890px,#821f6c 915px)"></div>
<div class="hm" style="left:100px;top:1306px;width:916px;height:1px;background:linear-gradient(90deg,#7e1e6c 0px,#8f2469 78px,#c63e4d 265px,#e55b30 406px,#e75e2e 484px,#d74b3f 584px,#a32c61 774px,#811f6c 892px,#7e1e6c 915px)"></div>
<div class="hm" style="left:100px;top:1307px;width:916px;height:1px;background:linear-gradient(90deg,#7a1d6d 0px,#8b2369 79px,#c33b50 268px,#e15635 408px,#e35833 488px,#d14545 592px,#982766 795px,#7d1e6d 895px,#7a1d6d 915px)"></div>
<div class="hm" style="left:100px;top:1308px;width:916px;height:1px;background:linear-gradient(90deg,#771c6d 0px,#88226a 79px,#bf3952 269px,#de5239 410px,#df5338 493px,#c93f4b 606px,#922568 804px,#791c6d 897px,#771c6d 915px)"></div>
<div class="hm" style="left:100px;top:1309px;width:916px;height:1px;background:linear-gradient(90deg,#731a6e 0px,#84206b 80px,#bb3755 272px,#da4e3c 412px,#da4e3c 498px,#c13a51 621px,#8a226a 816px,#751b6e 901px,#741a6e 915px)"></div>
<div class="hm" style="left:100px;top:1310px;width:916px;height:1px;background:linear-gradient(90deg,#70196e 0px,#811f6c 82px,#b83557 276px,#d64a40 413px,#d64a40 502px,#b83557 640px,#811f6c 834px,#70196e 915px)"></div>
<div class="hm" style="left:100px;top:1311px;width:916px;height:1px;background:linear-gradient(90deg,#6d186e 0px,#7e1e6c 83px,#b43359 280px,#d24644 415px,#d24644 503px,#b1315b 650px,#7a1d6d 846px,#6d186e 915px)"></div>
<div class="hm" style="left:100px;top:1312px;width:916px;height:1px;background:linear-gradient(90deg,#69176e 0px,#7b1d6d 84px,#b1325a 284px,#ce4347 417px,#cd4248 504px,#a92e5f 662px,#731a6e 859px,#69176e 915px)"></div>
<div class="hm" style="left:100px;top:1313px;width:916px;height:1px;background:linear-gradient(90deg,#66156e 0px,#771c6d 85px,#ae305c 288px,#c9404b 419px,#c93f4b 505px,#a02b62 678px,#6c186e 877px,#66156e 915px)"></div>
<div class="hm" style="left:100px;top:1314px;width:916px;height:1px;background:linear-gradient(90deg,#63146e 0px,#741b6e 87px,#ab2f5e 294px,#c53d4e 421px,#c43c4f 507px,#932667 712px,#65156e 894px,#63146e 915px)"></div>
<div class="hm" style="left:100px;top:1315px;width:916px;height:1px;background:linear-gradient(90deg,#5f136e 0px,#711a6e 89px,#a82e5f 300px,#c03a51 423px,#bf3952 509px,#84206b 757px,#62146e 898px,#5f136e 915px)"></div>
<div class="hm" style="left:100px;top:1316px;width:916px;height:1px;background:linear-gradient(90deg,#5c126e 0px,#6e196e 91px,#a52c61 306px,#bc3754 425px,#ba3655 511px,#7f1f6c 758px,#5e136e 899px,#5c126e 915px)"></div>
<div class="hm" style="left:100px;top:1317px;width:916px;height:1px;background:linear-gradient(90deg,#59116e 0px,#6c186e 94px,#a22b62 313px,#b73557 427px,#b53458 514px,#7b1d6d 760px,#5b116e 900px,#59116e 915px)"></div>
<div class="hm" style="left:100px;top:1318px;width:916px;height:1px;background:linear-gradient(90deg,#560f6d 0px,#69176e 98px,#9f2a63 322px,#b33359 430px,#af315b 518px,#771c6d 763px,#57106e 902px,#560f6d 915px)"></div>
<div class="hm" style="left:100px;top:1319px;width:916px;height:1px;background:linear-gradient(90deg,#520e6d 0px,#66166e 102px,#9d2964 330px,#ae305c 433px,#aa2f5e 522px,#721a6e 767px,#530f6d 904px,#520e6d 915px)"></div>
<div class="hm" style="left:100px;top:1320px;width:916px;height:1px;background:linear-gradient(90deg,#4f0d6c 0px,#64156e 108px,#9a2865 340px,#aa2e5e 438px,#a42c61 528px,#6c186e 774px,#500d6c 907px,#4f0d6c 915px)"></div>
<div class="hm" style="left:100px;top:1321px;width:916px;height:1px;background:linear-gradient(90deg,#4b0c6b 0px,#62146e 113px,#982766 350px,#a52c60 445px,#9e2a63 536px,#66166e 782px,#4c0c6b 910px,#4b0c6b 915px)"></div>
<div class="hm" style="left:100px;top:1322px;width:916px;height:1px;background:linear-gradient(90deg,#470b6a 0px,#5f136e 118px,#952667 359px,#a02b62 453px,#972766 544px,#61146e 789px,#470b6a 913px,#470b6a 915px)"></div>
<div class="hm" style="left:100px;top:1323px;width:916px;height:1px;background:linear-gradient(90deg,#430a68 0px,#5c126e 124px,#922568 371px,#9b2865 463px,#8f2468 558px,#5a116e 800px,#440a68 915px)"></div>
<div class="hm" style="left:100px;top:1324px;width:916px;height:1px;background:linear-gradient(90deg,#400a67 0px,#59116e 130px,#8f2468 384px,#952667 477px,#85216b 584px,#520e6d 819px,#400a67 915px)"></div>
<div class="hm" style="left:100px;top:1325px;width:916px;height:1px;background:linear-gradient(90deg,#3c0965 0px,#57106d 136px,#8c2369 399px,#8e2469 492px,#70196e 660px,#450a69 859px,#3d0965 915px)"></div>
<div class="hm" style="left:100px;top:1326px;width:916px;height:1px;background:linear-gradient(90deg,#390963 0px,#560f6d 150px,#88226a 415px,#87216a 509px,#530f6d 777px,#390963 915px)"></div>
<div class="hm" style="left:100px;top:1327px;width:916px;height:1px;background:linear-gradient(90deg,#360961 0px,#57106d 174px,#83206b 417px,#811f6c 513px,#500d6c 777px,#360961 915px)"></div>
<div class="hm" style="left:100px;top:1328px;width:916px;height:1px;background:linear-gradient(90deg,#330a5e 0px,#550f6d 183px,#7e1e6c 419px,#7c1d6d 516px,#4c0c6b 777px,#330a5e 915px)"></div>
<div class="hm" style="left:100px;top:1329px;width:916px;height:1px;background:linear-gradient(90deg,#300a5b 0px,#510e6d 185px,#791c6d 420px,#771c6d 519px,#490b6a 775px,#300a5b 915px)"></div>
<div class="hm" style="left:100px;top:1330px;width:916px;height:1px;background:linear-gradient(90deg,#2d0b59 0px,#4d0d6c 182px,#741b6e 420px,#721a6e 521px,#460b69 771px,#2d0b59 915px)"></div>
<div class="hm" style="left:100px;top:1331px;width:916px;height:1px;background:linear-gradient(90deg,#2a0b55 0px,#4a0b6b 181px,#6f196e 420px,#6d186e 523px,#440a68 767px,#2a0b55 915px)"></div>
<div class="hm" style="left:100px;top:1332px;width:916px;height:1px;background:linear-gradient(90deg,#270b52 0px,#460b69 182px,#6b176e 421px,#68166e 526px,#410a67 762px,#270b52 915px)"></div>
<div class="hm" style="left:100px;top:1333px;width:916px;height:1px;background:linear-gradient(90deg,#240c4f 0px,#430a68 184px,#67166e 422px,#64156e 528px,#3f0966 757px,#240c4f 915px)"></div>
<div class="hm" style="left:100px;top:1334px;width:916px;height:1px;background:linear-gradient(90deg,#220c4b 0px,#410a67 189px,#62146e 422px,#5f136e 530px,#3c0965 751px,#220c4b 915px)"></div>
<div class="hm" style="left:100px;top:1335px;width:916px;height:1px;background:linear-gradient(90deg,#1f0c48 0px,#3e0966 195px,#5e136e 423px,#5b116e 533px,#3a0963 746px,#200c48 915px)"></div>
<div class="hm" style="left:100px;top:1336px;width:916px;height:1px;background:linear-gradient(90deg,#1d0c45 0px,#3c0965 204px,#5a116e 425px,#56106d 537px,#370962 742px,#1d0c45 915px)"></div>
<div class="hm" style="left:100px;top:1337px;width:916px;height:1px;background:linear-gradient(90deg,#1b0c41 0px,#3b0964 213px,#56106d 427px,#520e6d 542px,#350a60 738px,#1b0c41 915px)"></div>
<div class="hm" style="left:100px;top:1338px;width:916px;height:1px;background:linear-gradient(90deg,#190c3e 0px,#370962 214px,#520e6d 425px,#4e0d6c 541px,#330a5e 732px,#190c3e 915px)"></div>
<div class="hm" style="left:100px;top:1339px;width:916px;height:1px;background:linear-gradient(90deg,#170c3b 0px,#350960 221px,#4f0d6c 424px,#4a0c6b 542px,#300a5c 728px,#170c3b 915px)"></div>
<div class="hm" style="left:100px;top:1340px;width:916px;height:1px;background:linear-gradient(90deg,#150b38 0px,#340a5f 233px,#4b0c6b 429px,#460b69 550px,#2d0b59 730px,#150b38 915px)"></div>
<div class="hm" style="left:100px;top:1341px;width:916px;height:1px;background:linear-gradient(90deg,#140b35 0px,#330a5f 252px,#480b6a 438px,#410a67 562px,#290b54 739px,#140b35 915px)"></div>
<div class="hm" style="left:100px;top:1342px;width:916px;height:1px;background:linear-gradient(90deg,#120a32 0px,#340a5f 282px,#440a69 447px,#3c0964 576px,#240c4e 755px,#120a32 915px)"></div>
<div class="hm" style="left:100px;top:1343px;width:916px;height:1px;background:linear-gradient(90deg,#110a2f 0px,#340a5f 303px,#410a67 454px,#360961 592px,#1d0c45 787px,#110a2f 915px)"></div>
<div class="hm" style="left:100px;top:1344px;width:916px;height:1px;background:linear-gradient(90deg,#0f092d 0px,#300a5c 300px,#3d0965 454px,#320a5e 595px,#170c3b 820px,#0f092d 915px)"></div>
<div class="hm" style="left:100px;top:1345px;width:916px;height:1px;background:linear-gradient(90deg,#0e092a 0px,#2d0b59 302px,#3a0963 457px,#2e0a59 609px,#0e092a 910px,#0e092a 915px)"></div>
<div class="hm" style="left:100px;top:1346px;width:916px;height:1px;background:linear-gradient(90deg,#0c0827 0px,#2b0b57 309px,#360961 459px,#2a0b56 611px,#0c0827 915px)"></div>
<div class="hm" style="left:100px;top:1347px;width:916px;height:1px;background:linear-gradient(90deg,#0b0725 0px,#290b55 320px,#330a5e 462px,#280b53 611px,#0b0725 915px)"></div>
<div class="hm" style="left:100px;top:1348px;width:916px;height:1px;background:linear-gradient(90deg,#0a0722 0px,#280b53 334px,#2f0a5b 469px,#230c4e 623px,#0a0722 915px)"></div>
<div class="hm" style="left:100px;top:1349px;width:916px;height:1px;background:linear-gradient(90deg,#090620 0px,#260c51 350px,#2c0b58 481px,#1e0c46 651px,#090620 915px)"></div>
<div class="hm" style="left:100px;top:1350px;width:916px;height:1px;background:linear-gradient(90deg,#07051d 0px,#250c50 370px,#280b53 498px,#150b37 732px,#08051d 915px)"></div>
<div class="hm" style="left:100px;top:1351px;width:916px;height:1px;background:linear-gradient(90deg,#06051b 0px,#240c4e 393px,#240c4e 519px,#07051c 904px,#07051b 915px)"></div>
<div class="hm" style="left:100px;top:1352px;width:916px;height:1px;background:linear-gradient(90deg,#060418 0px,#220c4c 419px,#1f0c48 546px,#060419 915px)"></div>
<div class="hm" style="left:100px;top:1353px;width:916px;height:1px;background:linear-gradient(90deg,#050416 0px,#1f0c48 422px,#1c0c43 551px,#050416 915px)"></div>
<div class="hm" style="left:100px;top:1354px;width:916px;height:1px;background:linear-gradient(90deg,#040314 0px,#1d0c44 426px,#1a0c3f 558px,#040314 915px)"></div>
<div class="hm" style="left:100px;top:1355px;width:916px;height:1px;background:linear-gradient(90deg,#040314 0px,#090620 132px,#1a0c40 429px,#170b3a 564px,#040315 907px,#040314 915px)"></div>
<div class="hm" style="left:100px;top:1356px;width:916px;height:1px;background:linear-gradient(90deg,#040314 0px,#07051b 111px,#180c3c 430px,#140b36 569px,#040315 884px,#040314 915px)"></div>
<div class="hm" style="left:100px;top:1357px;width:916px;height:1px;background:linear-gradient(90deg,#040314 0px,#07051c 142px,#150b38 434px,#120a31 579px,#050416 862px,#040314 915px)"></div>
<div class="hm" style="left:100px;top:1358px;width:916px;height:1px;background:linear-gradient(90deg,#040314 0px,#08061d 179px,#130b34 441px,#0f092b 599px,#050417 832px,#040314 915px)"></div>
<div class="hm" style="left:100px;top:1359px;width:916px;height:1px;background:linear-gradient(90deg,#040314 0px,#08061f 223px,#110a30 452px,#0b0724 643px,#050417 815px,#040314 915px)"></div>
<div class="hm" style="left:100px;top:1360px;width:916px;height:1px;background:linear-gradient(90deg,#040314 0px,#090621 277px,#0f092c 468px,#050417 814px,#040314 915px)"></div>
<div class="hm" style="left:100px;top:1361px;width:916px;height:1px;background:linear-gradient(90deg,#040314 0px,#0b0724 359px,#0c0827 518px,#050416 861px,#040314 915px)"></div>
<svg width="1500" height="1482" viewBox="0 0 1500 1482" style="position:absolute;left:0;top:0;font-family:'Liberation Sans',sans-serif"><rect x="102.35" y="45.65" width="912.90" height="35.70" fill="none" stroke="#000" stroke-width="2.70"/>
<line x1="102.40" y1="36.70" x2="102.40" y2="45.80" stroke="#000" stroke-width="2.50"/>
<text x="102.40" y="26.10" font-size="31.00" text-anchor="middle">0.0</text>
<line x1="285.12" y1="36.70" x2="285.12" y2="45.80" stroke="#000" stroke-width="2.50"/>
<text x="285.12" y="26.10" font-size="31.00" text-anchor="middle">0.2</text>
<line x1="467.84" y1="36.70" x2="467.84" y2="45.80" stroke="#000" stroke-width="2.50"/>
<text x="467.84" y="26.10" font-size="31.00" text-anchor="middle">0.4</text>
<line x1="650.56" y1="36.70" x2="650.56" y2="45.80" stroke="#000" stroke-width="2.50"/>
<text x="650.56" y="26.10" font-size="31.00" text-anchor="middle">0.6</text>
<line x1="833.28" y1="36.70" x2="833.28" y2="45.80" stroke="#000" stroke-width="2.50"/>
<text x="833.28" y="26.10" font-size="31.00" text-anchor="middle">0.8</text>
<line x1="1016.00" y1="36.70" x2="1016.00" y2="45.80" stroke="#000" stroke-width="2.50"/>
<text x="1016.00" y="26.10" font-size="31.00" text-anchor="middle">1.0</text>
<text x="1066.00" y="26.00" font-size="32.00">Normalized</text>
<text x="1057.00" y="65.00" font-size="32.00">Intensity /a.u.</text>
<rect x="99.30" y="111.30" width="915.80" height="137.40" fill="none" stroke="#000" stroke-width="2.70"/>
<line x1="88.80" y1="225.80" x2="99.30" y2="225.80" stroke="#000" stroke-width="2.50"/>
<text x="84.50" y="237.30" font-size="31.00" text-anchor="end">-10</text>
<line x1="88.80" y1="180.00" x2="99.30" y2="180.00" stroke="#000" stroke-width="2.50"/>
<text x="84.50" y="191.50" font-size="31.00" text-anchor="end">0</text>
<line x1="88.80" y1="134.20" x2="99.30" y2="134.20" stroke="#000" stroke-width="2.50"/>
<text x="84.50" y="145.70" font-size="31.00" text-anchor="end">10</text>
<line x1="99.30" y1="247.35" x2="99.30" y2="259.25" stroke="#000" stroke-width="2.50"/>
<line x1="213.78" y1="247.35" x2="213.78" y2="259.25" stroke="#000" stroke-width="2.50"/>
<line x1="328.25" y1="247.35" x2="328.25" y2="259.25" stroke="#000" stroke-width="2.50"/>
<line x1="442.73" y1="247.35" x2="442.73" y2="259.25" stroke="#000" stroke-width="2.50"/>
<line x1="557.20" y1="247.35" x2="557.20" y2="259.25" stroke="#000" stroke-width="2.50"/>
<line x1="671.67" y1="247.35" x2="671.67" y2="259.25" stroke="#000" stroke-width="2.50"/>
<line x1="786.15" y1="247.35" x2="786.15" y2="259.25" stroke="#000" stroke-width="2.50"/>
<line x1="900.62" y1="247.35" x2="900.62" y2="259.25" stroke="#000" stroke-width="2.50"/>
<line x1="1015.10" y1="247.35" x2="1015.10" y2="259.25" stroke="#000" stroke-width="2.50"/>
<text x="105.50" y="140.65" font-size="37.00" font-weight="bold" fill="#fff">i)</text>
<rect x="99.30" y="333.80" width="915.80" height="137.40" fill="none" stroke="#000" stroke-width="2.70"/>
<line x1="88.80" y1="448.30" x2="99.30" y2="448.30" stroke="#000" stroke-width="2.50"/>
<text x="84.50" y="459.80" font-size="31.00" text-anchor="end">-10</text>
<line x1="88.80" y1="402.50" x2="99.30" y2="402.50" stroke="#000" stroke-width="2.50"/>
<text x="84.50" y="414.00" font-size="31.00" text-anchor="end">0</text>
<line x1="88.80" y1="356.70" x2="99.30" y2="356.70" stroke="#000" stroke-width="2.50"/>
<text x="84.50" y="368.20" font-size="31.00" text-anchor="end">10</text>
<line x1="99.30" y1="469.85" x2="99.30" y2="481.75" stroke="#000" stroke-width="2.50"/>
<line x1="213.78" y1="469.85" x2="213.78" y2="481.75" stroke="#000" stroke-width="2.50"/>
<line x1="328.25" y1="469.85" x2="328.25" y2="481.75" stroke="#000" stroke-width="2.50"/>
<line x1="442.73" y1="469.85" x2="442.73" y2="481.75" stroke="#000" stroke-width="2.50"/>
<line x1="557.20" y1="469.85" x2="557.20" y2="481.75" stroke="#000" stroke-width="2.50"/>
<line x1="671.67" y1="469.85" x2="671.67" y2="481.75" stroke="#000" stroke-width="2.50"/>
<line x1="786.15" y1="469.85" x2="786.15" y2="481.75" stroke="#000" stroke-width="2.50"/>
<line x1="900.62" y1="469.85" x2="900.62" y2="481.75" stroke="#000" stroke-width="2.50"/>
<line x1="1015.10" y1="469.85" x2="1015.10" y2="481.75" stroke="#000" stroke-width="2.50"/>
<text x="105.50" y="363.15" font-size="37.00" font-weight="bold" fill="#fff">ii)</text>
<rect x="99.30" y="556.40" width="915.80" height="137.40" fill="none" stroke="#000" stroke-width="2.70"/>
<line x1="88.80" y1="670.90" x2="99.30" y2="670.90" stroke="#000" stroke-width="2.50"/>
<text x="84.50" y="682.40" font-size="31.00" text-anchor="end">-10</text>
<line x1="88.80" y1="625.10" x2="99.30" y2="625.10" stroke="#000" stroke-width="2.50"/>
<text x="84.50" y="636.60" font-size="31.00" text-anchor="end">0</text>
<line x1="88.80" y1="579.30" x2="99.30" y2="579.30" stroke="#000" stroke-width="2.50"/>
<text x="84.50" y="590.80" font-size="31.00" text-anchor="end">10</text>
<line x1="99.30" y1="692.45" x2="99.30" y2="704.35" stroke="#000" stroke-width="2.50"/>
<line x1="213.78" y1="692.45" x2="213.78" y2="704.35" stroke="#000" stroke-width="2.50"/>
<line x1="328.25" y1="692.45" x2="328.25" y2="704.35" stroke="#000" stroke-width="2.50"/>
<line x1="442.73" y1="692.45" x2="442.73" y2="704.35" stroke="#000" stroke-width="2.50"/>
<line x1="557.20" y1="692.45" x2="557.20" y2="704.35" stroke="#000" stroke-width="2.50"/>
<line x1="671.67" y1="692.45" x2="671.67" y2="704.35" stroke="#000" stroke-width="2.50"/>
<line x1="786.15" y1="692.45" x2="786.15" y2="704.35" stroke="#000" stroke-width="2.50"/>
<line x1="900.62" y1="692.45" x2="900.62" y2="704.35" stroke="#000" stroke-width="2.50"/>
<line x1="1015.10" y1="692.45" x2="1015.10" y2="704.35" stroke="#000" stroke-width="2.50"/>
<text x="105.50" y="585.75" font-size="37.00" font-weight="bold" fill="#fff">iii)</text>
<rect x="100.80" y="779.10" width="915.10" height="137.40" fill="none" stroke="#000" stroke-width="2.70"/>
<line x1="88.80" y1="893.60" x2="100.80" y2="893.60" stroke="#000" stroke-width="2.50"/>
<text x="84.50" y="905.10" font-size="31.00" text-anchor="end">-10</text>
<line x1="88.80" y1="847.80" x2="100.80" y2="847.80" stroke="#000" stroke-width="2.50"/>
<text x="84.50" y="859.30" font-size="31.00" text-anchor="end">0</text>
<line x1="88.80" y1="802.00" x2="100.80" y2="802.00" stroke="#000" stroke-width="2.50"/>
<text x="84.50" y="813.50" font-size="31.00" text-anchor="end">10</text>
<line x1="100.80" y1="915.15" x2="100.80" y2="927.05" stroke="#000" stroke-width="2.50"/>
<line x1="215.19" y1="915.15" x2="215.19" y2="927.05" stroke="#000" stroke-width="2.50"/>
<line x1="329.57" y1="915.15" x2="329.57" y2="927.05" stroke="#000" stroke-width="2.50"/>
<line x1="443.96" y1="915.15" x2="443.96" y2="927.05" stroke="#000" stroke-width="2.50"/>
<line x1="558.35" y1="915.15" x2="558.35" y2="927.05" stroke="#000" stroke-width="2.50"/>
<line x1="672.74" y1="915.15" x2="672.74" y2="927.05" stroke="#000" stroke-width="2.50"/>
<line x1="787.12" y1="915.15" x2="787.12" y2="927.05" stroke="#000" stroke-width="2.50"/>
<line x1="901.51" y1="915.15" x2="901.51" y2="927.05" stroke="#000" stroke-width="2.50"/>
<line x1="1015.90" y1="915.15" x2="1015.90" y2="927.05" stroke="#000" stroke-width="2.50"/>
<text x="105.50" y="808.45" font-size="37.00" font-weight="bold" fill="#fff">i)</text>
<rect x="100.80" y="1002.30" width="915.10" height="137.40" fill="none" stroke="#000" stroke-width="2.70"/>
<line x1="88.80" y1="1116.80" x2="100.80" y2="1116.80" stroke="#000" stroke-width="2.50"/>
<text x="84.50" y="1128.30" font-size="31.00" text-anchor="end">-10</text>
<line x1="88.80" y1="1071.00" x2="100.80" y2="1071.00" stroke="#000" stroke-width="2.50"/>
<text x="84.50" y="1082.50" font-size="31.00" text-anchor="end">0</text>
<line x1="88.80" y1="1025.20" x2="100.80" y2="1025.20" stroke="#000" stroke-width="2.50"/>
<text x="84.50" y="1036.70" font-size="31.00" text-anchor="end">10</text>
<line x1="100.80" y1="1138.35" x2="100.80" y2="1150.25" stroke="#000" stroke-width="2.50"/>
<line x1="215.19" y1="1138.35" x2="215.19" y2="1150.25" stroke="#000" stroke-width="2.50"/>
<line x1="329.57" y1="1138.35" x2="329.57" y2="1150.25" stroke="#000" stroke-width="2.50"/>
<line x1="443.96" y1="1138.35" x2="443.96" y2="1150.25" stroke="#000" stroke-width="2.50"/>
<line x1="558.35" y1="1138.35" x2="558.35" y2="1150.25" stroke="#000" stroke-width="2.50"/>
<line x1="672.74" y1="1138.35" x2="672.74" y2="1150.25" stroke="#000" stroke-width="2.50"/>
<line x1="787.12" y1="1138.35" x2="787.12" y2="1150.25" stroke="#000" stroke-width="2.50"/>
<line x1="901.51" y1="1138.35" x2="901.51" y2="1150.25" stroke="#000" stroke-width="2.50"/>
<line x1="1015.90" y1="1138.35" x2="1015.90" y2="1150.25" stroke="#000" stroke-width="2.50"/>
<text x="105.50" y="1031.65" font-size="37.00" font-weight="bold" fill="#fff">ii)</text>
<rect x="100.80" y="1224.00" width="915.10" height="137.40" fill="none" stroke="#000" stroke-width="2.70"/>
<line x1="88.80" y1="1338.50" x2="100.80" y2="1338.50" stroke="#000" stroke-width="2.50"/>
<text x="84.50" y="1350.00" font-size="31.00" text-anchor="end">-10</text>
<line x1="88.80" y1="1292.70" x2="100.80" y2="1292.70" stroke="#000" stroke-width="2.50"/>
<text x="84.50" y="1304.20" font-size="31.00" text-anchor="end">0</text>
<line x1="88.80" y1="1246.90" x2="100.80" y2="1246.90" stroke="#000" stroke-width="2.50"/>
<text x="84.50" y="1258.40" font-size="31.00" text-anchor="end">10</text>
<line x1="100.80" y1="1360.05" x2="100.80" y2="1371.95" stroke="#000" stroke-width="2.50"/>
<line x1="215.19" y1="1360.05" x2="215.19" y2="1371.95" stroke="#000" stroke-width="2.50"/>
<line x1="329.57" y1="1360.05" x2="329.57" y2="1371.95" stroke="#000" stroke-width="2.50"/>
<line x1="443.96" y1="1360.05" x2="443.96" y2="1371.95" stroke="#000" stroke-width="2.50"/>
<line x1="558.35" y1="1360.05" x2="558.35" y2="1371.95" stroke="#000" stroke-width="2.50"/>
<line x1="672.74" y1="1360.05" x2="672.74" y2="1371.95" stroke="#000" stroke-width="2.50"/>
<line x1="787.12" y1="1360.05" x2="787.12" y2="1371.95" stroke="#000" stroke-width="2.50"/>
<line x1="901.51" y1="1360.05" x2="901.51" y2="1371.95" stroke="#000" stroke-width="2.50"/>
<line x1="1015.90" y1="1360.05" x2="1015.90" y2="1371.95" stroke="#000" stroke-width="2.50"/>
<text x="105.50" y="1253.35" font-size="37.00" font-weight="bold" fill="#fff">iii)</text>
<text x="100.80" y="1403.50" font-size="31.00" text-anchor="middle">-100</text>
<text x="215.19" y="1403.50" font-size="31.00" text-anchor="middle">-75</text>
<text x="329.57" y="1403.50" font-size="31.00" text-anchor="middle">-50</text>
<text x="443.96" y="1403.50" font-size="31.00" text-anchor="middle">-25</text>
<text x="558.35" y="1403.50" font-size="31.00" text-anchor="middle">0</text>
<text x="672.74" y="1403.50" font-size="31.00" text-anchor="middle">25</text>
<text x="787.12" y="1403.50" font-size="31.00" text-anchor="middle">50</text>
<text x="901.51" y="1403.50" font-size="31.00" text-anchor="middle">75</text>
<text x="1015.90" y="1403.50" font-size="31.00" text-anchor="middle">100</text>
<text x="559.00" y="1458.00" font-size="31.00" text-anchor="middle">x position /μm</text>
<text x="4.00" y="111.30" font-size="38.00">a)</text>
<text x="5.70" y="777.00" font-size="38.00">c)</text>
<text transform="translate(26.00 403.10) rotate(-90)" font-size="31.00" text-anchor="middle">y position /μm</text>
<text transform="translate(26.50 1070.50) rotate(-90)" font-size="31.00" text-anchor="middle">z position/μm</text>
<clipPath id="cb"><rect x="1168.80" y="130.80" width="300.85" height="320.10"/></clipPath>
<path d="M1168.80,288.50 L1170.30,286.77 L1171.81,285.01 L1173.31,283.22 L1174.82,281.41 L1176.32,279.57 L1177.83,277.70 L1179.33,275.82 L1180.83,273.91 L1182.34,271.98 L1183.84,270.03 L1185.35,268.06 L1186.85,266.07 L1188.36,264.07 L1189.86,262.06 L1191.36,260.04 L1192.87,258.00 L1194.37,255.96 L1195.88,253.91 L1197.38,251.85 L1198.88,249.79 L1200.39,247.73 L1201.89,245.67 L1203.40,243.61 L1204.90,241.56 L1206.41,239.50 L1207.91,237.46 L1209.41,235.42 L1210.92,233.40 L1212.42,231.38 L1213.93,229.38 L1215.43,227.39 L1216.94,225.42 L1218.44,223.47 L1219.94,221.53 L1221.45,219.62 L1222.95,217.73 L1224.46,215.86 L1225.96,214.01 L1227.47,212.18 L1228.97,210.38 L1230.47,208.60 L1231.98,206.84 L1233.48,205.10 L1234.99,203.37 L1236.49,201.65 L1238.00,199.93 L1239.50,198.21 L1241.00,196.48 L1242.51,194.76 L1244.01,193.06 L1245.52,191.40 L1247.02,189.84 L1248.53,188.39 L1250.03,187.07 L1251.53,185.88 L1253.04,184.80 L1254.54,183.78 L1256.05,182.81 L1257.55,181.87 L1259.06,180.95 L1259.36,180.77 L1259.66,180.59 L1259.96,180.41 L1260.26,180.22 L1260.56,180.04 L1260.86,179.86 L1261.16,179.68 L1261.46,179.50 L1261.76,179.32 L1262.06,179.14 L1262.36,178.96 L1262.67,178.78 L1262.97,178.60 L1263.27,178.42 L1263.57,178.24 L1263.87,178.06 L1264.17,177.88 L1264.47,177.70 L1264.77,177.52 L1265.07,177.34 L1265.37,177.16 L1265.67,176.98 L1265.97,176.80 L1266.28,176.62 L1266.58,176.44 L1266.88,176.26 L1267.18,176.08 L1267.48,175.90 L1267.78,175.72 L1268.08,175.54 L1268.38,175.36 L1268.68,175.18 L1268.98,175.00 L1269.28,174.82 L1269.58,174.64 L1269.89,174.46 L1270.19,174.28 L1270.49,174.10 L1270.79,173.92 L1271.09,173.74 L1271.39,173.57 L1271.69,173.39 L1271.99,173.21 L1272.29,173.03 L1272.59,172.85 L1272.89,172.67 L1273.19,172.49 L1273.50,172.31 L1273.80,172.13 L1274.10,171.95 L1274.40,171.77 L1274.70,171.59 L1275.00,171.41 L1275.30,171.23 L1275.60,171.05 L1275.90,170.87 L1276.20,170.69 L1276.50,170.51 L1276.81,170.34 L1277.11,170.16 L1277.41,169.98 L1277.71,169.80 L1278.01,169.62 L1278.31,169.44 L1278.61,169.26 L1278.91,169.08 L1279.21,168.90 L1279.51,168.72 L1279.81,168.54 L1280.11,168.36 L1280.42,168.18 L1280.72,168.00 L1281.02,167.82 L1281.32,167.65 L1281.62,167.47 L1281.92,167.29 L1282.22,167.11 L1282.52,166.93 L1282.82,166.75 L1283.12,166.57 L1283.42,166.39 L1283.72,166.21 L1284.03,166.03 L1284.33,165.85 L1284.63,165.67 L1284.93,165.49 L1285.23,165.31 L1285.53,165.14 L1285.83,164.96 L1286.13,164.78 L1286.43,164.60 L1286.73,164.42 L1287.03,164.24 L1287.33,164.06 L1287.64,163.88 L1287.94,163.70 L1288.24,163.52 L1288.54,163.34 L1288.84,163.16 L1289.14,162.99 L1289.44,162.81 L1289.74,162.63 L1290.04,162.45 L1290.34,162.27 L1290.64,162.09 L1290.95,161.91 L1291.25,161.73 L1291.55,161.55 L1291.85,161.37 L1292.15,161.20 L1292.45,161.02 L1292.75,160.84 L1293.05,160.66 L1293.35,160.48 L1293.65,160.30 L1293.95,160.12 L1294.25,159.94 L1294.56,159.76 L1294.86,159.59 L1295.16,159.41 L1295.46,159.23 L1295.76,159.05 L1296.06,158.87 L1296.36,158.69 L1296.66,158.51 L1296.96,158.33 L1297.26,158.16 L1297.56,157.98 L1297.86,157.80 L1298.17,157.62 L1298.47,157.44 L1298.77,157.26 L1299.07,157.09 L1299.37,156.91 L1299.67,156.73 L1299.97,156.55 L1300.27,156.37 L1300.57,156.19 L1300.87,156.02 L1301.17,155.84 L1301.47,155.66 L1301.78,155.48 L1302.08,155.30 L1302.38,155.13 L1302.68,154.95 L1302.98,154.77 L1303.28,154.59 L1303.58,154.41 L1303.88,154.24 L1304.18,154.06 L1304.48,153.88 L1304.78,153.71 L1305.09,153.53 L1305.39,153.35 L1305.69,153.17 L1305.99,153.00 L1306.29,152.82 L1306.59,152.64 L1306.89,152.47 L1307.19,152.29 L1307.49,152.12 L1307.79,151.94 L1308.09,151.76 L1308.39,151.59 L1308.70,151.41 L1309.00,151.24 L1309.30,151.06 L1309.60,150.89 L1309.90,150.71 L1310.20,150.54 L1310.50,150.37 L1310.80,150.19 L1311.10,150.02 L1311.40,149.85 L1311.70,149.68 L1312.00,149.51 L1312.31,149.34 L1312.61,149.17 L1312.91,149.00 L1313.21,148.83 L1313.51,148.67 L1313.81,148.50 L1314.11,148.34 L1314.41,148.18 L1314.71,148.02 L1315.01,147.86 L1315.31,147.71 L1315.61,147.55 L1315.92,147.41 L1316.22,147.26 L1316.52,147.13 L1316.82,147.00 L1317.12,146.87 L1317.42,146.76 L1317.72,146.66 L1318.02,146.57 L1318.32,146.50 L1318.62,146.44 L1318.92,146.41 L1319.22,146.40 L1319.53,146.41 L1319.83,146.44 L1320.13,146.50 L1320.43,146.57 L1320.73,146.66 L1321.03,146.76 L1321.33,146.87 L1321.63,147.00 L1321.93,147.13 L1322.23,147.26 L1322.53,147.41 L1322.84,147.55 L1323.14,147.71 L1323.44,147.86 L1323.74,148.02 L1324.04,148.18 L1324.34,148.34 L1324.64,148.50 L1324.94,148.67 L1325.24,148.83 L1325.54,149.00 L1325.84,149.17 L1326.14,149.34 L1326.45,149.51 L1326.75,149.68 L1327.05,149.85 L1327.35,150.02 L1327.65,150.19 L1327.95,150.37 L1328.25,150.54 L1328.55,150.71 L1328.85,150.89 L1329.15,151.06 L1329.45,151.24 L1329.75,151.41 L1330.06,151.59 L1330.36,151.76 L1330.66,151.94 L1330.96,152.12 L1331.26,152.29 L1331.56,152.47 L1331.86,152.64 L1332.16,152.82 L1332.46,153.00 L1332.76,153.17 L1333.06,153.35 L1333.36,153.53 L1333.67,153.71 L1333.97,153.88 L1334.27,154.06 L1334.57,154.24 L1334.87,154.41 L1335.17,154.59 L1335.47,154.77 L1335.77,154.95 L1336.07,155.13 L1336.37,155.30 L1336.67,155.48 L1336.98,155.66 L1337.28,155.84 L1337.58,156.02 L1337.88,156.19 L1338.18,156.37 L1338.48,156.55 L1338.78,156.73 L1339.08,156.91 L1339.38,157.09 L1339.68,157.26 L1339.98,157.44 L1340.28,157.62 L1340.59,157.80 L1340.89,157.98 L1341.19,158.16 L1341.49,158.33 L1341.79,158.51 L1342.09,158.69 L1342.39,158.87 L1342.69,159.05 L1342.99,159.23 L1343.29,159.41 L1343.59,159.59 L1343.89,159.76 L1344.20,159.94 L1344.50,160.12 L1344.80,160.30 L1345.10,160.48 L1345.40,160.66 L1345.70,160.84 L1346.00,161.02 L1346.30,161.20 L1346.60,161.37 L1346.90,161.55 L1347.20,161.73 L1347.50,161.91 L1347.81,162.09 L1348.11,162.27 L1348.41,162.45 L1348.71,162.63 L1349.01,162.81 L1349.31,162.99 L1349.61,163.16 L1349.91,163.34 L1350.21,163.52 L1350.51,163.70 L1350.81,163.88 L1351.12,164.06 L1351.42,164.24 L1351.72,164.42 L1352.02,164.60 L1352.32,164.78 L1352.62,164.96 L1352.92,165.14 L1353.22,165.31 L1353.52,165.49 L1353.82,165.67 L1354.12,165.85 L1354.42,166.03 L1354.73,166.21 L1355.03,166.39 L1355.33,166.57 L1355.63,166.75 L1355.93,166.93 L1356.23,167.11 L1356.53,167.29 L1356.83,167.47 L1357.13,167.65 L1357.43,167.82 L1357.73,168.00 L1358.03,168.18 L1358.34,168.36 L1358.64,168.54 L1358.94,168.72 L1359.24,168.90 L1359.54,169.08 L1359.84,169.26 L1360.14,169.44 L1360.44,169.62 L1360.74,169.80 L1361.04,169.98 L1361.34,170.16 L1361.64,170.34 L1361.95,170.51 L1362.25,170.69 L1362.55,170.87 L1362.85,171.05 L1363.15,171.23 L1363.45,171.41 L1363.75,171.59 L1364.05,171.77 L1364.35,171.95 L1364.65,172.13 L1364.95,172.31 L1365.26,172.49 L1365.56,172.67 L1365.86,172.85 L1366.16,173.03 L1366.46,173.21 L1366.76,173.39 L1367.06,173.57 L1367.36,173.74 L1367.66,173.92 L1367.96,174.10 L1368.26,174.28 L1368.56,174.46 L1368.87,174.64 L1369.17,174.82 L1369.47,175.00 L1369.77,175.18 L1370.07,175.36 L1370.37,175.54 L1370.67,175.72 L1370.97,175.90 L1371.27,176.08 L1371.57,176.26 L1371.87,176.44 L1372.17,176.62 L1372.48,176.80 L1372.78,176.98 L1373.08,177.16 L1373.38,177.34 L1373.68,177.52 L1373.98,177.70 L1374.28,177.88 L1374.58,178.06 L1374.88,178.24 L1375.18,178.42 L1375.48,178.60 L1375.78,178.78 L1376.09,178.96 L1376.39,179.14 L1376.69,179.32 L1376.99,179.50 L1377.29,179.68 L1377.59,179.86 L1377.89,180.04 L1378.19,180.22 L1378.49,180.41 L1378.79,180.59 L1379.09,180.77 L1379.39,180.95 L1380.90,181.87 L1382.40,182.81 L1383.91,183.78 L1385.41,184.80 L1386.92,185.88 L1388.42,187.07 L1389.92,188.39 L1391.43,189.84 L1392.93,191.40 L1394.44,193.06 L1395.94,194.76 L1397.45,196.48 L1398.95,198.21 L1400.45,199.93 L1401.96,201.65 L1403.46,203.37 L1404.97,205.10 L1406.47,206.84 L1407.98,208.60 L1409.48,210.38 L1410.98,212.18 L1412.49,214.01 L1413.99,215.86 L1415.50,217.73 L1417.00,219.62 L1418.51,221.53 L1420.01,223.47 L1421.51,225.42 L1423.02,227.39 L1424.52,229.38 L1426.03,231.38 L1427.53,233.40 L1429.04,235.42 L1430.54,237.46 L1432.04,239.50 L1433.55,241.56 L1435.05,243.61 L1436.56,245.67 L1438.06,247.73 L1439.57,249.79 L1441.07,251.85 L1442.57,253.91 L1444.08,255.96 L1445.58,258.00 L1447.09,260.04 L1448.59,262.06 L1450.09,264.07 L1451.60,266.07 L1453.10,268.06 L1454.61,270.03 L1456.11,271.98 L1457.62,273.91 L1459.12,275.82 L1460.62,277.70 L1462.13,279.57 L1463.63,281.41 L1465.14,283.22 L1466.64,285.01 L1468.15,286.77 L1469.65,288.50" fill="none" stroke="#b0162c" stroke-width="2.60" stroke-linejoin="round" clip-path="url(#cb)"/>
<path d="M1168.80,421.46 L1170.30,421.09 L1171.81,420.71 L1173.31,420.32 L1174.82,419.93 L1176.32,419.53 L1177.83,419.12 L1179.33,418.70 L1180.83,418.27 L1182.34,417.83 L1183.84,417.39 L1185.35,416.93 L1186.85,416.46 L1188.36,415.99 L1189.86,415.50 L1191.36,415.00 L1192.87,414.49 L1194.37,413.97 L1195.88,413.43 L1197.38,412.89 L1198.88,412.33 L1200.39,411.75 L1201.89,411.16 L1203.40,410.56 L1204.90,409.94 L1206.41,409.31 L1207.91,408.66 L1209.41,407.99 L1210.92,407.30 L1212.42,406.60 L1213.93,405.88 L1215.43,405.13 L1216.94,404.37 L1218.44,403.58 L1219.94,402.77 L1221.45,401.94 L1222.95,401.08 L1224.46,400.20 L1225.96,399.29 L1227.47,398.35 L1228.97,397.38 L1230.47,396.37 L1231.98,395.34 L1233.48,394.27 L1234.99,393.17 L1236.49,392.02 L1238.00,390.84 L1239.50,389.62 L1241.00,388.35 L1242.51,387.03 L1244.01,385.67 L1245.52,384.25 L1247.02,382.78 L1248.53,381.24 L1250.03,379.65 L1251.53,377.99 L1253.04,376.26 L1254.54,374.46 L1256.05,372.58 L1257.55,370.61 L1259.06,368.56 L1259.36,368.14 L1259.66,367.71 L1259.96,367.28 L1260.26,366.85 L1260.56,366.41 L1260.86,365.97 L1261.16,365.52 L1261.46,365.07 L1261.76,364.61 L1262.06,364.15 L1262.36,363.69 L1262.67,363.22 L1262.97,362.75 L1263.27,362.27 L1263.57,361.79 L1263.87,361.31 L1264.17,360.81 L1264.47,360.32 L1264.77,359.82 L1265.07,359.31 L1265.37,358.80 L1265.67,358.29 L1265.97,357.77 L1266.28,357.24 L1266.58,356.71 L1266.88,356.17 L1267.18,355.63 L1267.48,355.08 L1267.78,354.53 L1268.08,353.97 L1268.38,353.40 L1268.68,352.83 L1268.98,352.25 L1269.28,351.67 L1269.58,351.08 L1269.89,350.49 L1270.19,349.88 L1270.49,349.28 L1270.79,348.66 L1271.09,348.04 L1271.39,347.41 L1271.69,346.78 L1271.99,346.13 L1272.29,345.49 L1272.59,344.83 L1272.89,344.17 L1273.19,343.50 L1273.50,342.82 L1273.80,342.13 L1274.10,341.44 L1274.40,340.74 L1274.70,340.03 L1275.00,339.31 L1275.30,338.58 L1275.60,337.85 L1275.90,337.11 L1276.20,336.36 L1276.50,335.60 L1276.81,334.83 L1277.11,334.05 L1277.41,333.26 L1277.71,332.46 L1278.01,331.66 L1278.31,330.84 L1278.61,330.02 L1278.91,329.18 L1279.21,328.34 L1279.51,327.48 L1279.81,326.61 L1280.11,325.74 L1280.42,324.85 L1280.72,323.95 L1281.02,323.04 L1281.32,322.12 L1281.62,321.19 L1281.92,320.24 L1282.22,319.29 L1282.52,318.32 L1282.82,317.34 L1283.12,316.35 L1283.42,315.34 L1283.72,314.32 L1284.03,313.29 L1284.33,312.24 L1284.63,311.19 L1284.93,310.11 L1285.23,309.03 L1285.53,307.93 L1285.83,306.81 L1286.13,305.68 L1286.43,304.54 L1286.73,303.38 L1287.03,302.21 L1287.33,301.02 L1287.64,299.81 L1287.94,298.59 L1288.24,297.35 L1288.54,296.10 L1288.84,294.83 L1289.14,293.54 L1289.44,292.24 L1289.74,290.91 L1290.04,289.57 L1290.34,288.21 L1290.64,286.84 L1290.95,285.44 L1291.25,284.03 L1291.55,282.60 L1291.85,281.15 L1292.15,279.68 L1292.45,278.19 L1292.75,276.68 L1293.05,275.15 L1293.35,273.60 L1293.65,272.03 L1293.95,270.44 L1294.25,268.83 L1294.56,267.20 L1294.86,265.55 L1295.16,263.88 L1295.46,262.18 L1295.76,260.47 L1296.06,258.73 L1296.36,256.97 L1296.66,255.19 L1296.96,253.39 L1297.26,251.57 L1297.56,249.73 L1297.86,247.87 L1298.17,245.98 L1298.47,244.08 L1298.77,242.15 L1299.07,240.21 L1299.37,238.24 L1299.67,236.25 L1299.97,234.25 L1300.27,232.23 L1300.57,230.18 L1300.87,228.12 L1301.17,226.05 L1301.47,223.95 L1301.78,221.85 L1302.08,219.72 L1302.38,217.59 L1302.68,215.44 L1302.98,213.28 L1303.28,211.11 L1303.58,208.93 L1303.88,206.74 L1304.18,204.55 L1304.48,202.35 L1304.78,200.15 L1305.09,197.95 L1305.39,195.75 L1305.69,193.55 L1305.99,191.36 L1306.29,189.17 L1306.59,187.00 L1306.89,184.83 L1307.19,182.69 L1307.49,180.55 L1307.79,178.44 L1308.09,176.35 L1308.39,174.28 L1308.70,172.24 L1309.00,170.22 L1309.30,168.23 L1309.60,166.27 L1309.90,164.33 L1310.20,162.41 L1310.50,160.51 L1310.80,158.63 L1311.10,156.77 L1311.40,154.95 L1311.70,153.22 L1312.00,151.66 L1312.31,150.37 L1312.61,149.42 L1312.91,148.82 L1313.21,148.48 L1313.51,148.30 L1313.81,148.20 L1314.11,148.11 L1314.41,148.01 L1314.71,147.91 L1315.01,147.79 L1315.31,147.66 L1315.61,147.52 L1315.92,147.39 L1316.22,147.25 L1316.52,147.12 L1316.82,146.99 L1317.12,146.87 L1317.42,146.76 L1317.72,146.66 L1318.02,146.57 L1318.32,146.50 L1318.62,146.44 L1318.92,146.41 L1319.22,146.40 L1319.53,146.41 L1319.83,146.44 L1320.13,146.50 L1320.43,146.57 L1320.73,146.66 L1321.03,146.76 L1321.33,146.87 L1321.63,146.99 L1321.93,147.12 L1322.23,147.25 L1322.53,147.39 L1322.84,147.52 L1323.14,147.66 L1323.44,147.79 L1323.74,147.91 L1324.04,148.01 L1324.34,148.11 L1324.64,148.20 L1324.94,148.30 L1325.24,148.48 L1325.54,148.82 L1325.84,149.42 L1326.14,150.37 L1326.45,151.66 L1326.75,153.22 L1327.05,154.95 L1327.35,156.77 L1327.65,158.63 L1327.95,160.51 L1328.25,162.41 L1328.55,164.33 L1328.85,166.27 L1329.15,168.23 L1329.45,170.22 L1329.75,172.24 L1330.06,174.28 L1330.36,176.35 L1330.66,178.44 L1330.96,180.55 L1331.26,182.69 L1331.56,184.83 L1331.86,187.00 L1332.16,189.17 L1332.46,191.36 L1332.76,193.55 L1333.06,195.75 L1333.36,197.95 L1333.67,200.15 L1333.97,202.35 L1334.27,204.55 L1334.57,206.74 L1334.87,208.93 L1335.17,211.11 L1335.47,213.28 L1335.77,215.44 L1336.07,217.59 L1336.37,219.72 L1336.67,221.85 L1336.98,223.95 L1337.28,226.05 L1337.58,228.12 L1337.88,230.18 L1338.18,232.23 L1338.48,234.25 L1338.78,236.25 L1339.08,238.24 L1339.38,240.21 L1339.68,242.15 L1339.98,244.08 L1340.28,245.98 L1340.59,247.87 L1340.89,249.73 L1341.19,251.57 L1341.49,253.39 L1341.79,255.19 L1342.09,256.97 L1342.39,258.73 L1342.69,260.47 L1342.99,262.18 L1343.29,263.88 L1343.59,265.55 L1343.89,267.20 L1344.20,268.83 L1344.50,270.44 L1344.80,272.03 L1345.10,273.60 L1345.40,275.15 L1345.70,276.68 L1346.00,278.19 L1346.30,279.68 L1346.60,281.15 L1346.90,282.60 L1347.20,284.03 L1347.50,285.44 L1347.81,286.84 L1348.11,288.21 L1348.41,289.57 L1348.71,290.91 L1349.01,292.24 L1349.31,293.54 L1349.61,294.83 L1349.91,296.10 L1350.21,297.35 L1350.51,298.59 L1350.81,299.81 L1351.12,301.02 L1351.42,302.21 L1351.72,303.38 L1352.02,304.54 L1352.32,305.68 L1352.62,306.81 L1352.92,307.93 L1353.22,309.03 L1353.52,310.11 L1353.82,311.19 L1354.12,312.24 L1354.42,313.29 L1354.73,314.32 L1355.03,315.34 L1355.33,316.35 L1355.63,317.34 L1355.93,318.32 L1356.23,319.29 L1356.53,320.24 L1356.83,321.19 L1357.13,322.12 L1357.43,323.04 L1357.73,323.95 L1358.03,324.85 L1358.34,325.74 L1358.64,326.61 L1358.94,327.48 L1359.24,328.34 L1359.54,329.18 L1359.84,330.02 L1360.14,330.84 L1360.44,331.66 L1360.74,332.46 L1361.04,333.26 L1361.34,334.05 L1361.64,334.83 L1361.95,335.60 L1362.25,336.36 L1362.55,337.11 L1362.85,337.85 L1363.15,338.58 L1363.45,339.31 L1363.75,340.03 L1364.05,340.74 L1364.35,341.44 L1364.65,342.13 L1364.95,342.82 L1365.26,343.50 L1365.56,344.17 L1365.86,344.83 L1366.16,345.49 L1366.46,346.13 L1366.76,346.78 L1367.06,347.41 L1367.36,348.04 L1367.66,348.66 L1367.96,349.28 L1368.26,349.88 L1368.56,350.49 L1368.87,351.08 L1369.17,351.67 L1369.47,352.25 L1369.77,352.83 L1370.07,353.40 L1370.37,353.97 L1370.67,354.53 L1370.97,355.08 L1371.27,355.63 L1371.57,356.17 L1371.87,356.71 L1372.17,357.24 L1372.48,357.77 L1372.78,358.29 L1373.08,358.80 L1373.38,359.31 L1373.68,359.82 L1373.98,360.32 L1374.28,360.81 L1374.58,361.31 L1374.88,361.79 L1375.18,362.27 L1375.48,362.75 L1375.78,363.22 L1376.09,363.69 L1376.39,364.15 L1376.69,364.61 L1376.99,365.07 L1377.29,365.52 L1377.59,365.97 L1377.89,366.41 L1378.19,366.85 L1378.49,367.28 L1378.79,367.71 L1379.09,368.14 L1379.39,368.56 L1380.90,370.61 L1382.40,372.58 L1383.91,374.46 L1385.41,376.26 L1386.92,377.99 L1388.42,379.65 L1389.92,381.24 L1391.43,382.78 L1392.93,384.25 L1394.44,385.67 L1395.94,387.03 L1397.45,388.35 L1398.95,389.62 L1400.45,390.84 L1401.96,392.02 L1403.46,393.17 L1404.97,394.27 L1406.47,395.34 L1407.98,396.37 L1409.48,397.38 L1410.98,398.35 L1412.49,399.29 L1413.99,400.20 L1415.50,401.08 L1417.00,401.94 L1418.51,402.77 L1420.01,403.58 L1421.51,404.37 L1423.02,405.13 L1424.52,405.88 L1426.03,406.60 L1427.53,407.30 L1429.04,407.99 L1430.54,408.66 L1432.04,409.31 L1433.55,409.94 L1435.05,410.56 L1436.56,411.16 L1438.06,411.75 L1439.57,412.33 L1441.07,412.89 L1442.57,413.43 L1444.08,413.97 L1445.58,414.49 L1447.09,415.00 L1448.59,415.50 L1450.09,415.99 L1451.60,416.46 L1453.10,416.93 L1454.61,417.39 L1456.11,417.83 L1457.62,418.27 L1459.12,418.70 L1460.62,419.12 L1462.13,419.53 L1463.63,419.93 L1465.14,420.32 L1466.64,420.71 L1468.15,421.09 L1469.65,421.46" fill="none" stroke="#29a3dc" stroke-width="2.60" stroke-linejoin="round" clip-path="url(#cb)"/>
<path d="M1168.80,405.82 L1170.30,405.23 L1171.81,404.62 L1173.31,404.00 L1174.82,403.37 L1176.32,402.73 L1177.83,402.08 L1179.33,401.41 L1180.83,400.73 L1182.34,400.04 L1183.84,399.33 L1185.35,398.61 L1186.85,397.88 L1188.36,397.12 L1189.86,396.36 L1191.36,395.57 L1192.87,394.77 L1194.37,393.95 L1195.88,393.11 L1197.38,392.26 L1198.88,391.38 L1200.39,390.49 L1201.89,389.57 L1203.40,388.63 L1204.90,387.67 L1206.41,386.69 L1207.91,385.68 L1209.41,384.65 L1210.92,383.59 L1212.42,382.50 L1213.93,381.39 L1215.43,380.25 L1216.94,379.07 L1218.44,377.87 L1219.94,376.63 L1221.45,375.36 L1222.95,374.05 L1224.46,372.70 L1225.96,371.32 L1227.47,369.89 L1228.97,368.42 L1230.47,366.91 L1231.98,365.35 L1233.48,363.74 L1234.99,362.07 L1236.49,360.36 L1238.00,358.59 L1239.50,356.75 L1241.00,354.86 L1242.51,352.90 L1244.01,350.87 L1245.52,348.76 L1247.02,346.58 L1248.53,344.32 L1250.03,341.97 L1251.53,339.53 L1253.04,337.00 L1254.54,334.36 L1256.05,331.61 L1257.55,328.75 L1259.06,325.76 L1259.36,325.15 L1259.66,324.54 L1259.96,323.91 L1260.26,323.28 L1260.56,322.65 L1260.86,322.01 L1261.16,321.37 L1261.46,320.72 L1261.76,320.06 L1262.06,319.40 L1262.36,318.73 L1262.67,318.06 L1262.97,317.38 L1263.27,316.69 L1263.57,316.00 L1263.87,315.30 L1264.17,314.60 L1264.47,313.89 L1264.77,313.17 L1265.07,312.45 L1265.37,311.72 L1265.67,310.98 L1265.97,310.24 L1266.28,309.49 L1266.58,308.73 L1266.88,307.97 L1267.18,307.20 L1267.48,306.42 L1267.78,305.63 L1268.08,304.84 L1268.38,304.04 L1268.68,303.23 L1268.98,302.41 L1269.28,301.59 L1269.58,300.76 L1269.89,299.92 L1270.19,299.07 L1270.49,298.21 L1270.79,297.35 L1271.09,296.48 L1271.39,295.60 L1271.69,294.71 L1271.99,293.81 L1272.29,292.90 L1272.59,291.99 L1272.89,291.06 L1273.19,290.13 L1273.50,289.19 L1273.80,288.24 L1274.10,287.27 L1274.40,286.30 L1274.70,285.32 L1275.00,284.33 L1275.30,283.34 L1275.60,282.33 L1275.90,281.31 L1276.20,280.28 L1276.50,279.24 L1276.81,278.19 L1277.11,277.13 L1277.41,276.06 L1277.71,274.98 L1278.01,273.89 L1278.31,272.79 L1278.61,271.68 L1278.91,270.56 L1279.21,269.42 L1279.51,268.28 L1279.81,267.12 L1280.11,265.96 L1280.42,264.78 L1280.72,263.59 L1281.02,262.39 L1281.32,261.18 L1281.62,259.96 L1281.92,258.73 L1282.22,257.48 L1282.52,256.23 L1282.82,254.96 L1283.12,253.68 L1283.42,252.39 L1283.72,251.09 L1284.03,249.78 L1284.33,248.46 L1284.63,247.12 L1284.93,245.78 L1285.23,244.42 L1285.53,243.06 L1285.83,241.68 L1286.13,240.29 L1286.43,238.90 L1286.73,237.49 L1287.03,236.07 L1287.33,234.65 L1287.64,233.21 L1287.94,231.77 L1288.24,230.31 L1288.54,228.85 L1288.84,227.38 L1289.14,225.90 L1289.44,224.42 L1289.74,222.92 L1290.04,221.43 L1290.34,219.92 L1290.64,218.41 L1290.95,216.90 L1291.25,215.38 L1291.55,213.86 L1291.85,212.34 L1292.15,210.81 L1292.45,209.28 L1292.75,207.75 L1293.05,206.23 L1293.35,204.70 L1293.65,203.17 L1293.95,201.65 L1294.25,200.14 L1294.56,198.62 L1294.86,197.12 L1295.16,195.62 L1295.46,194.13 L1295.76,192.64 L1296.06,191.17 L1296.36,189.71 L1296.66,188.27 L1296.96,186.83 L1297.26,185.41 L1297.56,184.01 L1297.86,182.63 L1298.17,181.26 L1298.47,179.91 L1298.77,178.59 L1299.07,177.28 L1299.37,176.00 L1299.67,174.74 L1299.97,173.51 L1300.27,172.31 L1300.57,171.13 L1300.87,169.98 L1301.17,168.86 L1301.47,167.76 L1301.78,166.70 L1302.08,165.67 L1302.38,164.66 L1302.68,163.69 L1302.98,162.75 L1303.28,161.84 L1303.58,160.95 L1303.88,160.09 L1304.18,159.26 L1304.48,158.44 L1304.78,157.65 L1305.09,156.88 L1305.39,156.13 L1305.69,155.40 L1305.99,154.70 L1306.29,154.06 L1306.59,153.48 L1306.89,152.99 L1307.19,152.58 L1307.49,152.26 L1307.79,152.00 L1308.09,151.78 L1308.39,151.58 L1308.70,151.40 L1309.00,151.22 L1309.30,151.05 L1309.60,150.88 L1309.90,150.71 L1310.20,150.54 L1310.50,150.36 L1310.80,150.19 L1311.10,150.02 L1311.40,149.85 L1311.70,149.68 L1312.00,149.51 L1312.31,149.34 L1312.61,149.17 L1312.91,149.00 L1313.21,148.83 L1313.51,148.67 L1313.81,148.50 L1314.11,148.34 L1314.41,148.18 L1314.71,148.02 L1315.01,147.86 L1315.31,147.71 L1315.61,147.55 L1315.92,147.41 L1316.22,147.26 L1316.52,147.13 L1316.82,147.00 L1317.12,146.87 L1317.42,146.76 L1317.72,146.66 L1318.02,146.57 L1318.32,146.50 L1318.62,146.44 L1318.92,146.41 L1319.22,146.40 L1319.53,146.41 L1319.83,146.44 L1320.13,146.50 L1320.43,146.57 L1320.73,146.66 L1321.03,146.76 L1321.33,146.87 L1321.63,147.00 L1321.93,147.13 L1322.23,147.26 L1322.53,147.41 L1322.84,147.55 L1323.14,147.71 L1323.44,147.86 L1323.74,148.02 L1324.04,148.18 L1324.34,148.34 L1324.64,148.50 L1324.94,148.67 L1325.24,148.83 L1325.54,149.00 L1325.84,149.17 L1326.14,149.34 L1326.45,149.51 L1326.75,149.68 L1327.05,149.85 L1327.35,150.02 L1327.65,150.19 L1327.95,150.36 L1328.25,150.54 L1328.55,150.71 L1328.85,150.88 L1329.15,151.05 L1329.45,151.22 L1329.75,151.40 L1330.06,151.58 L1330.36,151.78 L1330.66,152.00 L1330.96,152.26 L1331.26,152.58 L1331.56,152.99 L1331.86,153.48 L1332.16,154.06 L1332.46,154.70 L1332.76,155.40 L1333.06,156.13 L1333.36,156.88 L1333.67,157.65 L1333.97,158.44 L1334.27,159.26 L1334.57,160.09 L1334.87,160.95 L1335.17,161.84 L1335.47,162.75 L1335.77,163.69 L1336.07,164.66 L1336.37,165.67 L1336.67,166.70 L1336.98,167.76 L1337.28,168.86 L1337.58,169.98 L1337.88,171.13 L1338.18,172.31 L1338.48,173.51 L1338.78,174.74 L1339.08,176.00 L1339.38,177.28 L1339.68,178.59 L1339.98,179.91 L1340.28,181.26 L1340.59,182.63 L1340.89,184.01 L1341.19,185.41 L1341.49,186.83 L1341.79,188.27 L1342.09,189.71 L1342.39,191.17 L1342.69,192.64 L1342.99,194.13 L1343.29,195.62 L1343.59,197.12 L1343.89,198.62 L1344.20,200.14 L1344.50,201.65 L1344.80,203.17 L1345.10,204.70 L1345.40,206.23 L1345.70,207.75 L1346.00,209.28 L1346.30,210.81 L1346.60,212.34 L1346.90,213.86 L1347.20,215.38 L1347.50,216.90 L1347.81,218.41 L1348.11,219.92 L1348.41,221.43 L1348.71,222.92 L1349.01,224.42 L1349.31,225.90 L1349.61,227.38 L1349.91,228.85 L1350.21,230.31 L1350.51,231.77 L1350.81,233.21 L1351.12,234.65 L1351.42,236.07 L1351.72,237.49 L1352.02,238.90 L1352.32,240.29 L1352.62,241.68 L1352.92,243.06 L1353.22,244.42 L1353.52,245.78 L1353.82,247.12 L1354.12,248.46 L1354.42,249.78 L1354.73,251.09 L1355.03,252.39 L1355.33,253.68 L1355.63,254.96 L1355.93,256.23 L1356.23,257.48 L1356.53,258.73 L1356.83,259.96 L1357.13,261.18 L1357.43,262.39 L1357.73,263.59 L1358.03,264.78 L1358.34,265.96 L1358.64,267.12 L1358.94,268.28 L1359.24,269.42 L1359.54,270.56 L1359.84,271.68 L1360.14,272.79 L1360.44,273.89 L1360.74,274.98 L1361.04,276.06 L1361.34,277.13 L1361.64,278.19 L1361.95,279.24 L1362.25,280.28 L1362.55,281.31 L1362.85,282.33 L1363.15,283.34 L1363.45,284.33 L1363.75,285.32 L1364.05,286.30 L1364.35,287.27 L1364.65,288.24 L1364.95,289.19 L1365.26,290.13 L1365.56,291.06 L1365.86,291.99 L1366.16,292.90 L1366.46,293.81 L1366.76,294.71 L1367.06,295.60 L1367.36,296.48 L1367.66,297.35 L1367.96,298.21 L1368.26,299.07 L1368.56,299.92 L1368.87,300.76 L1369.17,301.59 L1369.47,302.41 L1369.77,303.23 L1370.07,304.04 L1370.37,304.84 L1370.67,305.63 L1370.97,306.42 L1371.27,307.20 L1371.57,307.97 L1371.87,308.73 L1372.17,309.49 L1372.48,310.24 L1372.78,310.98 L1373.08,311.72 L1373.38,312.45 L1373.68,313.17 L1373.98,313.89 L1374.28,314.60 L1374.58,315.30 L1374.88,316.00 L1375.18,316.69 L1375.48,317.38 L1375.78,318.06 L1376.09,318.73 L1376.39,319.40 L1376.69,320.06 L1376.99,320.72 L1377.29,321.37 L1377.59,322.01 L1377.89,322.65 L1378.19,323.28 L1378.49,323.91 L1378.79,324.54 L1379.09,325.15 L1379.39,325.76 L1380.90,328.75 L1382.40,331.61 L1383.91,334.36 L1385.41,337.00 L1386.92,339.53 L1388.42,341.97 L1389.92,344.32 L1391.43,346.58 L1392.93,348.76 L1394.44,350.87 L1395.94,352.90 L1397.45,354.86 L1398.95,356.75 L1400.45,358.59 L1401.96,360.36 L1403.46,362.07 L1404.97,363.74 L1406.47,365.35 L1407.98,366.91 L1409.48,368.42 L1410.98,369.89 L1412.49,371.32 L1413.99,372.70 L1415.50,374.05 L1417.00,375.36 L1418.51,376.63 L1420.01,377.87 L1421.51,379.07 L1423.02,380.25 L1424.52,381.39 L1426.03,382.50 L1427.53,383.59 L1429.04,384.65 L1430.54,385.68 L1432.04,386.69 L1433.55,387.67 L1435.05,388.63 L1436.56,389.57 L1438.06,390.49 L1439.57,391.38 L1441.07,392.26 L1442.57,393.11 L1444.08,393.95 L1445.58,394.77 L1447.09,395.57 L1448.59,396.36 L1450.09,397.12 L1451.60,397.88 L1453.10,398.61 L1454.61,399.33 L1456.11,400.04 L1457.62,400.73 L1459.12,401.41 L1460.62,402.08 L1462.13,402.73 L1463.63,403.37 L1465.14,404.00 L1466.64,404.62 L1468.15,405.23 L1469.65,405.82" fill="none" stroke="#1d5ea8" stroke-width="2.60" stroke-linejoin="round" clip-path="url(#cb)"/>
<path d="M1168.80,390.47 L1170.30,389.57 L1171.81,388.66 L1173.31,387.73 L1174.82,386.79 L1176.32,385.82 L1177.83,384.84 L1179.33,383.85 L1180.83,382.83 L1182.34,381.79 L1183.84,380.74 L1185.35,379.66 L1186.85,378.57 L1188.36,377.45 L1189.86,376.31 L1191.36,375.15 L1192.87,373.96 L1194.37,372.75 L1195.88,371.51 L1197.38,370.25 L1198.88,368.97 L1200.39,367.65 L1201.89,366.31 L1203.40,364.94 L1204.90,363.54 L1206.41,362.11 L1207.91,360.65 L1209.41,359.15 L1210.92,357.62 L1212.42,356.06 L1213.93,354.46 L1215.43,352.82 L1216.94,351.14 L1218.44,349.42 L1219.94,347.67 L1221.45,345.86 L1222.95,344.02 L1224.46,342.13 L1225.96,340.19 L1227.47,338.20 L1228.97,336.17 L1230.47,334.08 L1231.98,331.93 L1233.48,329.73 L1234.99,327.47 L1236.49,325.15 L1238.00,322.77 L1239.50,320.32 L1241.00,317.81 L1242.51,315.23 L1244.01,312.57 L1245.52,309.85 L1247.02,307.04 L1248.53,304.16 L1250.03,301.19 L1251.53,298.14 L1253.04,295.00 L1254.54,291.78 L1256.05,288.46 L1257.55,285.05 L1259.06,281.54 L1259.36,280.82 L1259.66,280.11 L1259.96,279.38 L1260.26,278.66 L1260.56,277.93 L1260.86,277.20 L1261.16,276.46 L1261.46,275.72 L1261.76,274.97 L1262.06,274.22 L1262.36,273.47 L1262.67,272.71 L1262.97,271.94 L1263.27,271.18 L1263.57,270.41 L1263.87,269.63 L1264.17,268.85 L1264.47,268.07 L1264.77,267.28 L1265.07,266.49 L1265.37,265.69 L1265.67,264.89 L1265.97,264.09 L1266.28,263.28 L1266.58,262.47 L1266.88,261.65 L1267.18,260.83 L1267.48,260.01 L1267.78,259.18 L1268.08,258.34 L1268.38,257.50 L1268.68,256.66 L1268.98,255.82 L1269.28,254.96 L1269.58,254.11 L1269.89,253.25 L1270.19,252.39 L1270.49,251.52 L1270.79,250.65 L1271.09,249.77 L1271.39,248.89 L1271.69,248.01 L1271.99,247.12 L1272.29,246.23 L1272.59,245.33 L1272.89,244.43 L1273.19,243.53 L1273.50,242.62 L1273.80,241.71 L1274.10,240.79 L1274.40,239.87 L1274.70,238.95 L1275.00,238.02 L1275.30,237.09 L1275.60,236.16 L1275.90,235.22 L1276.20,234.28 L1276.50,233.33 L1276.81,232.38 L1277.11,231.43 L1277.41,230.47 L1277.71,229.52 L1278.01,228.55 L1278.31,227.59 L1278.61,226.62 L1278.91,225.65 L1279.21,224.67 L1279.51,223.70 L1279.81,222.72 L1280.11,221.73 L1280.42,220.75 L1280.72,219.76 L1281.02,218.77 L1281.32,217.78 L1281.62,216.78 L1281.92,215.79 L1282.22,214.79 L1282.52,213.79 L1282.82,212.79 L1283.12,211.78 L1283.42,210.78 L1283.72,209.77 L1284.03,208.76 L1284.33,207.76 L1284.63,206.75 L1284.93,205.74 L1285.23,204.72 L1285.53,203.71 L1285.83,202.70 L1286.13,201.69 L1286.43,200.68 L1286.73,199.67 L1287.03,198.66 L1287.33,197.65 L1287.64,196.64 L1287.94,195.63 L1288.24,194.62 L1288.54,193.61 L1288.84,192.61 L1289.14,191.61 L1289.44,190.61 L1289.74,189.61 L1290.04,188.61 L1290.34,187.62 L1290.64,186.63 L1290.95,185.64 L1291.25,184.66 L1291.55,183.68 L1291.85,182.70 L1292.15,181.73 L1292.45,180.77 L1292.75,179.80 L1293.05,178.84 L1293.35,177.89 L1293.65,176.94 L1293.95,176.00 L1294.25,175.06 L1294.56,174.13 L1294.86,173.21 L1295.16,172.29 L1295.46,171.37 L1295.76,170.47 L1296.06,169.56 L1296.36,168.66 L1296.66,167.77 L1296.96,166.88 L1297.26,165.98 L1297.56,165.09 L1297.86,164.19 L1298.17,163.29 L1298.47,162.38 L1298.77,161.47 L1299.07,160.55 L1299.37,159.66 L1299.67,158.79 L1299.97,157.99 L1300.27,157.28 L1300.57,156.68 L1300.87,156.20 L1301.17,155.83 L1301.47,155.55 L1301.78,155.33 L1302.08,155.14 L1302.38,154.98 L1302.68,154.83 L1302.98,154.67 L1303.28,154.52 L1303.58,154.36 L1303.88,154.19 L1304.18,154.03 L1304.48,153.86 L1304.78,153.69 L1305.09,153.52 L1305.39,153.34 L1305.69,153.17 L1305.99,152.99 L1306.29,152.82 L1306.59,152.64 L1306.89,152.47 L1307.19,152.29 L1307.49,152.11 L1307.79,151.94 L1308.09,151.76 L1308.39,151.59 L1308.70,151.41 L1309.00,151.24 L1309.30,151.06 L1309.60,150.89 L1309.90,150.71 L1310.20,150.54 L1310.50,150.37 L1310.80,150.19 L1311.10,150.02 L1311.40,149.85 L1311.70,149.68 L1312.00,149.51 L1312.31,149.34 L1312.61,149.17 L1312.91,149.00 L1313.21,148.83 L1313.51,148.67 L1313.81,148.50 L1314.11,148.34 L1314.41,148.18 L1314.71,148.02 L1315.01,147.86 L1315.31,147.71 L1315.61,147.55 L1315.92,147.41 L1316.22,147.26 L1316.52,147.13 L1316.82,147.00 L1317.12,146.87 L1317.42,146.76 L1317.72,146.66 L1318.02,146.57 L1318.32,146.50 L1318.62,146.44 L1318.92,146.41 L1319.22,146.40 L1319.53,146.41 L1319.83,146.44 L1320.13,146.50 L1320.43,146.57 L1320.73,146.66 L1321.03,146.76 L1321.33,146.87 L1321.63,147.00 L1321.93,147.13 L1322.23,147.26 L1322.53,147.41 L1322.84,147.55 L1323.14,147.71 L1323.44,147.86 L1323.74,148.02 L1324.04,148.18 L1324.34,148.34 L1324.64,148.50 L1324.94,148.67 L1325.24,148.83 L1325.54,149.00 L1325.84,149.17 L1326.14,149.34 L1326.45,149.51 L1326.75,149.68 L1327.05,149.85 L1327.35,150.02 L1327.65,150.19 L1327.95,150.37 L1328.25,150.54 L1328.55,150.71 L1328.85,150.89 L1329.15,151.06 L1329.45,151.24 L1329.75,151.41 L1330.06,151.59 L1330.36,151.76 L1330.66,151.94 L1330.96,152.11 L1331.26,152.29 L1331.56,152.47 L1331.86,152.64 L1332.16,152.82 L1332.46,152.99 L1332.76,153.17 L1333.06,153.34 L1333.36,153.52 L1333.67,153.69 L1333.97,153.86 L1334.27,154.03 L1334.57,154.19 L1334.87,154.36 L1335.17,154.52 L1335.47,154.67 L1335.77,154.83 L1336.07,154.98 L1336.37,155.14 L1336.67,155.33 L1336.98,155.55 L1337.28,155.83 L1337.58,156.20 L1337.88,156.68 L1338.18,157.28 L1338.48,157.99 L1338.78,158.79 L1339.08,159.66 L1339.38,160.55 L1339.68,161.47 L1339.98,162.38 L1340.28,163.29 L1340.59,164.19 L1340.89,165.09 L1341.19,165.98 L1341.49,166.88 L1341.79,167.77 L1342.09,168.66 L1342.39,169.56 L1342.69,170.47 L1342.99,171.37 L1343.29,172.29 L1343.59,173.21 L1343.89,174.13 L1344.20,175.06 L1344.50,176.00 L1344.80,176.94 L1345.10,177.89 L1345.40,178.84 L1345.70,179.80 L1346.00,180.77 L1346.30,181.73 L1346.60,182.70 L1346.90,183.68 L1347.20,184.66 L1347.50,185.64 L1347.81,186.63 L1348.11,187.62 L1348.41,188.61 L1348.71,189.61 L1349.01,190.61 L1349.31,191.61 L1349.61,192.61 L1349.91,193.61 L1350.21,194.62 L1350.51,195.63 L1350.81,196.64 L1351.12,197.65 L1351.42,198.66 L1351.72,199.67 L1352.02,200.68 L1352.32,201.69 L1352.62,202.70 L1352.92,203.71 L1353.22,204.72 L1353.52,205.74 L1353.82,206.75 L1354.12,207.76 L1354.42,208.76 L1354.73,209.77 L1355.03,210.78 L1355.33,211.78 L1355.63,212.79 L1355.93,213.79 L1356.23,214.79 L1356.53,215.79 L1356.83,216.78 L1357.13,217.78 L1357.43,218.77 L1357.73,219.76 L1358.03,220.75 L1358.34,221.73 L1358.64,222.72 L1358.94,223.70 L1359.24,224.67 L1359.54,225.65 L1359.84,226.62 L1360.14,227.59 L1360.44,228.55 L1360.74,229.52 L1361.04,230.47 L1361.34,231.43 L1361.64,232.38 L1361.95,233.33 L1362.25,234.28 L1362.55,235.22 L1362.85,236.16 L1363.15,237.09 L1363.45,238.02 L1363.75,238.95 L1364.05,239.87 L1364.35,240.79 L1364.65,241.71 L1364.95,242.62 L1365.26,243.53 L1365.56,244.43 L1365.86,245.33 L1366.16,246.23 L1366.46,247.12 L1366.76,248.01 L1367.06,248.89 L1367.36,249.77 L1367.66,250.65 L1367.96,251.52 L1368.26,252.39 L1368.56,253.25 L1368.87,254.11 L1369.17,254.96 L1369.47,255.82 L1369.77,256.66 L1370.07,257.50 L1370.37,258.34 L1370.67,259.18 L1370.97,260.01 L1371.27,260.83 L1371.57,261.65 L1371.87,262.47 L1372.17,263.28 L1372.48,264.09 L1372.78,264.89 L1373.08,265.69 L1373.38,266.49 L1373.68,267.28 L1373.98,268.07 L1374.28,268.85 L1374.58,269.63 L1374.88,270.41 L1375.18,271.18 L1375.48,271.94 L1375.78,272.71 L1376.09,273.47 L1376.39,274.22 L1376.69,274.97 L1376.99,275.72 L1377.29,276.46 L1377.59,277.20 L1377.89,277.93 L1378.19,278.66 L1378.49,279.38 L1378.79,280.11 L1379.09,280.82 L1379.39,281.54 L1380.90,285.05 L1382.40,288.46 L1383.91,291.78 L1385.41,295.00 L1386.92,298.14 L1388.42,301.19 L1389.92,304.16 L1391.43,307.04 L1392.93,309.85 L1394.44,312.57 L1395.94,315.23 L1397.45,317.81 L1398.95,320.32 L1400.45,322.77 L1401.96,325.15 L1403.46,327.47 L1404.97,329.73 L1406.47,331.93 L1407.98,334.08 L1409.48,336.17 L1410.98,338.20 L1412.49,340.19 L1413.99,342.13 L1415.50,344.02 L1417.00,345.86 L1418.51,347.67 L1420.01,349.42 L1421.51,351.14 L1423.02,352.82 L1424.52,354.46 L1426.03,356.06 L1427.53,357.62 L1429.04,359.15 L1430.54,360.65 L1432.04,362.11 L1433.55,363.54 L1435.05,364.94 L1436.56,366.31 L1438.06,367.65 L1439.57,368.97 L1441.07,370.25 L1442.57,371.51 L1444.08,372.75 L1445.58,373.96 L1447.09,375.15 L1448.59,376.31 L1450.09,377.45 L1451.60,378.57 L1453.10,379.66 L1454.61,380.74 L1456.11,381.79 L1457.62,382.83 L1459.12,383.85 L1460.62,384.84 L1462.13,385.82 L1463.63,386.79 L1465.14,387.73 L1466.64,388.66 L1468.15,389.57 L1469.65,390.47" fill="none" stroke="#7a1d8e" stroke-width="2.60" stroke-linejoin="round" clip-path="url(#cb)"/>
<path d="M1168.80,376.64 L1170.30,375.88 L1171.81,375.08 L1173.31,374.26 L1174.82,373.40 L1176.32,372.51 L1177.83,371.60 L1179.33,370.64 L1180.83,369.66 L1182.34,368.64 L1183.84,367.58 L1185.35,366.49 L1186.85,365.35 L1188.36,364.18 L1189.86,362.97 L1191.36,361.72 L1192.87,360.43 L1194.37,359.09 L1195.88,357.71 L1197.38,356.28 L1198.88,354.81 L1200.39,353.29 L1201.89,351.72 L1203.40,350.10 L1204.90,348.43 L1206.41,346.71 L1207.91,344.94 L1209.41,343.12 L1210.92,341.24 L1212.42,339.31 L1213.93,337.32 L1215.43,335.27 L1216.94,333.17 L1218.44,331.01 L1219.94,328.79 L1221.45,326.51 L1222.95,324.17 L1224.46,321.77 L1225.96,319.32 L1227.47,316.80 L1228.97,314.21 L1230.47,311.57 L1231.98,308.87 L1233.48,306.10 L1234.99,303.27 L1236.49,300.38 L1238.00,297.43 L1239.50,294.42 L1241.00,291.35 L1242.51,288.22 L1244.01,285.03 L1245.52,281.78 L1247.02,278.48 L1248.53,275.12 L1250.03,271.71 L1251.53,268.25 L1253.04,264.73 L1254.54,261.17 L1256.05,257.56 L1257.55,253.91 L1259.06,250.22 L1259.36,249.47 L1259.66,248.73 L1259.96,247.98 L1260.26,247.23 L1260.56,246.49 L1260.86,245.73 L1261.16,244.98 L1261.46,244.23 L1261.76,243.47 L1262.06,242.72 L1262.36,241.96 L1262.67,241.20 L1262.97,240.44 L1263.27,239.68 L1263.57,238.92 L1263.87,238.15 L1264.17,237.39 L1264.47,236.62 L1264.77,235.86 L1265.07,235.09 L1265.37,234.32 L1265.67,233.55 L1265.97,232.78 L1266.28,232.00 L1266.58,231.23 L1266.88,230.46 L1267.18,229.68 L1267.48,228.91 L1267.78,228.13 L1268.08,227.35 L1268.38,226.58 L1268.68,225.80 L1268.98,225.02 L1269.28,224.24 L1269.58,223.46 L1269.89,222.68 L1270.19,221.90 L1270.49,221.12 L1270.79,220.33 L1271.09,219.55 L1271.39,218.77 L1271.69,217.98 L1271.99,217.20 L1272.29,216.42 L1272.59,215.63 L1272.89,214.85 L1273.19,214.06 L1273.50,213.28 L1273.80,212.50 L1274.10,211.71 L1274.40,210.93 L1274.70,210.14 L1275.00,209.36 L1275.30,208.57 L1275.60,207.79 L1275.90,207.01 L1276.20,206.22 L1276.50,205.44 L1276.81,204.66 L1277.11,203.87 L1277.41,203.09 L1277.71,202.31 L1278.01,201.53 L1278.31,200.75 L1278.61,199.97 L1278.91,199.19 L1279.21,198.41 L1279.51,197.64 L1279.81,196.86 L1280.11,196.08 L1280.42,195.31 L1280.72,194.53 L1281.02,193.76 L1281.32,192.99 L1281.62,192.22 L1281.92,191.45 L1282.22,190.68 L1282.52,189.91 L1282.82,189.15 L1283.12,188.38 L1283.42,187.62 L1283.72,186.86 L1284.03,186.10 L1284.33,185.34 L1284.63,184.58 L1284.93,183.83 L1285.23,183.07 L1285.53,182.32 L1285.83,181.57 L1286.13,180.82 L1286.43,180.08 L1286.73,179.33 L1287.03,178.59 L1287.33,177.85 L1287.64,177.11 L1287.94,176.38 L1288.24,175.64 L1288.54,174.91 L1288.84,174.18 L1289.14,173.45 L1289.44,172.72 L1289.74,171.99 L1290.04,171.26 L1290.34,170.53 L1290.64,169.79 L1290.95,169.06 L1291.25,168.31 L1291.55,167.56 L1291.85,166.81 L1292.15,166.04 L1292.45,165.26 L1292.75,164.48 L1293.05,163.69 L1293.35,162.92 L1293.65,162.17 L1293.95,161.46 L1294.25,160.83 L1294.56,160.28 L1294.86,159.82 L1295.16,159.45 L1295.46,159.16 L1295.76,158.92 L1296.06,158.72 L1296.36,158.54 L1296.66,158.38 L1296.96,158.22 L1297.26,158.06 L1297.56,157.90 L1297.86,157.74 L1298.17,157.57 L1298.47,157.41 L1298.77,157.24 L1299.07,157.06 L1299.37,156.89 L1299.67,156.72 L1299.97,156.54 L1300.27,156.37 L1300.57,156.19 L1300.87,156.01 L1301.17,155.84 L1301.47,155.66 L1301.78,155.48 L1302.08,155.30 L1302.38,155.12 L1302.68,154.95 L1302.98,154.77 L1303.28,154.59 L1303.58,154.41 L1303.88,154.24 L1304.18,154.06 L1304.48,153.88 L1304.78,153.71 L1305.09,153.53 L1305.39,153.35 L1305.69,153.17 L1305.99,153.00 L1306.29,152.82 L1306.59,152.64 L1306.89,152.47 L1307.19,152.29 L1307.49,152.12 L1307.79,151.94 L1308.09,151.76 L1308.39,151.59 L1308.70,151.41 L1309.00,151.24 L1309.30,151.06 L1309.60,150.89 L1309.90,150.71 L1310.20,150.54 L1310.50,150.37 L1310.80,150.19 L1311.10,150.02 L1311.40,149.85 L1311.70,149.68 L1312.00,149.51 L1312.31,149.34 L1312.61,149.17 L1312.91,149.00 L1313.21,148.83 L1313.51,148.67 L1313.81,148.50 L1314.11,148.34 L1314.41,148.18 L1314.71,148.02 L1315.01,147.86 L1315.31,147.71 L1315.61,147.55 L1315.92,147.41 L1316.22,147.26 L1316.52,147.13 L1316.82,147.00 L1317.12,146.87 L1317.42,146.76 L1317.72,146.66 L1318.02,146.57 L1318.32,146.50 L1318.62,146.44 L1318.92,146.41 L1319.22,146.40 L1319.53,146.41 L1319.83,146.44 L1320.13,146.50 L1320.43,146.57 L1320.73,146.66 L1321.03,146.76 L1321.33,146.87 L1321.63,147.00 L1321.93,147.13 L1322.23,147.26 L1322.53,147.41 L1322.84,147.55 L1323.14,147.71 L1323.44,147.86 L1323.74,148.02 L1324.04,148.18 L1324.34,148.34 L1324.64,148.50 L1324.94,148.67 L1325.24,148.83 L1325.54,149.00 L1325.84,149.17 L1326.14,149.34 L1326.45,149.51 L1326.75,149.68 L1327.05,149.85 L1327.35,150.02 L1327.65,150.19 L1327.95,150.37 L1328.25,150.54 L1328.55,150.71 L1328.85,150.89 L1329.15,151.06 L1329.45,151.24 L1329.75,151.41 L1330.06,151.59 L1330.36,151.76 L1330.66,151.94 L1330.96,152.12 L1331.26,152.29 L1331.56,152.47 L1331.86,152.64 L1332.16,152.82 L1332.46,153.00 L1332.76,153.17 L1333.06,153.35 L1333.36,153.53 L1333.67,153.71 L1333.97,153.88 L1334.27,154.06 L1334.57,154.24 L1334.87,154.41 L1335.17,154.59 L1335.47,154.77 L1335.77,154.95 L1336.07,155.12 L1336.37,155.30 L1336.67,155.48 L1336.98,155.66 L1337.28,155.84 L1337.58,156.01 L1337.88,156.19 L1338.18,156.37 L1338.48,156.54 L1338.78,156.72 L1339.08,156.89 L1339.38,157.06 L1339.68,157.24 L1339.98,157.41 L1340.28,157.57 L1340.59,157.74 L1340.89,157.90 L1341.19,158.06 L1341.49,158.22 L1341.79,158.38 L1342.09,158.54 L1342.39,158.72 L1342.69,158.92 L1342.99,159.16 L1343.29,159.45 L1343.59,159.82 L1343.89,160.28 L1344.20,160.83 L1344.50,161.46 L1344.80,162.17 L1345.10,162.92 L1345.40,163.69 L1345.70,164.48 L1346.00,165.26 L1346.30,166.04 L1346.60,166.81 L1346.90,167.56 L1347.20,168.31 L1347.50,169.06 L1347.81,169.79 L1348.11,170.53 L1348.41,171.26 L1348.71,171.99 L1349.01,172.72 L1349.31,173.45 L1349.61,174.18 L1349.91,174.91 L1350.21,175.64 L1350.51,176.38 L1350.81,177.11 L1351.12,177.85 L1351.42,178.59 L1351.72,179.33 L1352.02,180.08 L1352.32,180.82 L1352.62,181.57 L1352.92,182.32 L1353.22,183.07 L1353.52,183.83 L1353.82,184.58 L1354.12,185.34 L1354.42,186.10 L1354.73,186.86 L1355.03,187.62 L1355.33,188.38 L1355.63,189.15 L1355.93,189.91 L1356.23,190.68 L1356.53,191.45 L1356.83,192.22 L1357.13,192.99 L1357.43,193.76 L1357.73,194.53 L1358.03,195.31 L1358.34,196.08 L1358.64,196.86 L1358.94,197.64 L1359.24,198.41 L1359.54,199.19 L1359.84,199.97 L1360.14,200.75 L1360.44,201.53 L1360.74,202.31 L1361.04,203.09 L1361.34,203.87 L1361.64,204.66 L1361.95,205.44 L1362.25,206.22 L1362.55,207.01 L1362.85,207.79 L1363.15,208.57 L1363.45,209.36 L1363.75,210.14 L1364.05,210.93 L1364.35,211.71 L1364.65,212.50 L1364.95,213.28 L1365.26,214.06 L1365.56,214.85 L1365.86,215.63 L1366.16,216.42 L1366.46,217.20 L1366.76,217.98 L1367.06,218.77 L1367.36,219.55 L1367.66,220.33 L1367.96,221.12 L1368.26,221.90 L1368.56,222.68 L1368.87,223.46 L1369.17,224.24 L1369.47,225.02 L1369.77,225.80 L1370.07,226.58 L1370.37,227.35 L1370.67,228.13 L1370.97,228.91 L1371.27,229.68 L1371.57,230.46 L1371.87,231.23 L1372.17,232.00 L1372.48,232.78 L1372.78,233.55 L1373.08,234.32 L1373.38,235.09 L1373.68,235.86 L1373.98,236.62 L1374.28,237.39 L1374.58,238.15 L1374.88,238.92 L1375.18,239.68 L1375.48,240.44 L1375.78,241.20 L1376.09,241.96 L1376.39,242.72 L1376.69,243.47 L1376.99,244.23 L1377.29,244.98 L1377.59,245.73 L1377.89,246.49 L1378.19,247.23 L1378.49,247.98 L1378.79,248.73 L1379.09,249.47 L1379.39,250.22 L1380.90,253.91 L1382.40,257.56 L1383.91,261.17 L1385.41,264.73 L1386.92,268.25 L1388.42,271.71 L1389.92,275.12 L1391.43,278.48 L1392.93,281.78 L1394.44,285.03 L1395.94,288.22 L1397.45,291.35 L1398.95,294.42 L1400.45,297.43 L1401.96,300.38 L1403.46,303.27 L1404.97,306.10 L1406.47,308.87 L1407.98,311.57 L1409.48,314.21 L1410.98,316.80 L1412.49,319.32 L1413.99,321.77 L1415.50,324.17 L1417.00,326.51 L1418.51,328.79 L1420.01,331.01 L1421.51,333.17 L1423.02,335.27 L1424.52,337.32 L1426.03,339.31 L1427.53,341.24 L1429.04,343.12 L1430.54,344.94 L1432.04,346.71 L1433.55,348.43 L1435.05,350.10 L1436.56,351.72 L1438.06,353.29 L1439.57,354.81 L1441.07,356.28 L1442.57,357.71 L1444.08,359.09 L1445.58,360.43 L1447.09,361.72 L1448.59,362.97 L1450.09,364.18 L1451.60,365.35 L1453.10,366.49 L1454.61,367.58 L1456.11,368.64 L1457.62,369.66 L1459.12,370.64 L1460.62,371.60 L1462.13,372.51 L1463.63,373.40 L1465.14,374.26 L1466.64,375.08 L1468.15,375.88 L1469.65,376.64" fill="none" stroke="#8e1a4c" stroke-width="2.60" stroke-linejoin="round" clip-path="url(#cb)"/>
<path d="M1168.80,362.88 L1170.30,361.90 L1171.81,360.89 L1173.31,359.85 L1174.82,358.78 L1176.32,357.66 L1177.83,356.51 L1179.33,355.33 L1180.83,354.10 L1182.34,352.84 L1183.84,351.54 L1185.35,350.19 L1186.85,348.81 L1188.36,347.38 L1189.86,345.90 L1191.36,344.39 L1192.87,342.82 L1194.37,341.21 L1195.88,339.55 L1197.38,337.85 L1198.88,336.09 L1200.39,334.29 L1201.89,332.43 L1203.40,330.53 L1204.90,328.57 L1206.41,326.56 L1207.91,324.50 L1209.41,322.38 L1210.92,320.21 L1212.42,317.98 L1213.93,315.70 L1215.43,313.37 L1216.94,310.98 L1218.44,308.53 L1219.94,306.03 L1221.45,303.48 L1222.95,300.87 L1224.46,298.21 L1225.96,295.49 L1227.47,292.72 L1228.97,289.90 L1230.47,287.03 L1231.98,284.10 L1233.48,281.13 L1234.99,278.11 L1236.49,275.04 L1238.00,271.93 L1239.50,268.78 L1241.00,265.58 L1242.51,262.34 L1244.01,259.07 L1245.52,255.77 L1247.02,252.43 L1248.53,249.07 L1250.03,245.67 L1251.53,242.26 L1253.04,238.83 L1254.54,235.38 L1256.05,231.92 L1257.55,228.45 L1259.06,224.98 L1259.36,224.28 L1259.66,223.59 L1259.96,222.89 L1260.26,222.20 L1260.56,221.50 L1260.86,220.81 L1261.16,220.12 L1261.46,219.42 L1261.76,218.73 L1262.06,218.04 L1262.36,217.34 L1262.67,216.65 L1262.97,215.96 L1263.27,215.27 L1263.57,214.58 L1263.87,213.89 L1264.17,213.20 L1264.47,212.51 L1264.77,211.82 L1265.07,211.13 L1265.37,210.44 L1265.67,209.76 L1265.97,209.07 L1266.28,208.38 L1266.58,207.70 L1266.88,207.02 L1267.18,206.34 L1267.48,205.65 L1267.78,204.97 L1268.08,204.30 L1268.38,203.62 L1268.68,202.94 L1268.98,202.26 L1269.28,201.59 L1269.58,200.92 L1269.89,200.25 L1270.19,199.57 L1270.49,198.91 L1270.79,198.24 L1271.09,197.57 L1271.39,196.91 L1271.69,196.24 L1271.99,195.58 L1272.29,194.92 L1272.59,194.26 L1272.89,193.61 L1273.19,192.95 L1273.50,192.30 L1273.80,191.65 L1274.10,191.00 L1274.40,190.35 L1274.70,189.71 L1275.00,189.06 L1275.30,188.42 L1275.60,187.78 L1275.90,187.15 L1276.20,186.51 L1276.50,185.88 L1276.81,185.25 L1277.11,184.62 L1277.41,183.99 L1277.71,183.37 L1278.01,182.75 L1278.31,182.13 L1278.61,181.51 L1278.91,180.90 L1279.21,180.29 L1279.51,179.68 L1279.81,179.07 L1280.11,178.46 L1280.42,177.86 L1280.72,177.26 L1281.02,176.66 L1281.32,176.06 L1281.62,175.47 L1281.92,174.87 L1282.22,174.28 L1282.52,173.68 L1282.82,173.09 L1283.12,172.49 L1283.42,171.89 L1283.72,171.28 L1284.03,170.67 L1284.33,170.06 L1284.63,169.44 L1284.93,168.81 L1285.23,168.18 L1285.53,167.55 L1285.83,166.94 L1286.13,166.34 L1286.43,165.78 L1286.73,165.26 L1287.03,164.79 L1287.33,164.39 L1287.64,164.04 L1287.94,163.74 L1288.24,163.49 L1288.54,163.27 L1288.84,163.07 L1289.14,162.89 L1289.44,162.72 L1289.74,162.55 L1290.04,162.38 L1290.34,162.21 L1290.64,162.04 L1290.95,161.87 L1291.25,161.70 L1291.55,161.53 L1291.85,161.35 L1292.15,161.18 L1292.45,161.00 L1292.75,160.83 L1293.05,160.65 L1293.35,160.47 L1293.65,160.30 L1293.95,160.12 L1294.25,159.94 L1294.56,159.76 L1294.86,159.58 L1295.16,159.41 L1295.46,159.23 L1295.76,159.05 L1296.06,158.87 L1296.36,158.69 L1296.66,158.51 L1296.96,158.33 L1297.26,158.16 L1297.56,157.98 L1297.86,157.80 L1298.17,157.62 L1298.47,157.44 L1298.77,157.26 L1299.07,157.09 L1299.37,156.91 L1299.67,156.73 L1299.97,156.55 L1300.27,156.37 L1300.57,156.19 L1300.87,156.02 L1301.17,155.84 L1301.47,155.66 L1301.78,155.48 L1302.08,155.30 L1302.38,155.13 L1302.68,154.95 L1302.98,154.77 L1303.28,154.59 L1303.58,154.41 L1303.88,154.24 L1304.18,154.06 L1304.48,153.88 L1304.78,153.71 L1305.09,153.53 L1305.39,153.35 L1305.69,153.17 L1305.99,153.00 L1306.29,152.82 L1306.59,152.64 L1306.89,152.47 L1307.19,152.29 L1307.49,152.12 L1307.79,151.94 L1308.09,151.76 L1308.39,151.59 L1308.70,151.41 L1309.00,151.24 L1309.30,151.06 L1309.60,150.89 L1309.90,150.71 L1310.20,150.54 L1310.50,150.37 L1310.80,150.19 L1311.10,150.02 L1311.40,149.85 L1311.70,149.68 L1312.00,149.51 L1312.31,149.34 L1312.61,149.17 L1312.91,149.00 L1313.21,148.83 L1313.51,148.67 L1313.81,148.50 L1314.11,148.34 L1314.41,148.18 L1314.71,148.02 L1315.01,147.86 L1315.31,147.71 L1315.61,147.55 L1315.92,147.41 L1316.22,147.26 L1316.52,147.13 L1316.82,147.00 L1317.12,146.87 L1317.42,146.76 L1317.72,146.66 L1318.02,146.57 L1318.32,146.50 L1318.62,146.44 L1318.92,146.41 L1319.22,146.40 L1319.53,146.41 L1319.83,146.44 L1320.13,146.50 L1320.43,146.57 L1320.73,146.66 L1321.03,146.76 L1321.33,146.87 L1321.63,147.00 L1321.93,147.13 L1322.23,147.26 L1322.53,147.41 L1322.84,147.55 L1323.14,147.71 L1323.44,147.86 L1323.74,148.02 L1324.04,148.18 L1324.34,148.34 L1324.64,148.50 L1324.94,148.67 L1325.24,148.83 L1325.54,149.00 L1325.84,149.17 L1326.14,149.34 L1326.45,149.51 L1326.75,149.68 L1327.05,149.85 L1327.35,150.02 L1327.65,150.19 L1327.95,150.37 L1328.25,150.54 L1328.55,150.71 L1328.85,150.89 L1329.15,151.06 L1329.45,151.24 L1329.75,151.41 L1330.06,151.59 L1330.36,151.76 L1330.66,151.94 L1330.96,152.12 L1331.26,152.29 L1331.56,152.47 L1331.86,152.64 L1332.16,152.82 L1332.46,153.00 L1332.76,153.17 L1333.06,153.35 L1333.36,153.53 L1333.67,153.71 L1333.97,153.88 L1334.27,154.06 L1334.57,154.24 L1334.87,154.41 L1335.17,154.59 L1335.47,154.77 L1335.77,154.95 L1336.07,155.13 L1336.37,155.30 L1336.67,155.48 L1336.98,155.66 L1337.28,155.84 L1337.58,156.02 L1337.88,156.19 L1338.18,156.37 L1338.48,156.55 L1338.78,156.73 L1339.08,156.91 L1339.38,157.09 L1339.68,157.26 L1339.98,157.44 L1340.28,157.62 L1340.59,157.80 L1340.89,157.98 L1341.19,158.16 L1341.49,158.33 L1341.79,158.51 L1342.09,158.69 L1342.39,158.87 L1342.69,159.05 L1342.99,159.23 L1343.29,159.41 L1343.59,159.58 L1343.89,159.76 L1344.20,159.94 L1344.50,160.12 L1344.80,160.30 L1345.10,160.47 L1345.40,160.65 L1345.70,160.83 L1346.00,161.00 L1346.30,161.18 L1346.60,161.35 L1346.90,161.53 L1347.20,161.70 L1347.50,161.87 L1347.81,162.04 L1348.11,162.21 L1348.41,162.38 L1348.71,162.55 L1349.01,162.72 L1349.31,162.89 L1349.61,163.07 L1349.91,163.27 L1350.21,163.49 L1350.51,163.74 L1350.81,164.04 L1351.12,164.39 L1351.42,164.79 L1351.72,165.26 L1352.02,165.78 L1352.32,166.34 L1352.62,166.94 L1352.92,167.55 L1353.22,168.18 L1353.52,168.81 L1353.82,169.44 L1354.12,170.06 L1354.42,170.67 L1354.73,171.28 L1355.03,171.89 L1355.33,172.49 L1355.63,173.09 L1355.93,173.68 L1356.23,174.28 L1356.53,174.87 L1356.83,175.47 L1357.13,176.06 L1357.43,176.66 L1357.73,177.26 L1358.03,177.86 L1358.34,178.46 L1358.64,179.07 L1358.94,179.68 L1359.24,180.29 L1359.54,180.90 L1359.84,181.51 L1360.14,182.13 L1360.44,182.75 L1360.74,183.37 L1361.04,183.99 L1361.34,184.62 L1361.64,185.25 L1361.95,185.88 L1362.25,186.51 L1362.55,187.15 L1362.85,187.78 L1363.15,188.42 L1363.45,189.06 L1363.75,189.71 L1364.05,190.35 L1364.35,191.00 L1364.65,191.65 L1364.95,192.30 L1365.26,192.95 L1365.56,193.61 L1365.86,194.26 L1366.16,194.92 L1366.46,195.58 L1366.76,196.24 L1367.06,196.91 L1367.36,197.57 L1367.66,198.24 L1367.96,198.91 L1368.26,199.57 L1368.56,200.25 L1368.87,200.92 L1369.17,201.59 L1369.47,202.26 L1369.77,202.94 L1370.07,203.62 L1370.37,204.30 L1370.67,204.97 L1370.97,205.65 L1371.27,206.34 L1371.57,207.02 L1371.87,207.70 L1372.17,208.38 L1372.48,209.07 L1372.78,209.76 L1373.08,210.44 L1373.38,211.13 L1373.68,211.82 L1373.98,212.51 L1374.28,213.20 L1374.58,213.89 L1374.88,214.58 L1375.18,215.27 L1375.48,215.96 L1375.78,216.65 L1376.09,217.34 L1376.39,218.04 L1376.69,218.73 L1376.99,219.42 L1377.29,220.12 L1377.59,220.81 L1377.89,221.50 L1378.19,222.20 L1378.49,222.89 L1378.79,223.59 L1379.09,224.28 L1379.39,224.98 L1380.90,228.45 L1382.40,231.92 L1383.91,235.38 L1385.41,238.83 L1386.92,242.26 L1388.42,245.67 L1389.92,249.07 L1391.43,252.43 L1392.93,255.77 L1394.44,259.07 L1395.94,262.34 L1397.45,265.58 L1398.95,268.78 L1400.45,271.93 L1401.96,275.04 L1403.46,278.11 L1404.97,281.13 L1406.47,284.10 L1407.98,287.03 L1409.48,289.90 L1410.98,292.72 L1412.49,295.49 L1413.99,298.21 L1415.50,300.87 L1417.00,303.48 L1418.51,306.03 L1420.01,308.53 L1421.51,310.98 L1423.02,313.37 L1424.52,315.70 L1426.03,317.98 L1427.53,320.21 L1429.04,322.38 L1430.54,324.50 L1432.04,326.56 L1433.55,328.57 L1435.05,330.53 L1436.56,332.43 L1438.06,334.29 L1439.57,336.09 L1441.07,337.85 L1442.57,339.55 L1444.08,341.21 L1445.58,342.82 L1447.09,344.39 L1448.59,345.90 L1450.09,347.38 L1451.60,348.81 L1453.10,350.19 L1454.61,351.54 L1456.11,352.84 L1457.62,354.10 L1459.12,355.33 L1460.62,356.51 L1462.13,357.66 L1463.63,358.78 L1465.14,359.85 L1466.64,360.89 L1468.15,361.90 L1469.65,362.88" fill="none" stroke="#d6154c" stroke-width="2.60" stroke-linejoin="round" clip-path="url(#cb)"/>
<rect x="1168.80" y="130.80" width="300.85" height="320.10" fill="none" stroke="#000" stroke-width="2.70"/>
<line x1="1158.40" y1="450.90" x2="1168.80" y2="450.90" stroke="#000" stroke-width="2.50"/>
<text x="1153.00" y="461.70" font-size="31.00" text-anchor="end">0.0</text>
<line x1="1158.40" y1="390.00" x2="1168.80" y2="390.00" stroke="#000" stroke-width="2.50"/>
<text x="1153.00" y="400.80" font-size="31.00" text-anchor="end">0.2</text>
<line x1="1158.40" y1="329.10" x2="1168.80" y2="329.10" stroke="#000" stroke-width="2.50"/>
<text x="1153.00" y="339.90" font-size="31.00" text-anchor="end">0.4</text>
<line x1="1158.40" y1="268.20" x2="1168.80" y2="268.20" stroke="#000" stroke-width="2.50"/>
<text x="1153.00" y="279.00" font-size="31.00" text-anchor="end">0.6</text>
<line x1="1158.40" y1="207.30" x2="1168.80" y2="207.30" stroke="#000" stroke-width="2.50"/>
<text x="1153.00" y="218.10" font-size="31.00" text-anchor="end">0.8</text>
<line x1="1158.40" y1="146.40" x2="1168.80" y2="146.40" stroke="#000" stroke-width="2.50"/>
<text x="1153.00" y="157.20" font-size="31.00" text-anchor="end">1.0</text>
<line x1="1168.80" y1="450.90" x2="1168.80" y2="461.30" stroke="#000" stroke-width="2.50"/>
<text x="1168.80" y="493.50" font-size="31.00" text-anchor="middle">-100</text>
<line x1="1244.01" y1="450.90" x2="1244.01" y2="461.30" stroke="#000" stroke-width="2.50"/>
<text x="1244.01" y="493.50" font-size="31.00" text-anchor="middle">-50</text>
<line x1="1319.22" y1="450.90" x2="1319.22" y2="461.30" stroke="#000" stroke-width="2.50"/>
<text x="1319.22" y="493.50" font-size="31.00" text-anchor="middle">0</text>
<line x1="1394.44" y1="450.90" x2="1394.44" y2="461.30" stroke="#000" stroke-width="2.50"/>
<text x="1394.44" y="493.50" font-size="31.00" text-anchor="middle">50</text>
<line x1="1469.65" y1="450.90" x2="1469.65" y2="461.30" stroke="#000" stroke-width="2.50"/>
<text x="1469.65" y="493.50" font-size="31.00" text-anchor="middle">100</text>
<line x1="1206.41" y1="452.40" x2="1206.41" y2="461.00" stroke="#c4c4c4" stroke-width="1.50"/>
<line x1="1281.62" y1="452.40" x2="1281.62" y2="461.00" stroke="#c4c4c4" stroke-width="1.50"/>
<line x1="1356.83" y1="452.40" x2="1356.83" y2="461.00" stroke="#c4c4c4" stroke-width="1.50"/>
<line x1="1432.04" y1="452.40" x2="1432.04" y2="461.00" stroke="#c4c4c4" stroke-width="1.50"/>
<text x="1319.00" y="534.00" font-size="31.00" text-anchor="middle">x position /μm</text>
<text x="1035.50" y="163.00" font-size="38.00">b)</text>
<text x="1042.00" y="530.30" font-size="38.00">d)</text>
<text transform="translate(1054.70 304.80) rotate(-90)" font-size="31.00" text-anchor="middle">Normalized</text>
<text transform="translate(1093.70 300.50) rotate(-90)" font-size="31.00" text-anchor="middle">Intensity /a.u.</text>
<path d="M1180.92,814.50 L1193.62,808.76 L1196.77,806.71 L1199.92,804.50 L1203.07,802.16 L1206.22,799.69 L1209.37,797.09 L1212.53,794.39 L1215.68,791.59 L1218.83,788.71 L1221.98,785.75 L1225.13,782.72 L1228.28,779.64 L1231.44,776.51 L1234.59,773.35 L1237.74,770.17 L1240.89,766.98 L1244.04,763.79 L1247.20,760.61 L1250.35,757.45 L1253.50,754.31 L1256.65,751.20 L1259.80,748.12 L1262.95,745.07 L1266.11,742.04 L1269.26,739.03 L1272.41,736.04 L1275.56,733.08 L1278.71,730.14 L1281.87,727.22 L1285.02,724.31 L1288.17,721.43 L1291.32,718.56 L1294.47,715.71 L1297.62,712.88 L1300.78,710.06 L1303.93,707.26 L1307.08,704.47 L1310.23,701.71 L1313.38,698.96 L1316.53,696.23 L1319.69,693.52 L1322.84,690.83 L1325.99,688.16 L1329.14,685.51 L1332.29,682.88 L1335.45,680.28 L1338.60,677.69 L1341.75,675.13 L1344.90,672.60 L1348.05,670.08 L1351.20,667.57 L1354.36,665.07 L1357.51,662.57 L1360.66,660.07 L1363.81,657.55 L1366.96,655.02 L1370.11,652.46 L1373.27,649.89 L1376.42,647.33 L1379.57,644.78 L1382.72,642.28 L1385.87,639.82 L1389.03,637.42 L1392.18,635.08 L1395.33,632.78 L1398.48,630.54 L1401.63,628.34 L1404.78,626.17 L1407.94,624.04 L1411.09,621.94 L1414.24,619.87 L1417.39,617.81 L1420.54,615.78 L1423.70,613.77 L1426.85,611.77 L1430.00,609.78 L1433.15,607.81 L1436.30,605.85 L1439.45,603.90 L1442.61,601.95 L1445.76,600.01 L1448.91,598.07 L1452.06,596.14 L1455.21,594.21 L1458.36,592.27 L1461.52,590.33 L1464.67,588.39 L1467.82,586.43 L1470.97,584.47 L1474.12,582.50" fill="none" stroke="#2068a8" stroke-width="2.50" stroke-linejoin="round"/>
<rect x="1175.35" y="569.30" width="300.20" height="256.70" fill="none" stroke="#000" stroke-width="2.70"/>
<line x1="1164.30" y1="791.20" x2="1175.35" y2="791.20" stroke="#000" stroke-width="2.50"/>
<text x="1154.20" y="801.80" font-size="31.00" text-anchor="end">20</text>
<line x1="1164.30" y1="718.60" x2="1175.35" y2="718.60" stroke="#000" stroke-width="2.50"/>
<text x="1154.20" y="729.20" font-size="31.00" text-anchor="end">60</text>
<line x1="1164.30" y1="646.00" x2="1175.35" y2="646.00" stroke="#000" stroke-width="2.50"/>
<text x="1154.20" y="656.60" font-size="31.00" text-anchor="end">100</text>
<line x1="1164.30" y1="573.40" x2="1175.35" y2="573.40" stroke="#000" stroke-width="2.50"/>
<text x="1154.20" y="584.00" font-size="31.00" text-anchor="end">140</text>
<line x1="1224.45" y1="826.00" x2="1224.45" y2="836.70" stroke="#000" stroke-width="2.50"/>
<line x1="1273.55" y1="826.00" x2="1273.55" y2="836.70" stroke="#000" stroke-width="2.50"/>
<line x1="1322.65" y1="826.00" x2="1322.65" y2="836.70" stroke="#000" stroke-width="2.50"/>
<line x1="1371.75" y1="826.00" x2="1371.75" y2="836.70" stroke="#000" stroke-width="2.50"/>
<line x1="1420.85" y1="826.00" x2="1420.85" y2="836.70" stroke="#000" stroke-width="2.50"/>
<line x1="1469.95" y1="826.00" x2="1469.95" y2="836.70" stroke="#000" stroke-width="2.50"/>
<text transform="translate(1053.60 698.05) rotate(-90)" font-size="31.00" text-anchor="middle">Apparent Pattern</text>
<text transform="translate(1090.50 698.55) rotate(-90)" font-size="31.00" text-anchor="middle">Resolution /μm</text>
<path d="M1181.09,862.08 L1194.20,880.09 L1197.35,886.16 L1200.49,892.66 L1203.64,899.44 L1206.79,906.34 L1209.93,913.22 L1213.08,919.92 L1216.22,926.29 L1219.37,932.24 L1222.51,937.79 L1225.66,943.00 L1228.80,947.90 L1231.95,952.53 L1235.09,956.94 L1238.24,961.18 L1241.38,965.28 L1244.53,969.28 L1247.67,973.17 L1250.82,976.98 L1253.96,980.68 L1257.11,984.30 L1260.25,987.82 L1263.40,991.25 L1266.54,994.59 L1269.69,997.84 L1272.83,1001.01 L1275.98,1004.08 L1279.12,1007.08 L1282.27,1009.99 L1285.41,1012.82 L1288.56,1015.57 L1291.70,1018.24 L1294.85,1020.83 L1297.99,1023.35 L1301.14,1025.79 L1304.28,1028.16 L1307.43,1030.45 L1310.58,1032.68 L1313.72,1034.84 L1316.87,1036.92 L1320.01,1038.95 L1323.16,1040.91 L1326.30,1042.81 L1329.45,1044.65 L1332.59,1046.44 L1335.74,1048.17 L1338.88,1049.85 L1342.03,1051.48 L1345.17,1053.06 L1348.32,1054.59 L1351.46,1056.09 L1354.61,1057.54 L1357.75,1058.95 L1360.90,1060.32 L1364.04,1061.66 L1367.19,1062.96 L1370.33,1064.23 L1373.48,1065.48 L1376.62,1066.70 L1379.77,1067.89 L1382.91,1069.06 L1386.06,1070.21 L1389.20,1071.34 L1392.35,1072.46 L1395.49,1073.56 L1398.64,1074.64 L1401.78,1075.71 L1404.93,1076.76 L1408.08,1077.80 L1411.22,1078.82 L1414.37,1079.81 L1417.51,1080.79 L1420.66,1081.75 L1423.80,1082.69 L1426.95,1083.60 L1430.09,1084.50 L1433.24,1085.37 L1436.38,1086.21 L1439.53,1087.04 L1442.67,1087.83 L1445.82,1088.60 L1448.96,1089.35 L1452.11,1090.06 L1455.25,1090.75 L1458.40,1091.41 L1461.54,1092.04 L1464.69,1092.64 L1467.83,1093.21 L1470.98,1093.75 L1474.12,1094.25" fill="none" stroke="#2068a8" stroke-width="2.50" stroke-linejoin="round"/>
<rect x="1175.35" y="851.10" width="300.20" height="255.20" fill="none" stroke="#000" stroke-width="2.70"/>
<line x1="1164.30" y1="1079.60" x2="1175.35" y2="1079.60" stroke="#000" stroke-width="2.50"/>
<text x="1154.20" y="1090.20" font-size="31.00" text-anchor="end">0.4</text>
<line x1="1164.30" y1="994.50" x2="1175.35" y2="994.50" stroke="#000" stroke-width="2.50"/>
<text x="1154.20" y="1005.10" font-size="31.00" text-anchor="end">0.5</text>
<line x1="1164.30" y1="909.40" x2="1175.35" y2="909.40" stroke="#000" stroke-width="2.50"/>
<text x="1154.20" y="920.00" font-size="31.00" text-anchor="end">0.6</text>
<line x1="1175.35" y1="1106.30" x2="1175.35" y2="1117.00" stroke="#000" stroke-width="2.50"/>
<line x1="1224.45" y1="1106.30" x2="1224.45" y2="1117.00" stroke="#000" stroke-width="2.50"/>
<line x1="1273.55" y1="1106.30" x2="1273.55" y2="1117.00" stroke="#000" stroke-width="2.50"/>
<line x1="1322.65" y1="1106.30" x2="1322.65" y2="1117.00" stroke="#000" stroke-width="2.50"/>
<line x1="1371.75" y1="1106.30" x2="1371.75" y2="1117.00" stroke="#000" stroke-width="2.50"/>
<line x1="1420.85" y1="1106.30" x2="1420.85" y2="1117.00" stroke="#000" stroke-width="2.50"/>
<line x1="1469.95" y1="1106.30" x2="1469.95" y2="1117.00" stroke="#000" stroke-width="2.50"/>
<text transform="translate(1053.60 972.90) rotate(-90)" font-size="31.00" text-anchor="middle">Optical</text>
<text transform="translate(1090.50 972.40) rotate(-90)" font-size="31.00" text-anchor="middle">Sectioning /a.u.</text>
<path d="M1180.90,1375.11 L1192.71,1348.58 L1195.87,1342.97 L1199.03,1337.56 L1202.19,1332.34 L1205.35,1327.30 L1208.52,1322.43 L1211.68,1317.73 L1214.84,1313.19 L1218.00,1308.79 L1221.16,1304.54 L1224.33,1300.42 L1227.49,1296.43 L1230.65,1292.56 L1233.81,1288.80 L1236.97,1285.14 L1240.14,1281.57 L1243.30,1278.09 L1246.46,1274.69 L1249.62,1271.38 L1252.78,1268.13 L1255.95,1264.97 L1259.11,1261.87 L1262.27,1258.85 L1265.43,1255.89 L1268.59,1253.00 L1271.76,1250.17 L1274.92,1247.41 L1278.08,1244.70 L1281.24,1242.06 L1284.40,1239.47 L1287.57,1236.93 L1290.73,1234.45 L1293.89,1232.01 L1297.05,1229.63 L1300.21,1227.28 L1303.38,1224.99 L1306.54,1222.73 L1309.70,1220.51 L1312.86,1218.33 L1316.02,1216.19 L1319.19,1214.08 L1322.35,1212.00 L1325.51,1209.95 L1328.67,1207.94 L1331.83,1205.96 L1335.00,1204.01 L1338.16,1202.09 L1341.32,1200.20 L1344.48,1198.34 L1347.64,1196.51 L1350.81,1194.71 L1353.97,1192.94 L1357.13,1191.19 L1360.29,1189.48 L1363.45,1187.79 L1366.62,1186.13 L1369.78,1184.50 L1372.94,1182.89 L1376.10,1181.31 L1379.26,1179.76 L1382.43,1178.23 L1385.59,1176.73 L1388.75,1175.25 L1391.91,1173.79 L1395.07,1172.36 L1398.24,1170.95 L1401.40,1169.57 L1404.56,1168.21 L1407.72,1166.87 L1410.88,1165.55 L1414.05,1164.25 L1417.21,1162.98 L1420.37,1161.73 L1423.53,1160.49 L1426.69,1159.28 L1429.86,1158.08 L1433.02,1156.91 L1436.18,1155.75 L1439.34,1154.61 L1442.50,1153.49 L1445.67,1152.39 L1448.83,1151.30 L1451.99,1150.24 L1455.15,1149.18 L1458.31,1148.15 L1461.48,1147.13 L1464.64,1146.12 L1467.80,1145.13 L1470.96,1144.16 L1474.12,1143.19" fill="none" stroke="#2068a8" stroke-width="2.50" stroke-linejoin="round"/>
<rect x="1175.35" y="1131.40" width="300.20" height="254.90" fill="none" stroke="#000" stroke-width="2.70"/>
<line x1="1164.30" y1="1329.10" x2="1175.35" y2="1329.10" stroke="#000" stroke-width="2.50"/>
<text x="1154.20" y="1339.70" font-size="31.00" text-anchor="end">0.2</text>
<line x1="1164.30" y1="1269.00" x2="1175.35" y2="1269.00" stroke="#000" stroke-width="2.50"/>
<text x="1154.20" y="1279.60" font-size="31.00" text-anchor="end">0.4</text>
<line x1="1164.30" y1="1208.90" x2="1175.35" y2="1208.90" stroke="#000" stroke-width="2.50"/>
<text x="1154.20" y="1219.50" font-size="31.00" text-anchor="end">0.6</text>
<line x1="1164.30" y1="1148.80" x2="1175.35" y2="1148.80" stroke="#000" stroke-width="2.50"/>
<text x="1154.20" y="1159.40" font-size="31.00" text-anchor="end">0.8</text>
<line x1="1175.35" y1="1386.30" x2="1175.35" y2="1397.00" stroke="#000" stroke-width="2.50"/>
<text x="1175.35" y="1428.50" font-size="31.00" text-anchor="middle">0</text>
<line x1="1224.45" y1="1386.30" x2="1224.45" y2="1397.00" stroke="#000" stroke-width="2.50"/>
<text x="1224.45" y="1428.50" font-size="31.00" text-anchor="middle">2</text>
<line x1="1273.55" y1="1386.30" x2="1273.55" y2="1397.00" stroke="#000" stroke-width="2.50"/>
<text x="1273.55" y="1428.50" font-size="31.00" text-anchor="middle">4</text>
<line x1="1322.65" y1="1386.30" x2="1322.65" y2="1397.00" stroke="#000" stroke-width="2.50"/>
<text x="1322.65" y="1428.50" font-size="31.00" text-anchor="middle">6</text>
<line x1="1371.75" y1="1386.30" x2="1371.75" y2="1397.00" stroke="#000" stroke-width="2.50"/>
<text x="1371.75" y="1428.50" font-size="31.00" text-anchor="middle">8</text>
<line x1="1420.85" y1="1386.30" x2="1420.85" y2="1397.00" stroke="#000" stroke-width="2.50"/>
<text x="1420.85" y="1428.50" font-size="31.00" text-anchor="middle">10</text>
<line x1="1469.95" y1="1386.30" x2="1469.95" y2="1397.00" stroke="#000" stroke-width="2.50"/>
<text x="1469.95" y="1428.50" font-size="31.00" text-anchor="middle">12</text>
<text transform="translate(1053.60 1257.85) rotate(-90)" font-size="31.00" text-anchor="middle">Optical</text>
<text transform="translate(1090.50 1252.25) rotate(-90)" font-size="31.00" text-anchor="middle">Efficiency /a.u.</text>
<text x="1328.00" y="1470.50" font-size="31.00" text-anchor="middle">Slit Width /μm</text></svg>
</body></html>
